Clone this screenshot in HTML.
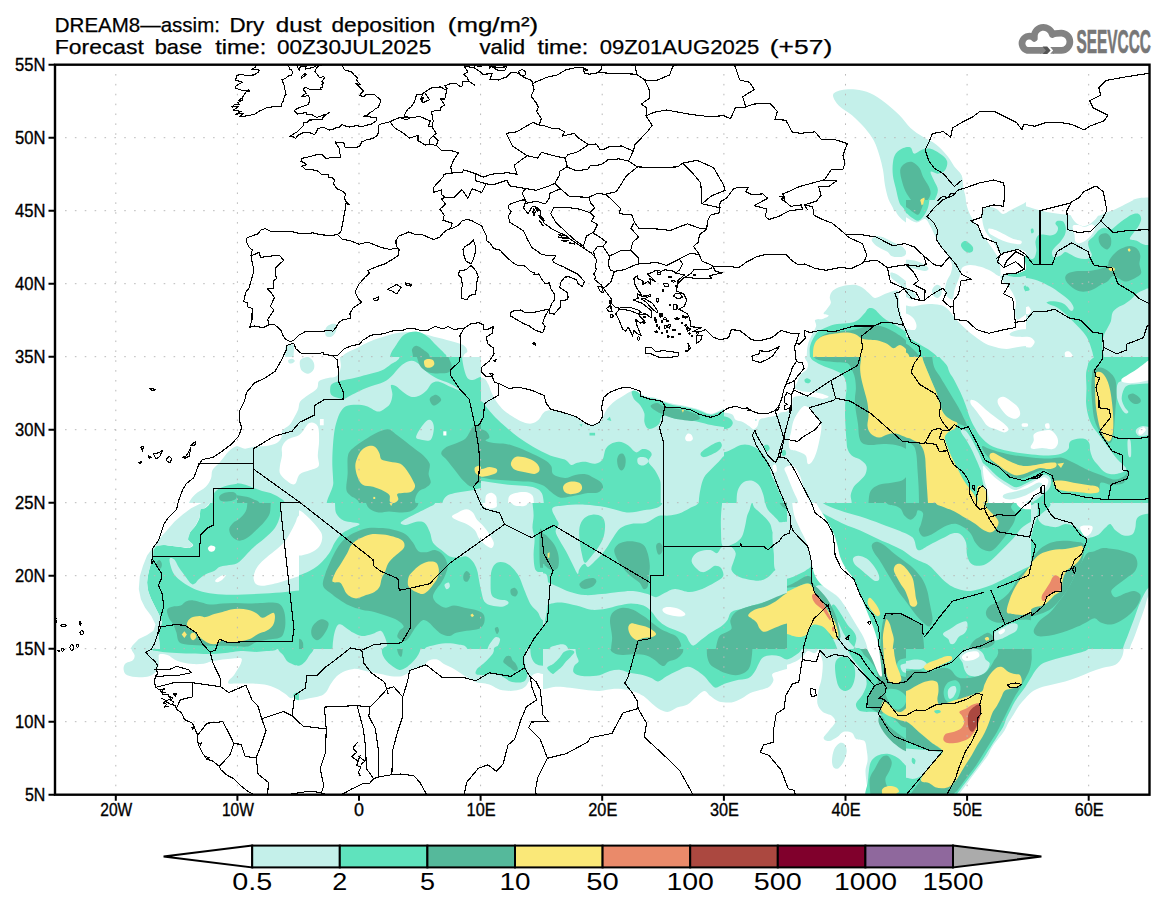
<!DOCTYPE html>
<html><head><meta charset="utf-8"><title>DREAM8-assim Dry dust deposition</title>
<style>html,body{margin:0;padding:0;background:#fff;}svg{display:block}text{font-family:"Liberation Sans",sans-serif;fill:#000}</style></head><body>
<svg width="1165" height="907" viewBox="0 0 1165 907">
<rect width="1165" height="907" fill="#fff"/>
<defs><clipPath id="mc"><rect x="55.0" y="64.7" width="1094.5" height="730.0"/></clipPath></defs>
<g clip-path="url(#mc)">
<clipPath id="t0"><rect x="724.0" y="64.0" width="426.0" height="147.0"/></clipPath>
<g clip-path="url(#t0)">
<path d="M833.0 95.1C833.3 92.5 837.2 91.2 841.0 90.3C844.8 89.4 850.8 89.1 855.6 89.6C860.5 90.1 865.4 91.1 870.3 93.3C875.1 95.4 880.0 98.7 884.9 102.4C889.8 106.0 895.2 110.9 899.5 115.2C903.8 119.5 906.5 124.3 910.5 128.0C914.4 131.6 919.0 134.4 923.3 137.1C927.5 139.9 932.1 141.4 936.1 144.4C940.0 147.5 944.0 151.8 947.0 155.4C950.1 159.1 951.9 163.0 954.3 166.4C956.8 169.7 960.1 171.9 961.7 175.5C963.2 179.2 962.8 184.0 963.5 188.3C964.2 192.6 965.6 194.4 966.0 201.1C966.5 207.8 977.7 224.0 966.0 228.5C954.3 233.1 907.9 231.5 895.8 228.5C883.8 225.6 895.2 215.9 894.0 211.0C892.8 206.1 890.1 203.7 888.5 199.3C887.0 194.9 885.8 189.5 884.9 184.7C884.0 179.8 884.0 174.9 883.0 170.0C882.1 165.2 880.9 160.3 879.4 155.4C877.9 150.5 876.3 145.4 873.9 140.8C871.5 136.2 868.4 132.3 864.8 128.0C861.1 123.7 856.2 118.8 852.0 115.2C847.7 111.5 842.3 109.4 839.2 106.0C836.0 102.7 832.7 97.7 833.0 95.1Z" fill="#c4f0ea"/>
<path d="M892.9 162.7C893.4 159.1 894.1 156.0 895.8 153.6C897.6 151.1 900.7 149.1 903.2 148.1C905.6 147.1 908.6 146.4 910.5 147.4C912.3 148.3 912.3 153.2 914.1 153.6C916.0 154.0 918.7 150.7 921.4 149.9C924.2 149.1 927.5 148.2 930.6 148.8C933.6 149.4 937.0 151.6 939.7 153.6C942.5 155.6 946.1 158.1 947.0 160.9C947.9 163.6 946.7 167.9 945.2 170.0C943.7 172.2 940.3 173.4 937.9 173.7C935.5 174.0 931.2 170.6 930.6 171.9C930.0 173.1 933.0 178.0 934.2 181.0C935.5 184.0 937.9 186.8 937.9 190.1C937.9 193.5 935.8 197.6 934.2 201.1C932.7 204.6 930.0 206.4 928.8 211.0C927.5 215.6 930.6 225.6 926.9 228.5C923.3 231.5 910.5 231.5 906.8 228.5C903.2 225.6 906.2 215.2 905.0 211.0C903.8 206.7 901.0 206.7 899.5 202.9C898.0 199.2 896.9 192.9 895.8 188.3C894.7 183.7 893.4 179.8 892.9 175.5C892.4 171.3 892.4 166.4 892.9 162.7Z" fill="#5fe3bd"/>
<path d="M900.2 170.0C900.7 166.8 903.0 164.8 905.0 163.5C907.0 162.1 909.9 161.2 912.3 162.0C914.7 162.8 917.8 165.6 919.6 168.2C921.4 170.8 921.7 174.3 923.3 177.3C924.8 180.4 927.5 183.7 928.8 186.5C930.0 189.2 930.9 191.4 930.6 193.8C930.3 196.2 928.4 199.3 926.9 201.1C925.4 202.9 923.6 204.5 921.4 204.8C919.3 205.1 916.6 204.8 914.1 202.9C911.7 201.1 908.8 197.2 906.8 193.8C904.9 190.4 903.5 186.8 902.4 182.8C901.3 178.9 899.8 173.3 900.2 170.0Z" fill="#55b99b"/>
<path d="M920.7 199.3L924.4 197.5L925.1 204.8L921.4 206.6Z" fill="#fae878"/>
<path d="M1124.4 211.0C1125.3 206.7 1125.9 205.0 1128.0 202.9C1130.2 200.9 1133.5 199.5 1137.2 198.6C1140.8 197.6 1143.9 197.6 1150.0 197.5C1156.1 197.3 1169.8 192.3 1173.7 197.5C1177.7 202.6 1182.3 223.4 1173.7 228.5C1165.2 233.7 1130.8 231.5 1122.5 228.5C1114.3 225.6 1123.5 215.2 1124.4 211.0Z" fill="#c4f0ea"/>
<path d="M985.4 211.0C986.0 207.4 986.9 208.1 989.1 207.3C991.2 206.6 995.5 206.0 998.2 206.6C1001.0 207.2 1004.3 207.3 1005.5 211.0C1006.8 214.6 1008.9 225.6 1005.5 228.5C1002.2 231.5 988.8 231.5 985.4 228.5C982.1 225.6 984.8 214.5 985.4 211.0Z" fill="#c4f0ea"/>
<path d="M1016.5 211.0C1017.1 207.3 1018.0 207.2 1020.2 206.6C1022.3 206.0 1026.9 206.6 1029.3 207.3C1031.7 208.1 1033.9 207.4 1034.8 211.0C1035.7 214.5 1037.8 225.6 1034.8 228.5C1031.7 231.5 1019.6 231.5 1016.5 228.5C1013.5 225.6 1015.9 214.6 1016.5 211.0Z" fill="#c4f0ea"/>
</g>
<clipPath id="t1"><rect x="237.0" y="211.0" width="488.0" height="146.0"/></clipPath>
<g clip-path="url(#t1)">
<path d="M339.6 378.6C335.4 375.0 338.6 362.4 341.7 357.2C344.9 352.0 353.6 349.9 358.5 347.2C363.4 344.4 366.9 342.6 371.1 340.9C375.2 339.1 378.7 338.1 383.6 336.7C388.5 335.3 394.8 333.2 400.4 332.5C406.0 331.8 411.6 331.8 417.1 332.5C422.7 333.2 428.3 335.3 433.9 336.7C439.5 338.1 445.8 339.5 450.7 340.9C455.5 342.3 460.4 343.3 463.2 345.1C466.0 346.8 467.4 349.3 467.4 351.3C467.4 353.4 463.9 352.7 463.2 357.2C462.5 361.7 479.3 375.0 463.2 378.6C447.2 382.1 387.5 378.6 366.9 378.6C346.3 378.6 343.8 382.1 339.6 378.6Z" fill="#c4f0ea"/>
<path d="M325.8 328.3C326.7 326.3 329.4 324.7 331.3 324.1C333.1 323.6 336.0 323.6 336.7 325.0C337.4 326.3 336.4 330.5 335.4 332.5C334.5 334.4 332.9 336.1 331.3 336.7C329.7 337.2 326.7 337.2 325.8 335.8C324.9 334.4 324.9 330.3 325.8 328.3Z" fill="#c4f0ea"/>
<path d="M286.4 345.9C287.8 344.5 292.4 343.2 293.6 345.1C294.7 346.9 293.6 351.6 293.6 357.2C293.6 362.8 295.0 375.0 293.6 378.6C292.2 382.1 286.6 382.8 285.2 378.6C283.8 374.4 285.0 358.9 285.2 353.4C285.4 348.0 285.0 347.3 286.4 345.9Z" fill="#c4f0ea"/>
<path d="M389.9 357.2C391.0 351.6 393.8 348.8 396.2 345.1C398.6 341.3 401.1 336.8 404.6 334.6C408.1 332.4 413.3 331.3 417.1 331.7C421.0 332.0 424.5 334.4 427.6 336.7C430.8 338.9 433.2 342.3 436.0 345.1C438.8 347.9 442.6 351.4 444.4 353.4C446.1 355.5 446.1 353.0 446.5 357.2C446.8 361.4 455.9 375.0 446.5 378.6C437.0 382.1 399.3 382.1 389.9 378.6C380.5 375.0 388.9 362.8 389.9 357.2Z" fill="#5fe3bd"/>
<path d="M413.0 357.2C412.8 352.3 411.4 351.1 412.1 349.2C412.8 347.4 414.9 345.5 417.1 345.9C419.4 346.2 423.4 349.5 425.5 351.3C427.6 353.2 429.0 352.7 429.7 357.2C430.4 361.7 432.5 375.0 429.7 378.6C426.9 382.1 415.7 382.1 413.0 378.6C410.2 375.0 413.1 362.1 413.0 357.2Z" fill="#55b99b"/>
</g>
<clipPath id="t2"><rect x="724.0" y="211.0" width="244.0" height="146.0"/></clipPath>
<g clip-path="url(#t2)">
<path d="M806.7 370.2C777.6 368.0 806.5 361.2 806.7 357.0C806.9 352.8 806.9 348.8 807.8 345.0C808.6 341.3 810.6 337.7 812.0 334.6C813.4 331.4 815.6 328.6 816.1 326.2C816.7 323.7 814.1 321.1 815.1 319.9C816.1 318.7 820.2 319.6 822.4 318.9C824.7 318.2 828.5 316.6 828.7 315.7C828.9 314.8 823.8 314.7 823.5 313.6C823.1 312.6 825.4 311.2 826.6 309.4C827.8 307.7 830.3 305.2 830.8 303.1C831.3 301.1 829.4 299.0 829.8 296.9C830.1 294.8 831.0 292.3 832.9 290.6C834.8 288.8 837.8 287.4 841.3 286.4C844.8 285.4 850.4 284.5 853.8 284.7C857.3 284.9 859.8 286.1 862.2 287.4C864.7 288.8 866.4 290.9 868.5 292.7C870.6 294.4 872.3 297.6 874.8 297.9C877.2 298.3 880.4 295.8 883.2 294.8C886.0 293.7 889.1 292.3 891.5 291.6C894.0 290.9 896.6 289.4 897.8 290.6C899.0 291.8 898.5 295.8 898.9 299.0C899.2 302.1 899.4 306.3 899.9 309.4C900.4 312.6 901.3 315.2 902.0 317.8C902.7 320.4 903.1 323.0 904.1 325.1C905.2 327.2 906.5 330.0 908.3 330.4C910.0 330.7 913.2 329.0 914.6 327.2C916.0 325.5 916.5 322.5 916.7 319.9C916.8 317.3 916.3 314.0 915.6 311.5C914.9 309.1 912.3 306.6 912.5 305.2C912.7 303.8 914.6 303.3 916.7 303.1C918.8 303.0 921.9 304.2 925.0 304.2C928.2 304.2 932.4 302.8 935.5 303.1C938.7 303.5 941.1 305.2 943.9 306.3C946.7 307.3 950.2 307.2 952.3 309.4C954.4 311.7 954.4 317.5 956.5 319.9C958.6 322.3 962.9 322.7 964.8 324.1C966.8 325.5 965.2 327.4 968.0 328.3C970.8 329.2 979.3 322.3 981.6 329.3C983.9 336.3 1010.7 363.4 981.6 370.2C952.4 377.0 835.9 372.4 806.7 370.2Z" fill="#c4f0ea"/>
<path d="M871.6 239.3C872.0 237.9 874.6 236.3 876.9 236.1C879.1 236.0 882.5 237.2 885.3 238.2C888.0 239.3 890.8 241.0 893.6 242.4C896.4 243.8 899.9 245.0 902.0 246.6C904.1 248.2 905.8 250.3 906.2 251.8C906.5 253.4 905.5 255.2 904.1 256.0C902.7 256.9 899.9 257.1 897.8 257.1C895.7 257.1 893.3 256.9 891.5 256.0C889.8 255.2 889.1 253.1 887.4 251.8C885.6 250.6 883.2 249.9 881.1 248.7C879.0 247.5 876.4 246.1 874.8 244.5C873.2 242.9 871.3 240.7 871.6 239.3Z" fill="#c4f0ea"/>
<path d="M890.5 272.8C891.2 272.1 893.8 273.0 895.7 273.8C897.6 274.7 899.9 276.4 902.0 278.0C904.1 279.6 906.2 281.5 908.3 283.3C910.4 285.0 912.7 286.7 914.6 288.5C916.5 290.2 918.8 292.2 919.8 293.7C920.9 295.3 921.6 297.4 920.9 297.9C920.2 298.4 917.5 297.7 915.6 296.9C913.7 296.0 911.4 294.2 909.3 292.7C907.2 291.1 905.2 289.2 903.1 287.4C901.0 285.7 898.7 283.8 896.8 282.2C894.9 280.6 892.6 279.6 891.5 278.0C890.5 276.4 889.8 273.5 890.5 272.8Z" fill="#c4f0ea"/>
<path d="M906.2 261.3C907.4 260.3 911.8 260.0 914.6 260.2C917.4 260.4 921.0 261.3 923.0 262.3C924.9 263.4 926.4 265.3 926.1 266.5C925.7 267.7 923.1 269.3 920.9 269.6C918.6 270.0 914.8 269.2 912.5 268.6C910.2 268.0 908.3 267.1 907.2 265.9C906.2 264.6 905.0 262.2 906.2 261.3Z" fill="#c4f0ea"/>
<path d="M894.7 198.4C880.4 200.5 894.5 207.5 895.7 211.0C896.9 214.5 899.2 216.8 902.0 219.4C904.8 222.0 908.6 224.1 912.5 226.7C916.3 229.3 921.4 232.1 925.0 235.1C928.7 238.1 931.7 241.5 934.5 244.5C937.3 247.5 939.4 250.1 941.8 252.9C944.2 255.7 947.2 258.6 949.1 261.3C951.1 263.9 952.4 265.8 953.3 268.6C954.2 271.4 953.8 274.7 954.4 278.0C954.9 281.3 956.3 285.0 956.5 288.5C956.6 292.0 955.8 295.5 955.4 299.0C955.1 302.4 954.2 305.9 954.4 309.4C954.5 312.9 954.7 317.5 956.5 319.9C958.2 322.3 960.6 322.7 964.8 324.1C969.0 325.5 978.8 349.2 981.6 328.3C984.4 307.3 996.1 220.1 981.6 198.4C967.1 176.8 909.0 196.3 894.7 198.4Z" fill="#c4f0ea"/>
<path d="M904.1 198.4C900.7 200.5 904.3 208.0 905.2 211.0C906.0 214.0 907.6 214.7 909.3 216.2C911.1 217.8 913.7 219.6 915.6 220.4C917.5 221.3 919.5 222.0 920.9 221.5C922.3 220.9 923.3 219.0 924.0 217.3C924.7 215.5 924.8 214.1 925.0 211.0C925.3 207.9 929.0 200.5 925.5 198.4C922.0 196.3 907.5 196.3 904.1 198.4Z" fill="#5fe3bd"/>
<path d="M916.7 212.0C916.8 211.2 918.5 211.1 919.2 211.4C919.9 211.8 921.0 213.3 920.9 214.1C920.7 214.9 919.0 216.6 918.3 216.2C917.6 215.9 916.5 212.8 916.7 212.0Z" fill="#55b99b"/>
<path d="M961.7 242.4C962.0 241.0 963.8 240.5 964.8 240.3C965.9 240.1 965.2 241.0 968.0 241.4C970.8 241.7 979.3 240.5 981.6 242.4C983.9 244.3 983.9 251.3 981.6 252.9C979.3 254.5 971.1 252.5 968.0 251.8C964.8 251.1 963.8 250.3 962.7 248.7C961.7 247.1 961.3 243.8 961.7 242.4Z" fill="#5fe3bd"/>
<path d="M809.9 357.0C809.9 353.1 809.3 350.2 809.9 347.1C810.4 344.1 811.6 341.4 813.0 338.7C814.4 336.1 816.0 333.3 818.2 331.4C820.5 329.5 823.5 328.5 826.6 327.2C829.8 326.0 833.2 324.8 837.1 324.1C840.9 323.4 846.2 323.7 849.7 323.0C853.1 322.3 855.6 321.5 858.0 319.9C860.5 318.3 862.6 315.5 864.3 313.6C866.1 311.7 866.8 309.1 868.5 308.4C870.2 307.7 872.9 308.4 874.8 309.4C876.7 310.5 878.1 312.9 880.0 314.7C881.9 316.4 884.0 318.3 886.3 319.9C888.6 321.5 891.0 322.5 893.6 324.1C896.3 325.7 899.2 327.6 902.0 329.3C904.8 331.1 907.6 333.0 910.4 334.6C913.2 336.1 916.3 337.0 918.8 338.7C921.2 340.5 923.5 342.6 925.0 345.0C926.6 347.5 927.5 351.4 928.2 353.4C928.9 355.4 928.9 354.2 929.2 357.0C929.6 359.8 950.2 368.0 930.3 370.2C910.4 372.4 829.9 372.4 809.9 370.2C789.8 368.0 809.9 360.8 809.9 357.0Z" fill="#5fe3bd"/>
<path d="M814.1 357.0C814.1 353.1 813.4 350.2 814.1 347.1C814.8 344.1 816.1 341.0 818.2 338.7C820.3 336.5 823.5 334.7 826.6 333.5C829.8 332.3 833.2 331.9 837.1 331.4C840.9 330.9 845.8 330.9 849.7 330.4C853.5 329.8 856.6 329.2 860.1 328.3C863.6 327.4 867.1 325.5 870.6 325.1C874.1 324.8 877.6 325.3 881.1 326.2C884.6 327.1 888.4 328.8 891.5 330.4C894.7 331.9 897.5 333.9 899.9 335.6C902.4 337.4 904.1 338.9 906.2 340.8C908.3 342.8 910.7 344.7 912.5 347.1C914.2 349.6 915.8 351.7 916.7 355.5C917.5 359.3 934.8 367.7 917.7 370.2C900.6 372.6 831.3 372.4 814.1 370.2C796.8 368.0 814.1 360.8 814.1 357.0Z" fill="#55b99b"/>
<path d="M813.0 357.0C813.1 353.1 812.9 350.0 813.6 347.1C814.3 344.3 815.4 341.7 817.2 339.8C819.0 337.9 821.6 336.7 824.5 335.6C827.5 334.6 831.2 334.0 835.0 333.5C838.8 333.0 844.1 332.3 847.6 332.5C851.1 332.6 853.5 333.5 855.9 334.6C858.4 335.6 859.8 337.9 862.2 338.7C864.7 339.6 867.8 339.4 870.6 339.8C873.4 340.1 876.2 340.1 879.0 340.8C881.8 341.5 884.9 342.8 887.4 344.0C889.8 345.2 891.5 348.0 893.6 348.2C895.7 348.3 897.8 344.9 899.9 345.0C902.0 345.2 904.3 347.5 906.2 349.2C908.1 351.0 910.4 352.0 911.4 355.5C912.5 359.0 928.9 367.7 912.5 370.2C896.1 372.6 829.6 372.4 813.0 370.2C796.4 368.0 812.9 360.8 813.0 357.0Z" fill="#fae878"/>
</g>
<clipPath id="t3"><rect x="906.0" y="200.0" width="124.0" height="157.0"/></clipPath>
<g clip-path="url(#t3)">
<path d="M895.6 189.6L1044.6 189.6L1044.6 366.3L895.6 366.3Z" fill="#ffffff"/>
<path d="M926.8 189.6C938.3 186.1 958.4 187.9 964.9 189.6C971.4 191.3 965.2 196.5 965.8 200.0C966.3 203.5 967.0 206.9 968.3 210.4C969.6 213.9 971.5 217.3 973.5 220.8C975.6 224.2 978.2 227.7 980.5 231.2C982.8 234.6 985.2 238.4 987.4 241.6C989.6 244.7 991.6 247.3 993.5 250.2C995.3 253.1 997.5 255.7 998.7 258.9C999.8 262.1 1000.2 266.4 1000.4 269.3C1000.5 272.2 1001.1 275.9 999.5 276.2C997.9 276.5 994.0 272.6 990.9 271.0C987.7 269.4 983.9 267.7 980.5 266.7C977.0 265.7 973.1 264.8 970.1 264.9C967.0 265.1 964.0 265.7 962.3 267.5C960.6 269.4 960.6 273.6 959.7 276.2C958.8 278.8 958.0 280.8 957.1 283.1C956.2 285.4 955.2 287.5 954.5 290.1C953.8 292.7 953.9 297.6 952.8 298.7C951.6 299.9 948.9 298.4 947.6 297.0C946.3 295.5 945.1 292.7 945.0 290.1C944.8 287.5 945.7 284.3 946.7 281.4C947.7 278.5 950.2 275.6 951.0 272.7C951.9 269.9 952.5 267.0 951.9 264.1C951.3 261.2 949.3 258.3 947.6 255.4C945.8 252.5 943.5 249.9 941.5 246.8C939.5 243.6 937.3 239.8 935.4 236.4C933.6 232.9 932.0 228.9 930.2 226.0C928.5 223.1 927.4 219.6 925.1 219.1C922.7 218.5 919.6 222.8 916.4 222.5C913.2 222.2 909.5 219.3 906.0 217.3C902.5 215.3 892.1 215.0 895.6 210.4C899.1 205.8 915.2 193.1 926.8 189.6Z" fill="#c4f0ea"/>
<path d="M982.2 210.4C983.1 208.4 985.1 207.2 987.4 206.9C989.7 206.6 993.5 207.5 996.1 208.7C998.7 209.8 1000.7 213.6 1003.0 213.9C1005.3 214.1 1007.6 211.5 1009.9 210.4C1012.2 209.2 1014.5 208.1 1016.8 206.9C1019.2 205.8 1021.6 204.6 1023.8 203.5C1026.0 202.3 1026.5 201.2 1030.0 200.0C1033.5 198.8 1042.1 187.0 1044.6 196.5C1047.0 206.1 1047.0 247.3 1044.6 257.2C1042.1 267.0 1033.2 256.3 1030.0 255.4C1026.8 254.6 1027.1 253.0 1025.5 252.0C1023.9 250.9 1022.0 249.6 1020.3 249.4C1018.6 249.1 1016.8 249.8 1015.1 250.2C1013.4 250.7 1011.9 251.4 1009.9 252.0C1007.9 252.5 1004.9 253.7 1003.0 253.7C1001.1 253.7 999.8 253.1 998.7 252.0C997.5 250.8 997.1 248.6 996.1 246.8C995.0 244.9 994.0 242.7 992.6 240.7C991.2 238.7 988.8 236.8 987.4 234.6C986.0 232.5 984.8 230.3 983.9 227.7C983.1 225.1 982.5 221.9 982.2 219.1C981.9 216.2 981.3 212.4 982.2 210.4Z" fill="#c4f0ea"/>
<path d="M988.8 228.6C989.9 228.1 993.4 229.3 996.1 230.3C998.7 231.3 1001.8 233.2 1004.7 234.6C1007.6 236.1 1010.6 238.0 1013.4 239.0C1016.1 240.0 1020.0 239.8 1021.2 240.7C1022.3 241.6 1021.9 243.7 1020.3 244.2C1018.7 244.6 1014.5 243.9 1011.6 243.3C1008.8 242.7 1005.9 241.9 1003.0 240.7C1000.1 239.5 996.6 237.7 994.3 236.4C992.0 235.1 990.1 234.2 989.1 232.9C988.2 231.6 987.6 229.0 988.8 228.6Z" fill="#ffffff"/>
<path d="M1000.4 276.2C1001.0 275.0 1004.3 274.5 1006.5 274.5C1008.6 274.5 1011.1 276.2 1013.4 276.2C1015.7 276.2 1017.5 275.0 1020.3 274.5C1023.1 273.9 1026.0 273.0 1030.0 272.7C1034.0 272.5 1042.1 266.4 1044.6 272.7C1047.0 279.1 1047.0 304.2 1044.6 310.8C1042.1 317.5 1033.5 311.7 1030.0 312.6C1026.5 313.4 1026.0 314.9 1023.8 316.0C1021.6 317.2 1018.3 320.4 1016.8 319.5C1015.4 318.6 1015.3 313.7 1015.1 310.8C1015.0 308.0 1016.3 304.9 1016.0 302.2C1015.7 299.4 1014.7 297.0 1013.4 294.4C1012.1 291.8 1009.9 288.8 1008.2 286.6C1006.5 284.4 1004.3 283.1 1003.0 281.4C1001.7 279.7 999.8 277.4 1000.4 276.2Z" fill="#c4f0ea"/>
<path d="M895.6 303.9C897.3 293.8 903.1 305.2 906.0 305.6C908.9 306.1 910.3 306.7 912.9 306.5C915.5 306.4 918.4 305.2 921.6 304.8C924.8 304.3 928.5 303.8 932.0 303.9C935.4 304.1 939.5 304.5 942.4 305.6C945.3 306.8 947.0 308.5 949.3 310.8C951.6 313.2 953.6 316.6 956.2 319.5C958.8 322.4 961.7 325.3 964.9 328.2C968.1 331.0 971.8 334.2 975.3 336.8C978.7 339.4 982.2 342.0 985.7 343.7C989.1 345.5 992.6 346.3 996.1 347.2C999.5 348.1 1003.0 348.9 1006.5 348.9C1009.9 348.9 1012.9 347.8 1016.8 347.2C1020.8 346.6 1025.4 346.1 1030.0 345.5C1034.6 344.9 1042.1 340.3 1044.6 343.7C1047.0 347.2 1069.4 362.5 1044.6 366.3C1019.7 370.0 920.4 376.7 895.6 366.3C870.8 355.9 893.9 314.0 895.6 303.9Z" fill="#c4f0ea"/>
<path d="M1009.9 333.4C1011.1 332.3 1015.2 330.6 1018.6 329.9C1021.9 329.2 1025.7 329.2 1030.0 329.0C1034.3 328.9 1042.1 327.7 1044.6 329.0C1047.0 330.3 1047.0 335.5 1044.6 336.8C1042.1 338.1 1034.3 336.8 1030.0 336.8C1025.7 336.8 1021.6 337.0 1018.6 336.8C1015.5 336.7 1013.1 336.5 1011.6 336.0C1010.2 335.4 1008.8 334.4 1009.9 333.4Z" fill="#c4f0ea"/>
<path d="M895.6 312.6C897.3 310.1 903.1 312.6 906.0 313.4C908.9 314.3 911.2 315.9 912.9 317.8C914.7 319.6 916.1 322.7 916.4 324.7C916.7 326.7 916.4 329.2 914.7 329.9C912.9 330.6 909.2 329.3 906.0 329.0C902.8 328.7 897.3 330.9 895.6 328.2C893.9 325.4 893.9 315.0 895.6 312.6Z" fill="#ffffff"/>
<path d="M895.6 260.6C897.3 259.2 902.8 259.8 906.0 259.8C909.2 259.8 911.8 259.9 914.7 260.6C917.5 261.3 921.0 262.8 923.3 264.1C925.6 265.4 928.2 267.3 928.5 268.4C928.8 269.6 927.1 270.9 925.1 271.0C923.0 271.2 919.6 269.9 916.4 269.3C913.2 268.7 909.5 267.7 906.0 267.5C902.5 267.4 897.3 269.6 895.6 268.4C893.9 267.3 893.9 262.1 895.6 260.6Z" fill="#c4f0ea"/>
<path d="M895.6 286.6C897.3 285.2 903.1 286.6 906.0 287.5C908.9 288.3 911.2 290.2 912.9 291.8C914.7 293.4 916.7 295.7 916.4 297.0C916.1 298.3 912.9 299.6 911.2 299.6C909.5 299.6 908.6 297.6 906.0 297.0C903.4 296.4 897.3 297.9 895.6 296.1C893.9 294.4 893.9 288.0 895.6 286.6Z" fill="#c4f0ea"/>
<path d="M932.0 290.1C932.4 288.2 934.9 285.4 936.3 284.9C937.8 284.3 939.8 285.2 940.6 286.6C941.5 288.0 941.9 291.6 941.5 293.5C941.1 295.4 939.3 297.4 938.0 297.9C936.7 298.3 934.7 297.4 933.7 296.1C932.7 294.8 931.5 291.9 932.0 290.1Z" fill="#c4f0ea"/>
<path d="M895.6 189.6C901.4 186.4 924.6 187.9 930.2 189.6C935.9 191.3 929.8 196.8 929.4 200.0C928.9 203.2 928.7 205.9 927.6 208.7C926.6 211.4 924.9 214.4 923.3 216.5C921.7 218.5 920.1 220.6 918.1 220.8C916.1 220.9 913.2 218.6 911.2 217.3C909.2 216.0 908.6 214.4 906.0 213.0C903.4 211.5 897.3 212.6 895.6 208.7C893.9 204.8 889.8 192.8 895.6 189.6Z" fill="#5fe3bd"/>
<path d="M895.6 189.6C900.5 187.0 920.3 187.9 925.1 189.6C929.8 191.3 924.8 196.8 924.2 200.0C923.6 203.2 922.6 206.2 921.6 208.7C920.6 211.1 919.6 214.1 918.1 214.7C916.7 215.3 914.9 213.4 912.9 212.1C910.9 210.8 908.9 208.1 906.0 206.9C903.1 205.8 897.3 208.1 895.6 205.2C893.9 202.3 890.7 192.2 895.6 189.6Z" fill="#55b99b"/>
<path d="M919.9 189.6L920.2 200.0L921.6 205.2L923.3 204.3L924.2 200.0L924.7 189.6Z" fill="#fae878"/>
<path d="M961.1 244.2C961.4 243.1 962.8 241.5 964.0 241.2C965.2 240.9 966.9 241.5 968.3 242.4C969.8 243.4 972.0 245.3 972.7 246.8C973.4 248.2 973.3 250.1 972.7 251.1C972.1 252.1 970.5 252.8 969.2 252.8C967.9 252.8 966.1 252.0 964.9 251.1C963.6 250.2 962.4 248.8 961.8 247.6C961.1 246.5 960.7 245.2 961.1 244.2Z" fill="#5fe3bd"/>
<path d="M1023.8 257.2C1024.6 255.9 1026.5 255.4 1030.0 254.6C1033.5 253.7 1042.1 247.5 1044.6 252.0C1047.0 256.4 1047.0 276.6 1044.6 281.4C1042.1 286.2 1033.2 281.4 1030.0 280.5C1026.8 279.7 1027.4 276.8 1025.5 276.2C1023.6 275.6 1021.2 277.1 1018.6 277.1C1016.0 277.1 1012.1 276.8 1009.9 276.2C1007.7 275.6 1005.3 274.0 1005.6 273.6C1005.9 273.3 1009.3 274.3 1011.6 274.1C1014.0 274.0 1017.1 273.5 1019.4 272.7C1021.8 271.9 1024.9 271.0 1025.8 269.3C1026.8 267.5 1025.5 264.4 1025.2 262.3C1024.8 260.3 1023.0 258.5 1023.8 257.2Z" fill="#5fe3bd"/>
<path d="M1000.4 257.2C1000.8 255.3 1002.8 253.7 1004.7 252.8C1006.6 252.0 1009.3 251.5 1011.6 252.0C1014.0 252.4 1016.6 253.7 1018.6 255.4C1020.6 257.2 1022.6 260.0 1023.8 262.3C1024.9 264.7 1026.4 267.5 1025.5 269.3C1024.6 271.0 1020.9 272.0 1018.6 272.7C1016.3 273.5 1013.8 274.0 1011.6 273.6C1009.5 273.2 1007.2 271.7 1005.6 270.1C1004.0 268.6 1003.0 266.2 1002.1 264.1C1001.3 261.9 1000.0 259.0 1000.4 257.2Z" fill="#ffffff"/>
<path d="M1023.8 286.6C1024.1 285.7 1026.2 285.4 1027.2 285.7C1028.3 286.0 1029.7 287.3 1030.0 288.3C1030.3 289.3 1029.8 291.4 1029.0 291.8C1028.2 292.2 1026.0 291.8 1025.2 290.9C1024.3 290.1 1023.4 287.5 1023.8 286.6Z" fill="#5fe3bd"/>
<path d="M895.6 335.1C897.3 330.2 903.1 336.0 906.0 336.8C908.9 337.7 910.3 338.8 912.9 340.3C915.5 341.7 918.7 343.7 921.6 345.5C924.5 347.2 927.6 348.7 930.2 350.7C932.8 352.6 936.0 354.5 937.2 357.1C938.3 359.7 944.1 364.7 937.2 366.3C930.2 367.8 902.5 371.5 895.6 366.3C888.7 361.1 893.9 340.0 895.6 335.1Z" fill="#5fe3bd"/>
<path d="M895.6 342.0C897.3 338.3 903.1 342.6 906.0 343.7C908.9 344.9 910.6 346.7 912.9 348.9C915.2 351.2 918.7 354.2 919.9 357.1C921.0 360.0 923.9 364.7 919.9 366.3C915.8 367.8 899.6 370.3 895.6 366.3C891.6 362.2 893.9 345.8 895.6 342.0Z" fill="#55b99b"/>
<path d="M895.6 350.7C897.3 348.4 903.7 351.3 906.0 352.4C908.3 353.5 908.9 354.8 909.5 357.1C910.0 359.4 911.8 364.7 909.5 366.3C907.2 367.8 897.9 368.9 895.6 366.3C893.3 363.7 893.9 353.0 895.6 350.7Z" fill="#fae878"/>
</g>
<clipPath id="t4"><rect x="1026.0" y="200.0" width="124.0" height="157.0"/></clipPath>
<g clip-path="url(#t4)">
<path d="M1015.6 189.6L1164.6 189.6L1164.6 366.3L1015.6 366.3Z" fill="#c4f0ea"/>
<path d="M1015.6 189.6C990.8 192.1 1014.5 201.7 1015.6 204.3C1016.7 206.9 1018.1 204.2 1022.2 205.2C1026.3 206.2 1035.1 209.1 1040.2 210.4C1045.3 211.7 1048.5 212.3 1053.0 213.0C1057.6 213.7 1062.5 214.1 1067.6 214.7C1072.6 215.3 1077.8 216.3 1083.2 216.5C1088.5 216.6 1095.9 216.2 1099.4 215.6C1103.0 215.0 1101.9 214.0 1104.5 213.0C1107.0 212.0 1111.4 211.0 1114.8 209.5C1118.3 208.1 1121.6 206.1 1125.1 204.3C1128.5 202.6 1131.8 200.7 1135.5 199.1C1139.2 197.5 1142.4 196.4 1147.2 194.8C1152.1 193.2 1186.5 190.5 1164.6 189.6C1142.6 188.7 1040.4 187.2 1015.6 189.6Z" fill="#ffffff"/>
<path d="M1067.6 189.6C1062.7 191.3 1068.1 196.5 1068.4 200.0C1068.7 203.5 1068.6 207.2 1069.3 210.4C1070.0 213.6 1071.3 216.7 1072.8 219.1C1074.2 221.4 1075.9 223.1 1078.0 224.2C1080.0 225.4 1082.6 226.3 1084.9 226.0C1087.2 225.7 1089.8 224.0 1091.8 222.5C1093.8 221.1 1095.7 219.3 1097.0 217.3C1098.3 215.3 1099.3 213.3 1099.6 210.4C1099.9 207.5 1099.0 203.5 1098.7 200.0C1098.5 196.5 1103.1 191.3 1097.9 189.6C1092.7 187.9 1072.5 187.9 1067.6 189.6Z" fill="#ffffff"/>
<path d="M1072.8 226.0C1073.3 224.4 1075.9 225.0 1078.0 225.1C1080.0 225.3 1082.6 227.0 1084.9 226.8C1087.2 226.7 1090.1 224.1 1091.8 224.2C1093.5 224.4 1095.3 226.0 1095.3 227.7C1095.3 229.4 1093.3 232.6 1091.8 234.6C1090.4 236.7 1088.6 238.4 1086.6 239.8C1084.6 241.3 1081.6 243.0 1079.7 243.3C1077.8 243.6 1076.2 243.0 1075.4 241.6C1074.5 240.1 1074.9 237.2 1074.5 234.6C1074.1 232.0 1072.2 227.6 1072.8 226.0Z" fill="#ffffff"/>
<path d="M1100.5 189.6C1102.8 187.0 1114.0 187.9 1116.1 189.6C1118.1 191.3 1114.0 197.7 1112.6 200.0C1111.2 202.3 1109.1 202.6 1107.4 203.5C1105.7 204.3 1103.4 207.5 1102.2 205.2C1101.0 202.9 1098.2 192.2 1100.5 189.6Z" fill="#ffffff"/>
<path d="M1015.6 305.6C1017.3 304.4 1023.8 306.9 1026.0 307.0C1028.2 307.2 1027.7 305.9 1028.6 306.5C1029.5 307.1 1031.2 309.5 1031.2 310.8C1031.2 312.1 1029.5 313.8 1028.6 314.3C1027.7 314.8 1028.2 314.0 1026.0 314.0C1023.8 314.0 1017.3 315.7 1015.6 314.3C1013.9 312.9 1013.9 306.9 1015.6 305.6Z" fill="#ffffff"/>
<path d="M1015.6 336.8C1017.3 335.1 1023.4 336.7 1026.0 336.8C1028.6 337.0 1029.8 336.8 1031.2 337.7C1032.6 338.6 1034.7 340.4 1034.7 342.0C1034.7 343.6 1032.6 346.3 1031.2 347.2C1029.8 348.1 1028.6 347.2 1026.0 347.2C1023.4 347.2 1017.3 348.9 1015.6 347.2C1013.9 345.5 1013.9 338.6 1015.6 336.8Z" fill="#ffffff"/>
<path d="M1065.0 352.4C1065.5 351.4 1068.0 351.0 1069.3 351.5C1070.6 352.1 1072.5 354.6 1072.8 355.9C1073.0 357.2 1072.2 359.0 1071.0 359.3C1069.9 359.6 1066.8 358.8 1065.8 357.6C1064.8 356.4 1064.4 353.4 1065.0 352.4Z" fill="#ffffff"/>
<path d="M1015.6 252.0C1017.3 248.3 1023.4 254.3 1026.0 255.4C1028.6 256.6 1029.8 258.6 1031.2 258.9C1032.6 259.2 1033.8 258.6 1034.7 257.2C1035.5 255.7 1036.2 252.8 1036.4 250.2C1036.5 247.6 1035.2 244.0 1035.5 241.6C1035.8 239.1 1036.8 236.7 1038.1 235.5C1039.4 234.3 1041.3 234.6 1043.3 234.6C1045.3 234.6 1048.1 235.8 1050.2 235.5C1052.4 235.2 1055.0 234.2 1056.3 232.9C1057.6 231.6 1058.2 229.3 1058.0 227.7C1057.9 226.1 1055.4 224.5 1055.4 223.4C1055.4 222.2 1056.7 221.1 1058.0 220.8C1059.3 220.5 1061.9 220.5 1063.2 221.6C1064.5 222.8 1065.5 225.5 1065.8 227.7C1066.1 229.9 1065.8 232.3 1065.0 234.6C1064.1 236.9 1062.2 239.5 1060.6 241.6C1059.1 243.6 1056.9 245.0 1055.4 246.8C1054.0 248.5 1052.3 250.2 1052.0 252.0C1051.7 253.7 1052.3 256.6 1053.7 257.2C1055.2 257.7 1058.8 256.3 1060.6 255.4C1062.5 254.6 1063.5 252.2 1065.0 252.0C1066.4 251.7 1067.1 252.7 1069.3 253.7C1071.5 254.7 1075.1 257.2 1078.0 258.0C1080.8 258.9 1084.3 259.3 1086.6 258.9C1088.9 258.5 1091.4 257.2 1091.8 255.4C1092.2 253.7 1089.8 250.8 1089.2 248.5C1088.6 246.2 1087.6 243.6 1088.3 241.6C1089.1 239.5 1091.8 238.2 1093.5 236.4C1095.3 234.5 1097.0 231.8 1098.7 230.3C1100.5 228.9 1101.9 227.9 1103.9 227.7C1106.0 227.6 1108.6 230.0 1110.9 229.4C1113.2 228.9 1115.5 226.0 1117.8 224.2C1120.1 222.5 1122.4 220.6 1124.7 219.1C1127.0 217.5 1129.3 215.6 1131.6 214.7C1134.0 213.9 1137.0 213.1 1138.6 213.9C1140.2 214.6 1141.2 217.0 1141.2 219.1C1141.2 221.1 1139.9 223.7 1138.6 226.0C1137.3 228.3 1134.8 230.7 1133.4 232.9C1131.9 235.1 1129.3 237.7 1129.9 239.0C1130.5 240.3 1134.2 239.7 1136.8 240.7C1139.4 241.7 1140.9 244.0 1145.5 245.0C1150.1 246.0 1161.4 239.3 1164.6 246.8C1167.7 254.3 1167.0 283.1 1164.6 290.1C1162.1 297.0 1153.5 288.3 1150.0 288.3C1146.5 288.3 1146.0 289.2 1143.8 290.1C1141.6 290.9 1138.9 292.1 1136.8 293.5C1134.8 295.0 1133.7 297.0 1131.6 298.7C1129.6 300.5 1127.0 302.5 1124.7 303.9C1122.4 305.4 1119.8 305.9 1117.8 307.4C1115.8 308.8 1113.7 310.3 1112.6 312.6C1111.4 314.9 1111.7 318.6 1110.9 321.2C1110.0 323.8 1108.6 325.9 1107.4 328.2C1106.2 330.5 1104.8 332.5 1103.9 335.1C1103.1 337.7 1102.3 340.9 1102.2 343.7C1102.1 346.6 1102.8 350.2 1103.1 352.4C1103.4 354.6 1103.6 354.8 1103.9 357.1C1104.2 359.4 1106.4 364.7 1104.8 366.3C1103.2 367.8 1096.3 367.8 1094.4 366.3C1092.5 364.7 1094.1 360.3 1093.5 357.1C1093.0 353.9 1092.1 350.6 1090.9 347.2C1089.8 343.8 1088.5 340.0 1086.6 336.8C1084.7 333.6 1082.0 330.8 1079.7 328.2C1077.4 325.6 1075.1 323.5 1072.8 321.2C1070.5 318.9 1068.4 316.6 1065.8 314.3C1063.2 312.0 1060.1 309.1 1057.2 307.4C1054.3 305.6 1050.2 304.8 1048.5 303.9C1046.8 303.0 1045.9 302.6 1046.8 302.2C1047.6 301.7 1050.8 301.0 1053.7 301.3C1056.6 301.6 1061.2 302.3 1064.1 303.9C1067.0 305.5 1069.4 310.3 1071.0 310.8C1072.6 311.4 1073.9 309.1 1073.6 307.4C1073.3 305.6 1071.5 302.8 1069.3 300.5C1067.1 298.1 1063.8 295.8 1060.6 293.5C1057.5 291.2 1053.7 288.6 1050.2 286.6C1046.8 284.6 1043.0 282.7 1039.9 281.4C1036.7 280.1 1033.5 279.4 1031.2 278.8C1028.9 278.2 1028.6 278.2 1026.0 277.9C1023.4 277.6 1017.3 281.4 1015.6 277.1C1013.9 272.7 1013.9 255.6 1015.6 252.0Z" fill="#5fe3bd"/>
<path d="M1030.8 229.4C1031.1 228.7 1032.4 228.1 1032.9 228.6C1033.4 229.0 1034.0 231.3 1033.8 232.0C1033.6 232.8 1032.0 233.7 1031.5 233.3C1031.1 232.8 1030.6 230.2 1030.8 229.4Z" fill="#5fe3bd"/>
<path d="M1015.6 286.6C1017.3 286.0 1023.8 286.5 1026.0 286.6C1028.2 286.7 1028.0 286.9 1028.6 287.5C1029.2 288.0 1029.8 289.5 1029.5 290.1C1029.2 290.6 1029.2 290.9 1026.9 290.9C1024.6 291.0 1017.5 291.1 1015.6 290.4C1013.7 289.7 1013.9 287.2 1015.6 286.6Z" fill="#5fe3bd"/>
<path d="M1098.7 237.2C1099.2 235.6 1100.8 234.3 1102.2 233.8C1103.6 233.2 1106.0 233.1 1107.4 233.8C1108.8 234.5 1110.3 236.2 1110.9 238.1C1111.4 240.0 1111.4 243.2 1110.9 245.0C1110.3 246.9 1108.7 248.9 1107.4 249.4C1106.1 249.8 1104.4 248.6 1103.1 247.6C1101.8 246.6 1100.3 245.0 1099.6 243.3C1098.9 241.6 1098.3 238.8 1098.7 237.2Z" fill="#55b99b"/>
<path d="M1065.5 276.2C1066.1 274.9 1067.2 273.6 1069.3 272.7C1071.4 271.9 1074.8 271.3 1078.0 271.0C1081.1 270.7 1084.9 271.3 1088.3 271.0C1091.8 270.7 1095.6 270.1 1098.7 269.3C1101.9 268.4 1105.7 267.3 1107.4 265.8C1109.1 264.4 1108.0 262.6 1109.1 260.6C1110.3 258.6 1112.3 255.7 1114.3 253.7C1116.3 251.7 1118.7 249.8 1121.3 248.5C1123.9 247.2 1127.3 245.9 1129.9 245.9C1132.5 245.9 1135.1 246.9 1136.8 248.5C1138.6 250.1 1139.9 252.8 1140.3 255.4C1140.7 258.0 1139.3 261.2 1139.4 264.1C1139.6 267.0 1141.6 270.6 1141.2 272.7C1140.7 274.9 1138.7 275.8 1136.8 277.1C1135.0 278.4 1131.9 279.8 1129.9 280.5C1127.9 281.3 1126.7 281.8 1124.7 281.4C1122.7 281.0 1119.8 278.8 1117.8 277.9C1115.8 277.1 1114.3 275.6 1112.6 276.2C1110.9 276.8 1109.4 280.0 1107.4 281.4C1105.4 282.8 1103.1 283.4 1100.5 284.9C1097.9 286.3 1094.7 288.9 1091.8 290.1C1088.9 291.2 1085.8 291.8 1083.2 291.8C1080.6 291.8 1078.5 291.2 1076.2 290.1C1073.9 288.9 1071.0 286.5 1069.3 284.9C1067.6 283.3 1066.5 282.0 1065.8 280.5C1065.2 279.1 1064.9 277.5 1065.5 276.2Z" fill="#55b99b"/>
<path d="M1108.8 268.4C1109.1 267.9 1109.9 267.3 1110.9 267.2C1111.8 267.1 1113.7 267.4 1114.3 267.9C1115.0 268.4 1115.1 269.6 1114.7 270.1C1114.2 270.7 1112.7 271.0 1111.7 271.0C1110.8 271.0 1109.6 270.6 1109.1 270.1C1108.6 269.7 1108.5 268.9 1108.8 268.4Z" fill="#fae878"/>
<path d="M1127.8 249.4C1128.0 248.8 1129.1 248.3 1129.6 248.5C1130.0 248.7 1130.7 250.1 1130.6 250.6C1130.5 251.1 1129.3 251.8 1128.9 251.6C1128.4 251.4 1127.7 249.9 1127.8 249.4Z" fill="#fae878"/>
</g>
<clipPath id="t5"><rect x="55.0" y="357.0" width="182.0" height="146.0"/></clipPath>
<g clip-path="url(#t5)">
<path d="M186.9 516.2C177.9 514.0 187.6 506.6 189.0 503.0C190.4 499.3 192.5 496.9 195.3 494.2C198.1 491.5 203.2 489.5 205.8 486.8C208.4 484.2 209.9 481.3 211.0 478.5C212.1 475.7 211.1 472.7 212.5 470.1C213.9 467.5 216.7 465.9 219.4 462.8C222.1 459.6 225.9 454.0 228.8 451.2C231.8 448.4 234.8 446.7 237.2 446.0C239.6 445.3 242.4 435.4 243.5 447.1C244.5 458.7 252.9 504.6 243.5 516.2C234.1 527.7 196.0 518.4 186.9 516.2Z" fill="#c4f0ea"/>
<path d="M212.1 516.2C206.2 514.0 212.1 506.8 212.5 503.0C212.8 499.1 212.8 495.6 214.2 493.1C215.5 490.6 217.7 489.3 220.4 487.9C223.2 486.5 227.8 485.4 230.9 484.7C234.1 484.1 236.5 483.5 239.3 483.7C242.1 483.9 246.3 480.4 247.7 485.8C249.1 491.2 253.6 511.1 247.7 516.2C241.7 521.2 217.9 518.4 212.1 516.2Z" fill="#5fe3bd"/>
<path d="M219.4 496.3C220.1 495.0 222.4 493.4 224.6 492.7C226.9 492.0 231.0 491.7 233.0 492.1C235.0 492.5 236.4 494.0 236.8 495.2C237.1 496.4 236.8 498.4 235.1 499.4C233.4 500.5 229.2 501.3 226.7 501.5C224.3 501.7 221.7 501.3 220.4 500.5C219.2 499.6 218.7 497.6 219.4 496.3Z" fill="#55b99b"/>
</g>
<clipPath id="t6"><rect x="237.0" y="357.0" width="244.0" height="146.0"/></clipPath>
<g clip-path="url(#t6)">
<path d="M224.4 344.4L494.6 344.4L494.6 516.2L224.4 516.2Z" fill="#c4f0ea"/>
<path d="M224.4 344.4C243.9 327.7 321.8 342.3 341.1 344.4C360.4 346.5 340.1 353.2 340.0 357.0C340.0 360.8 341.3 364.3 340.7 367.5C340.1 370.7 338.6 374.5 336.5 376.3C334.4 378.0 331.0 377.1 328.1 377.9C325.2 378.7 320.9 379.3 319.1 381.1C317.2 382.8 318.8 386.1 317.0 388.4C315.2 390.8 311.0 392.9 308.2 395.1C305.4 397.3 301.9 399.2 300.2 401.6C298.6 404.0 299.2 406.7 298.2 409.4C297.1 412.0 295.4 415.1 294.0 417.7C292.5 420.4 291.3 422.9 289.4 425.1C287.4 427.2 283.6 428.6 282.2 430.7C280.9 432.8 282.3 435.6 281.4 437.6C280.5 439.7 279.3 441.5 276.8 442.9C274.3 444.3 270.0 445.4 266.3 446.0C262.7 446.6 258.4 446.2 254.8 446.6C251.2 447.1 247.9 448.8 245.0 448.7C242.0 448.6 240.4 446.6 237.0 446.0C233.6 445.4 226.5 461.9 224.4 445.0C222.3 428.0 205.0 361.2 224.4 344.4Z" fill="#ffffff"/>
<path d="M300.9 359.5C302.3 358.3 306.1 356.5 308.2 357.0C310.3 357.5 312.7 360.1 313.6 362.2C314.6 364.3 314.6 367.6 313.6 369.6C312.7 371.5 310.2 373.5 308.2 373.8C306.2 374.0 303.3 372.4 301.9 370.8C300.5 369.3 300.0 366.4 299.8 364.5C299.7 362.7 299.5 360.8 300.9 359.5Z" fill="#c4f0ea"/>
<path d="M288.3 360.1C288.8 359.4 290.8 358.6 291.9 358.7C293.0 358.8 294.7 360.0 294.8 360.8C294.9 361.5 293.5 362.9 292.5 363.3C291.5 363.6 289.6 363.4 288.9 362.9C288.2 362.3 287.8 360.8 288.3 360.1Z" fill="#c4f0ea"/>
<path d="M309.3 423.0C312.2 421.6 316.0 423.1 317.6 426.1C319.3 429.1 319.1 435.9 319.1 440.8C319.1 445.7 317.9 451.2 317.8 455.4C317.8 459.6 319.9 463.5 318.7 465.9C317.4 468.3 313.4 468.7 310.3 470.1C307.2 471.5 302.3 472.0 299.8 474.3C297.3 476.5 297.0 482.3 295.2 483.7C293.5 485.1 291.8 484.2 289.4 482.7C286.9 481.1 281.9 477.1 280.4 474.3C278.8 471.5 279.7 469.0 279.9 465.9C280.2 462.8 281.7 458.6 282.0 455.4C282.4 452.3 281.2 449.7 282.0 447.1C282.9 444.4 284.3 441.8 287.3 439.7C290.2 437.6 296.2 437.3 299.8 434.5C303.5 431.7 306.3 424.4 309.3 423.0Z" fill="#ffffff"/>
<path d="M319.9 419.0L323.7 419.0L323.7 425.3L319.9 425.3Z" fill="#ffffff"/>
<path d="M330.2 388.4C330.4 386.6 330.4 385.1 332.3 383.8C334.2 382.5 338.0 381.4 341.7 380.5C345.4 379.5 350.1 378.9 354.3 377.9C358.5 377.0 362.3 376.0 366.8 374.8C371.4 373.6 377.5 372.4 381.5 370.6C385.5 368.9 388.0 366.4 390.9 364.3C393.9 362.2 397.4 361.4 399.3 358.0C401.2 354.7 386.6 346.7 402.4 344.4C418.3 342.2 479.2 321.0 494.6 344.4C509.9 367.8 496.9 460.8 494.6 484.7C492.3 508.7 485.5 486.8 481.0 487.9C476.4 488.9 471.7 490.2 467.4 491.0C463.0 491.9 458.3 492.3 454.8 493.1C451.3 494.0 448.5 494.5 446.4 496.3C444.3 498.0 443.1 500.3 442.2 503.6C441.4 506.9 459.2 514.1 441.2 516.2C423.2 518.3 352.4 521.7 334.4 516.2C316.4 510.6 333.7 491.7 333.3 482.7C333.0 473.6 332.3 468.7 332.3 461.7C332.3 454.7 332.8 446.7 333.3 440.8C333.9 434.8 334.4 430.6 335.4 426.1C336.5 421.6 337.9 416.9 339.6 413.5C341.4 410.2 343.1 407.7 345.9 406.2C348.7 404.7 352.9 404.7 356.4 404.7C359.9 404.7 363.4 405.1 366.8 406.2C370.3 407.3 374.5 410.9 377.3 411.5C380.1 412.0 381.5 410.6 383.6 409.4C385.7 408.1 388.4 406.6 389.9 404.1C391.3 401.7 392.2 397.8 392.4 394.7C392.6 391.6 390.3 386.7 390.9 385.3C391.6 383.9 394.2 385.3 396.2 386.3C398.1 387.4 400.0 389.8 402.4 391.6C404.9 393.3 408.0 396.1 410.8 396.8C413.6 397.5 416.6 396.8 419.2 395.7C421.8 394.7 424.4 392.6 426.5 390.5C428.6 388.4 429.7 384.6 431.8 383.2C433.9 381.7 436.3 381.3 439.1 381.7C441.9 382.2 445.6 384.6 448.5 385.9C451.5 387.2 454.5 388.3 456.9 389.5C459.3 390.6 463.5 393.5 463.2 393.0C462.8 392.5 457.6 388.1 454.8 386.3C452.0 384.5 449.6 383.5 446.4 382.1C443.3 380.7 439.3 379.7 436.0 377.9C432.6 376.2 429.3 373.9 426.5 371.7C423.7 369.4 421.6 366.1 419.2 364.3C416.8 362.5 414.3 360.9 411.9 360.8C409.4 360.6 406.8 362.0 404.5 363.3C402.3 364.6 400.4 366.4 398.3 368.5C396.2 370.6 394.4 373.6 392.0 375.8C389.5 378.1 387.1 380.4 383.6 382.1C380.1 383.9 374.9 384.9 371.0 386.3C367.2 387.7 364.1 388.9 360.6 390.5C357.1 392.1 352.9 394.3 350.1 395.7C347.3 397.1 345.9 398.5 343.8 398.9C341.7 399.2 339.6 398.5 337.5 397.8C335.4 397.1 332.5 396.3 331.2 394.7C330.0 393.1 330.0 390.2 330.2 388.4Z" fill="#5fe3bd"/>
<path d="M463.2 344.4C457.8 346.5 462.0 352.8 462.1 357.0C462.3 361.2 463.4 366.1 464.2 369.6C465.1 373.1 466.0 376.2 467.4 377.9C468.8 379.7 470.9 380.0 472.6 380.0C474.3 380.0 476.4 378.5 477.8 377.9C479.2 377.4 478.2 377.2 481.0 376.9C483.8 376.5 492.3 381.3 494.6 375.8C496.9 370.4 499.8 349.7 494.6 344.4C489.4 339.2 468.6 342.3 463.2 344.4Z" fill="#c4f0ea"/>
<path d="M416.1 437.6C415.7 436.1 417.5 433.1 419.2 430.3C420.9 427.5 424.4 422.4 426.5 420.9C428.6 419.3 430.5 419.7 431.8 420.9C433.0 422.1 434.0 425.1 433.9 428.2C433.7 431.3 432.8 437.8 430.7 439.7C428.6 441.6 423.7 440.1 421.3 439.7C418.8 439.4 416.4 439.2 416.1 437.6Z" fill="#c4f0ea"/>
<path d="M443.3 431.3L446.4 431.3L446.4 435.5L443.3 435.5Z" fill="#ffffff"/>
<path d="M224.4 482.7C226.5 477.2 233.5 482.9 237.0 483.3C240.5 483.6 242.6 484.0 245.4 484.7C248.2 485.5 251.0 486.8 253.8 487.9C256.5 488.9 259.3 490.2 262.1 491.0C264.9 491.9 267.7 492.1 270.5 493.1C273.3 494.2 276.4 495.7 278.9 497.3C281.3 499.0 283.8 499.8 285.2 503.0C286.6 506.1 297.4 514.0 287.3 516.2C277.1 518.4 234.9 521.7 224.4 516.2C214.0 510.6 222.3 488.1 224.4 482.7Z" fill="#5fe3bd"/>
<path d="M224.4 496.3C227.6 493.0 238.4 495.7 243.3 496.3C248.2 496.8 251.0 498.2 253.8 499.4C256.5 500.6 258.6 500.8 260.0 503.6C261.4 506.4 268.1 514.1 262.1 516.2C256.2 518.3 230.7 519.5 224.4 516.2C218.2 512.8 221.3 499.6 224.4 496.3Z" fill="#55b99b"/>
<path d="M348.0 455.4C349.1 450.9 351.5 449.7 354.3 447.1C357.1 444.4 361.3 442.0 364.7 439.7C368.2 437.5 371.4 435.2 375.2 433.4C379.1 431.7 384.3 429.1 387.8 429.3C391.3 429.4 393.4 432.6 396.2 434.5C399.0 436.4 401.4 438.3 404.5 440.8C407.7 443.2 411.9 446.7 415.0 449.1C418.2 451.6 420.9 453.0 423.4 455.4C425.8 457.9 428.8 460.7 429.7 463.8C430.5 466.9 428.4 471.1 428.6 474.3C428.8 477.4 431.2 480.4 430.7 482.7C430.2 484.9 427.4 486.5 425.5 487.9C423.6 489.3 420.9 489.1 419.2 491.0C417.5 493.0 415.9 495.2 415.0 499.4C414.1 503.6 422.7 513.4 414.0 516.2C405.2 519.0 371.9 518.6 362.7 516.2C353.4 513.7 360.6 505.0 358.5 501.5C356.4 498.0 352.1 497.3 350.1 495.2C348.1 493.1 346.7 492.4 346.3 488.9C345.9 485.4 347.3 479.9 347.6 474.3C347.9 468.7 346.9 460.0 348.0 455.4Z" fill="#55b99b"/>
<path d="M441.2 453.3C441.2 451.2 443.8 448.8 446.4 447.1C449.0 445.3 453.8 444.3 456.9 442.9C460.0 441.5 463.2 440.4 465.3 438.7C467.4 436.9 468.2 434.3 469.5 432.4C470.7 430.5 470.7 428.6 472.6 427.2C474.5 425.8 477.3 424.9 481.0 424.0C484.6 423.1 492.3 410.8 494.6 421.9C496.9 433.1 496.9 480.9 494.6 491.0C492.3 501.2 484.8 483.4 481.0 482.7C477.1 482.0 474.5 487.2 471.6 486.8C468.6 486.5 466.0 483.4 463.2 480.6C460.4 477.8 457.6 473.6 454.8 470.1C452.0 466.6 448.7 462.4 446.4 459.6C444.2 456.8 441.2 455.4 441.2 453.3Z" fill="#55b99b"/>
<path d="M416.1 344.4C411.2 346.9 416.7 355.3 417.5 359.1C418.4 362.9 419.3 365.2 421.3 367.5C423.3 369.7 426.2 371.7 429.7 372.7C433.2 373.7 438.9 373.5 442.2 373.3C445.6 373.2 448.0 373.0 449.6 371.7C451.1 370.3 451.8 367.8 451.7 365.4C451.5 362.9 449.4 360.5 448.5 357.0C447.6 353.5 451.8 346.5 446.4 344.4C441.0 342.3 420.9 342.0 416.1 344.4Z" fill="#55b99b"/>
<path d="M429.7 398.9C430.0 397.1 434.0 394.5 436.0 394.7C437.9 394.9 441.5 398.1 441.2 399.9C440.8 401.7 435.8 405.8 433.9 405.6C431.9 405.4 429.3 400.7 429.7 398.9Z" fill="#55b99b"/>
<path d="M357.4 457.5C358.5 454.9 359.7 452.1 361.6 450.2C363.5 448.3 366.7 446.5 368.9 446.0C371.2 445.5 373.5 445.8 375.2 447.1C377.0 448.3 378.4 451.2 379.4 453.3C380.5 455.4 379.8 458.2 381.5 459.6C383.2 461.0 386.7 461.0 389.9 461.7C393.0 462.4 397.6 462.4 400.4 463.8C403.1 465.2 404.5 467.3 406.6 470.1C408.7 472.9 411.5 477.8 412.9 480.6C414.3 483.4 415.4 484.9 415.0 486.8C414.7 488.8 412.9 491.0 410.8 492.1C408.7 493.1 404.7 492.8 402.4 493.1C400.2 493.5 397.9 493.1 397.2 494.2C396.5 495.2 398.8 497.9 398.3 499.4C397.7 500.9 395.5 502.6 394.1 503.0C392.7 503.3 390.6 502.8 389.9 501.5C389.1 500.2 390.5 497.0 389.5 495.2C388.4 493.5 386.3 492.4 383.6 491.0C380.9 489.6 376.6 487.9 373.1 486.8C369.6 485.8 365.3 486.5 362.7 484.7C360.0 483.0 358.6 479.5 357.4 476.4C356.2 473.2 355.3 469.0 355.3 465.9C355.3 462.8 356.4 460.1 357.4 457.5Z" fill="#fae878"/>
<path d="M424.0 361.2C424.4 359.9 426.1 359.3 427.6 359.1C429.0 358.9 431.7 359.3 432.8 360.1C433.9 361.0 434.6 363.1 434.3 364.3C433.9 365.6 432.2 367.0 430.7 367.5C429.3 367.9 426.6 368.1 425.5 367.1C424.4 366.0 423.7 362.5 424.0 361.2Z" fill="#fae878"/>
<path d="M474.7 468.0C475.0 466.8 476.8 466.1 477.8 465.9C478.9 465.7 479.2 465.6 481.0 466.9C482.7 468.3 488.3 472.7 488.3 474.3C488.3 475.8 483.1 476.5 481.0 476.4C478.9 476.2 476.8 474.6 475.7 473.2C474.7 471.8 474.3 469.2 474.7 468.0Z" fill="#fae878"/>
<path d="M373.3 496.9L375.2 496.9L375.2 499.0L373.3 499.0Z" fill="#fae878"/>
</g>
<clipPath id="t7"><rect x="481.0" y="357.0" width="244.0" height="146.0"/></clipPath>
<g clip-path="url(#t7)">
<path d="M468.4 344.4L738.6 344.4L738.6 516.2L468.4 516.2Z" fill="#c4f0ea"/>
<path d="M468.4 376.9C470.9 382.5 479.8 376.7 483.1 377.9C486.4 379.2 486.9 381.8 488.3 384.2C489.7 386.7 490.1 389.6 491.5 392.6C492.9 395.6 494.6 399.1 496.7 402.0C498.8 405.0 501.1 407.8 504.0 410.4C507.0 413.0 511.4 415.8 514.5 417.7C517.6 419.7 520.1 420.9 522.9 421.9C525.7 422.9 528.6 423.9 531.3 423.6C533.9 423.2 536.7 421.5 538.6 419.8C540.5 418.2 541.2 415.1 542.8 413.5C544.4 412.0 545.0 410.7 548.0 410.4C551.0 410.1 556.4 411.0 560.6 411.9C564.8 412.7 569.7 414.1 573.1 415.6C576.6 417.1 578.7 419.4 581.5 420.9C584.3 422.3 587.3 424.1 589.9 424.4C592.5 424.8 595.1 424.1 597.2 423.0C599.3 421.9 600.9 420.0 602.5 417.7C604.0 415.5 604.6 412.1 606.7 409.4C608.7 406.6 612.2 403.2 615.0 401.0C617.8 398.7 620.8 397.3 623.4 395.7C626.0 394.2 628.6 392.4 630.7 391.6C632.8 390.7 633.7 389.8 636.0 390.5C638.2 391.2 641.2 394.5 644.4 395.7C647.5 397.0 651.7 397.0 654.8 397.8C658.0 398.7 660.1 399.9 663.2 401.0C666.3 402.0 669.8 403.2 673.7 404.1C677.5 405.0 682.0 405.3 686.2 406.2C690.4 407.1 695.0 408.1 698.8 409.4C702.6 410.6 706.5 413.0 709.3 413.5C712.1 414.1 712.9 413.4 715.6 412.5C718.2 411.6 721.1 409.4 725.0 408.3C728.8 407.3 736.3 416.9 738.6 406.2C740.9 395.6 783.6 354.7 738.6 344.4C693.6 334.1 513.5 339.0 468.4 344.4C423.4 349.8 466.0 371.3 468.4 376.9Z" fill="#ffffff"/>
<path d="M485.2 503.0C485.4 499.5 485.2 496.9 486.2 495.2C487.3 493.5 489.8 492.5 491.5 492.7C493.1 492.9 495.2 494.6 496.1 496.3C497.0 498.0 496.6 499.7 496.7 503.0C496.8 506.3 498.6 514.0 496.7 516.2C494.8 518.4 487.1 518.4 485.2 516.2C483.3 514.0 485.0 506.5 485.2 503.0Z" fill="#ffffff"/>
<path d="M508.2 503.0C508.4 499.7 508.1 497.9 509.3 496.3C510.5 494.6 512.9 493.8 515.6 493.1C518.2 492.4 522.2 491.7 525.0 492.1C527.8 492.4 530.8 493.4 532.3 495.2C533.8 497.0 533.5 499.5 533.8 503.0C534.0 506.5 538.0 514.0 533.8 516.2C529.5 518.4 512.5 518.4 508.2 516.2C504.0 514.0 508.1 506.3 508.2 503.0Z" fill="#ffffff"/>
<path d="M685.2 437.6C685.4 436.5 686.3 434.4 687.3 433.9C688.3 433.3 690.1 433.7 691.1 434.5C692.0 435.3 693.0 437.6 692.9 438.7C692.8 439.8 691.5 440.8 690.4 441.2C689.3 441.5 687.1 441.4 686.2 440.8C685.4 440.2 685.0 438.8 685.2 437.6Z" fill="#ffffff"/>
<path d="M468.4 399.9C470.5 386.7 477.9 399.6 481.0 401.0C484.1 402.4 484.8 405.5 487.3 408.3C489.7 411.1 492.5 414.6 495.7 417.7C498.8 420.9 502.3 423.8 506.1 427.2C510.0 430.5 514.2 434.3 518.7 437.6C523.2 440.9 528.1 444.1 533.4 447.1C538.6 450.0 544.9 453.3 550.1 455.4C555.3 457.5 561.3 458.0 564.8 459.6C568.3 461.2 569.0 464.3 571.1 464.9C573.1 465.4 574.9 463.3 577.3 462.8C579.8 462.2 582.7 461.5 585.7 461.7C588.7 461.9 592.3 464.2 595.1 463.8C597.9 463.5 600.7 462.1 602.5 459.6C604.2 457.2 604.2 451.8 605.6 449.1C607.0 446.5 608.6 445.1 610.8 443.9C613.1 442.7 616.4 441.6 619.2 441.8C622.0 442.0 624.8 443.2 627.6 445.0C630.4 446.7 633.5 451.6 636.0 452.3C638.4 453.0 640.2 449.5 642.3 449.1C644.4 448.8 647.0 449.3 648.5 450.2C650.1 451.1 651.7 452.5 651.7 454.4C651.7 456.3 648.0 459.1 648.5 461.7C649.1 464.3 652.9 466.9 654.8 470.1C656.7 473.2 659.1 477.4 660.1 480.6C661.0 483.7 660.6 485.2 660.7 488.9C660.8 492.7 660.6 498.4 660.7 503.0C660.8 507.5 680.4 514.0 661.1 516.2C641.8 518.4 564.4 518.4 544.9 516.2C525.3 514.0 544.4 506.8 543.8 503.0C543.3 499.1 543.1 495.6 541.7 493.1C540.3 490.6 538.6 489.1 535.5 487.9C532.3 486.7 527.4 486.3 522.9 485.8C518.3 485.3 513.1 485.3 508.2 484.7C503.3 484.2 498.1 483.3 493.6 482.7C489.0 482.0 485.2 481.3 481.0 481.0C476.8 480.6 470.5 494.1 468.4 480.6C466.3 467.1 466.3 413.2 468.4 399.9Z" fill="#5fe3bd"/>
<path d="M637.6 458.6C638.2 457.5 639.7 457.2 641.2 457.1C642.7 457.0 645.2 457.2 646.4 457.9C647.7 458.7 649.1 460.5 648.5 461.7C648.0 463.0 645.0 465.1 643.3 465.5C641.6 465.8 639.0 465.0 638.1 463.8C637.1 462.7 637.1 459.7 637.6 458.6Z" fill="#c4f0ea"/>
<path d="M631.8 391.6C632.3 390.3 635.1 390.7 637.0 391.6C638.9 392.4 640.3 395.6 643.3 396.8C646.3 398.0 651.5 398.0 654.8 398.9C658.1 399.8 660.1 401.0 663.2 402.0C666.3 403.1 669.8 404.3 673.7 405.2C677.5 406.0 682.0 406.4 686.2 407.3C690.4 408.1 695.0 409.2 698.8 410.4C702.6 411.6 706.5 414.1 709.3 414.6C712.1 415.1 712.9 414.4 715.6 413.5C718.2 412.7 721.1 410.4 725.0 409.4C728.8 408.3 736.3 404.5 738.6 407.3C740.9 410.1 740.9 422.8 738.6 426.1C736.3 429.4 729.5 427.3 725.0 427.2C720.4 427.0 715.7 425.9 711.4 425.1C707.0 424.2 703.0 422.8 698.8 421.9C694.6 421.0 690.1 420.4 686.2 419.8C682.4 419.3 679.3 419.5 675.8 418.8C672.3 418.1 667.7 415.8 665.3 415.6C662.8 415.5 662.2 416.3 661.1 417.7C660.1 419.1 660.4 422.3 659.0 424.0C657.6 425.8 654.6 427.5 652.7 428.2C650.8 428.9 648.9 429.3 647.5 428.2C646.1 427.2 644.9 424.4 644.4 421.9C643.8 419.5 645.0 416.3 644.4 413.5C643.7 410.8 641.9 407.6 640.2 405.2C638.4 402.7 635.3 401.2 633.9 398.9C632.5 396.6 631.3 392.8 631.8 391.6Z" fill="#5fe3bd"/>
<path d="M700.5 453.8C700.8 452.4 702.9 450.8 705.1 449.1C707.2 447.5 711.0 445.1 713.5 443.9C715.9 442.7 718.3 441.5 719.7 441.8C721.1 442.2 722.2 444.4 721.8 446.0C721.5 447.6 719.7 449.7 717.6 451.2C715.6 452.8 711.7 454.5 709.3 455.4C706.8 456.4 704.5 457.4 703.0 457.1C701.5 456.8 700.1 455.1 700.5 453.8Z" fill="#5fe3bd"/>
<path d="M698.8 516.2C692.2 513.7 698.5 506.0 698.8 501.5C699.1 497.0 699.6 493.0 700.5 488.9C701.3 484.9 702.2 480.7 704.0 477.4C705.9 474.1 708.9 471.7 711.4 469.0C713.8 466.4 716.4 464.0 718.7 461.7C721.0 459.4 721.7 457.0 725.0 455.4C728.3 453.9 736.3 442.2 738.6 452.3C740.9 462.4 745.2 505.5 738.6 516.2C732.0 526.8 705.4 518.6 698.8 516.2Z" fill="#5fe3bd"/>
<path d="M606.7 419.8L609.8 416.7L611.3 420.9Z" fill="#5fe3bd"/>
<path d="M589.5 432.8L595.1 432.8L595.1 435.5L589.5 435.5Z" fill="#5fe3bd"/>
<path d="M579.4 424.4L582.6 424.0L581.5 426.7Z" fill="#5fe3bd"/>
<path d="M468.4 428.2C470.5 420.3 477.9 428.6 481.0 429.3C484.1 429.9 485.9 431.0 487.3 432.4C488.7 433.8 489.7 436.2 489.4 437.6C489.1 439.0 484.9 439.9 485.6 440.8C486.3 441.6 490.1 442.3 493.6 442.9C497.0 443.4 502.3 443.2 506.1 443.9C510.0 444.6 512.8 445.7 516.6 447.1C520.4 448.4 524.6 450.2 529.2 452.3C533.7 454.4 540.2 457.3 543.8 459.6C547.5 461.9 549.6 463.5 551.2 465.9C552.7 468.3 551.0 472.3 553.3 474.3C555.5 476.3 561.1 477.9 564.8 478.0C568.4 478.2 571.8 475.5 575.2 474.9C578.7 474.3 582.6 473.8 585.7 474.3C588.9 474.8 591.6 476.7 594.1 478.0C596.6 479.4 599.3 480.6 600.8 482.2C602.3 483.9 603.5 486.1 602.9 487.9C602.3 489.6 599.7 491.8 597.2 492.7C594.7 493.6 591.5 492.6 587.8 493.1C584.1 493.6 579.8 494.9 575.2 495.6C570.7 496.4 564.6 498.3 560.6 497.7C556.6 497.1 553.9 494.1 551.2 492.1C548.4 490.1 546.8 487.4 543.8 485.8C540.9 484.2 536.8 482.9 533.4 482.2C529.9 481.5 527.1 481.9 522.9 481.6C518.7 481.3 513.1 480.9 508.2 480.6C503.3 480.2 498.1 480.0 493.6 479.5C489.0 479.0 485.2 477.9 481.0 477.4C476.8 477.0 470.5 485.0 468.4 476.8C466.3 468.6 466.3 436.1 468.4 428.2Z" fill="#55b99b"/>
<path d="M617.1 459.6C617.3 457.5 618.2 455.4 619.2 454.4C620.2 453.4 621.9 453.1 623.0 453.8C624.0 454.5 625.2 456.5 625.5 458.6C625.9 460.6 625.7 463.9 625.1 465.9C624.5 467.9 622.9 470.3 621.7 470.5C620.6 470.7 618.9 468.8 618.2 466.9C617.4 465.1 617.0 461.7 617.1 459.6Z" fill="#55b99b"/>
<path d="M650.6 406.2C650.6 404.8 654.8 403.1 656.9 403.1C659.0 403.1 660.4 405.3 663.2 406.2C666.0 407.1 669.8 407.6 673.7 408.3C677.5 409.0 682.4 409.4 686.2 410.4C690.1 411.5 694.4 413.2 696.7 414.6C699.0 416.0 700.5 417.7 699.8 418.8C699.2 419.8 695.5 420.7 692.5 420.9C689.6 421.0 685.5 420.4 682.0 419.8C678.6 419.3 674.7 418.6 671.6 417.7C668.4 416.9 665.6 415.6 663.2 414.6C660.8 413.5 659.0 412.8 656.9 411.5C654.8 410.1 650.6 407.6 650.6 406.2Z" fill="#55b99b"/>
<path d="M511.4 461.7C512.1 460.2 513.6 457.9 515.6 457.1C517.5 456.3 519.9 456.5 522.9 457.1C525.9 457.7 530.7 459.2 533.4 460.7C536.0 462.1 537.6 464.2 538.6 465.9C539.6 467.6 539.9 469.8 539.2 471.1C538.5 472.5 536.8 473.7 534.4 473.9C532.0 474.0 528.1 472.8 525.0 472.2C521.8 471.6 517.8 471.1 515.6 470.1C513.3 469.0 512.1 467.3 511.4 465.9C510.7 464.5 510.7 463.2 511.4 461.7Z" fill="#fae878"/>
<path d="M468.4 469.0C470.5 467.8 477.5 469.4 481.0 469.0C484.5 468.7 486.8 466.9 489.4 466.9C492.0 466.9 495.7 468.0 496.7 469.0C497.8 470.1 497.2 472.1 495.7 473.2C494.1 474.4 489.7 475.4 487.3 476.0C484.8 476.5 484.1 476.7 481.0 476.8C477.9 476.9 470.5 478.1 468.4 476.8C466.3 475.5 466.3 470.3 468.4 469.0Z" fill="#fae878"/>
<path d="M563.1 486.8C563.4 485.3 565.0 483.5 566.9 482.7C568.7 481.8 571.9 481.4 574.2 481.6C576.5 481.8 579.2 482.5 580.5 483.7C581.8 484.9 582.5 487.4 581.9 488.9C581.4 490.5 579.3 492.3 577.3 493.1C575.3 494.0 572.1 494.3 570.0 494.2C567.9 494.0 565.9 493.3 564.8 492.1C563.6 490.9 562.7 488.4 563.1 486.8Z" fill="#fae878"/>
<path d="M681.6 409.8L684.1 409.8L682.9 412.7Z" fill="#fae878"/>
</g>
<clipPath id="t8"><rect x="724.0" y="357.0" width="244.0" height="146.0"/></clipPath>
<g clip-path="url(#t8)">
<path d="M711.4 344.4L981.6 344.4L981.6 516.2L711.4 516.2Z" fill="#c4f0ea"/>
<path d="M711.4 344.4C726.8 333.2 788.0 342.3 803.6 344.4C819.1 346.5 803.9 353.9 804.6 357.0C805.3 360.1 807.4 361.2 807.8 363.3C808.1 365.4 807.9 367.6 806.7 369.6C805.5 371.5 802.0 372.7 800.4 374.8C798.9 376.9 798.2 379.9 797.3 382.1C796.4 384.4 794.0 386.8 795.2 388.4C796.4 390.0 801.1 390.9 804.6 391.6C808.1 392.3 812.8 392.1 816.1 392.6C819.5 393.1 822.4 394.0 824.5 394.7C826.6 395.4 829.1 396.1 828.7 396.8C828.4 397.5 825.2 398.9 822.4 398.9C819.6 398.9 815.4 397.3 812.0 396.8C808.5 396.3 804.6 395.6 801.5 395.7C798.3 395.9 794.7 395.9 793.1 397.8C791.5 399.8 793.1 405.0 792.1 407.3C791.0 409.5 788.7 410.6 786.8 411.5C784.9 412.3 782.3 411.8 780.5 412.5C778.8 413.2 778.8 414.8 776.4 415.6C773.9 416.5 768.7 417.0 765.9 417.7C763.1 418.4 761.0 418.4 759.6 419.8C758.2 421.2 758.6 424.5 757.5 426.1C756.5 427.7 754.7 429.3 753.3 429.3C751.9 429.3 750.9 427.3 749.1 426.1C747.4 424.9 745.1 423.0 742.8 421.9C740.6 420.9 737.3 421.0 735.5 419.8C733.8 418.6 734.3 415.8 732.4 414.6C730.5 413.4 727.5 413.0 724.0 412.5C720.5 412.0 713.5 423.2 711.4 411.9C709.3 400.5 696.1 355.7 711.4 344.4Z" fill="#ffffff"/>
<path d="M755.0 419.0L756.7 419.0L756.7 421.1L755.0 421.1Z" fill="#c4f0ea"/>
<path d="M809.9 408.3C807.8 406.7 805.7 405.3 803.6 406.2C801.5 407.1 799.0 410.9 797.3 413.5C795.6 416.2 794.2 418.8 793.1 421.9C792.1 425.1 791.7 429.3 791.0 432.4C790.3 435.5 789.1 438.0 788.9 440.8C788.7 443.6 788.6 447.4 790.0 449.1C791.4 450.9 794.7 450.2 797.3 451.2C799.9 452.3 803.9 453.3 805.7 455.4C807.4 457.5 806.7 462.8 807.8 463.8C808.8 464.9 810.6 463.5 812.0 461.7C813.4 460.0 814.9 456.8 816.1 453.3C817.4 449.8 818.4 445.0 819.3 440.8C820.2 436.6 821.2 431.3 821.4 428.2C821.6 425.1 821.2 424.0 820.3 421.9C819.5 419.8 817.9 417.9 816.1 415.6C814.4 413.4 812.0 409.9 809.9 408.3Z" fill="#ffffff"/>
<path d="M784.7 468.0C785.7 466.4 790.6 464.7 793.1 465.9C795.6 467.1 797.9 471.1 799.8 475.3C801.7 479.5 802.7 486.4 804.4 491.0C806.2 495.6 809.0 498.8 810.3 503.0C811.5 507.2 814.1 514.0 812.0 516.2C809.8 518.4 799.6 518.4 797.3 516.2C795.0 514.0 799.0 507.2 798.3 503.0C797.7 498.8 795.2 495.6 793.3 491.0C791.4 486.4 788.5 479.2 787.0 475.3C785.6 471.5 783.7 469.6 784.7 468.0Z" fill="#ffffff"/>
<path d="M772.6 465.9C772.9 464.7 775.2 464.0 775.9 464.9C776.6 465.7 777.1 469.9 776.8 471.1C776.4 472.4 774.5 473.1 773.8 472.2C773.1 471.3 772.2 467.1 772.6 465.9Z" fill="#ffffff"/>
<path d="M711.4 415.6C713.5 413.5 720.9 415.7 724.0 416.3C727.1 416.8 728.8 417.7 730.3 418.8C731.7 419.9 732.8 421.6 732.8 423.0C732.8 424.4 731.7 426.1 730.3 427.2C728.8 428.2 727.1 428.9 724.0 429.3C720.9 429.6 713.5 431.5 711.4 429.3C709.3 427.0 709.3 417.8 711.4 415.6Z" fill="#5fe3bd"/>
<path d="M711.4 452.3C713.5 441.6 720.5 452.8 724.0 452.3C727.5 451.8 729.6 450.4 732.4 449.1C735.2 447.9 738.0 445.7 740.8 445.0C743.5 444.3 746.3 444.3 749.1 445.0C751.9 445.7 755.1 447.4 757.5 449.1C760.0 450.9 761.9 453.0 763.8 455.4C765.7 457.9 767.8 460.7 769.0 463.8C770.2 466.9 770.1 471.1 771.1 474.3C772.2 477.4 773.9 479.5 775.3 482.7C776.7 485.8 778.1 489.7 779.5 493.1C780.9 496.5 782.8 499.1 783.7 503.0C784.6 506.8 796.8 514.0 784.7 516.2C772.7 518.4 723.7 526.8 711.4 516.2C699.2 505.5 709.3 462.9 711.4 452.3Z" fill="#5fe3bd"/>
<path d="M736.6 503.0C736.7 498.8 736.6 494.4 737.6 491.0C738.7 487.6 740.6 484.4 742.8 482.7C745.1 480.9 748.6 480.2 751.2 480.6C753.8 480.9 756.6 482.7 758.6 484.7C760.5 486.8 761.7 490.1 762.7 493.1C763.8 496.2 764.5 499.1 764.8 503.0C765.2 506.8 769.5 514.0 764.8 516.2C760.1 518.4 741.3 518.4 736.6 516.2C731.9 514.0 736.4 507.2 736.6 503.0Z" fill="#c4f0ea"/>
<path d="M763.8 446.0C764.1 444.9 767.0 444.4 768.0 445.0C769.0 445.5 770.0 448.0 769.7 449.1C769.3 450.3 766.9 452.2 765.9 451.7C764.9 451.1 763.4 447.1 763.8 446.0Z" fill="#5fe3bd"/>
<path d="M781.6 451.2C782.0 450.3 784.4 449.7 785.2 450.2C785.9 450.7 786.4 453.4 786.0 454.4C785.6 455.3 783.4 456.4 782.6 455.8C781.9 455.3 781.2 452.2 781.6 451.2Z" fill="#5fe3bd"/>
<path d="M804.6 379.6C805.0 378.9 806.7 378.2 807.8 378.4C808.8 378.5 810.7 379.7 810.9 380.5C811.1 381.3 809.8 382.8 808.8 383.2C807.9 383.5 806.0 383.1 805.3 382.5C804.6 382.0 804.2 380.3 804.6 379.6Z" fill="#5fe3bd"/>
<path d="M809.9 344.4C781.3 346.5 809.2 354.0 810.3 357.0C811.3 360.0 813.8 360.7 816.1 362.2C818.5 363.8 821.7 365.2 824.5 366.4C827.3 367.6 830.1 368.3 832.9 369.6C835.7 370.8 839.2 372.0 841.3 373.8C843.4 375.5 844.6 377.6 845.5 380.0C846.3 382.5 846.5 385.3 846.5 388.4C846.5 391.6 845.7 395.0 845.5 398.9C845.2 402.7 845.0 406.9 845.0 411.5C845.0 416.0 845.2 421.2 845.5 426.1C845.7 431.0 846.2 436.9 846.5 440.8C846.9 444.6 846.7 446.7 847.6 449.1C848.4 451.6 849.7 453.7 851.7 455.4C853.8 457.2 857.7 457.9 860.1 459.6C862.6 461.4 865.5 463.5 866.4 465.9C867.3 468.3 866.4 471.8 865.4 474.3C864.3 476.7 862.0 478.5 860.1 480.6C858.2 482.7 855.4 484.4 853.8 486.8C852.3 489.3 851.1 492.5 850.7 495.2C850.4 497.9 851.6 499.5 851.7 503.0C851.9 506.5 830.1 514.0 851.7 516.2C873.4 518.4 960.0 544.8 981.6 516.2C1003.2 487.5 1010.2 373.1 981.6 344.4C953.0 315.8 838.4 342.3 809.9 344.4Z" fill="#5fe3bd"/>
<path d="M949.1 344.4C943.9 346.5 949.3 353.5 950.2 357.0C951.1 360.5 952.6 362.2 954.4 365.4C956.1 368.5 958.9 372.7 960.6 375.8C962.4 379.0 963.6 382.1 964.8 384.2C966.1 386.3 965.2 387.0 968.0 388.4C970.8 389.8 979.3 399.9 981.6 392.6C983.9 385.3 987.0 352.5 981.6 344.4C976.2 336.4 954.4 342.3 949.1 344.4Z" fill="#c4f0ea"/>
<path d="M813.0 344.4C793.6 346.5 812.5 354.3 814.1 357.0C815.6 359.7 818.6 359.9 822.4 360.8C826.3 361.6 832.9 361.8 837.1 362.2C841.3 362.7 845.1 362.1 847.6 363.3C850.0 364.5 850.5 367.1 851.7 369.6C853.0 372.0 854.2 374.8 854.9 377.9C855.6 381.1 855.9 384.9 855.9 388.4C855.9 391.9 854.9 395.0 854.9 398.9C854.9 402.7 855.4 407.3 855.9 411.5C856.5 415.6 857.5 419.8 858.0 424.0C858.6 428.2 858.4 433.4 859.1 436.6C859.8 439.7 860.3 441.5 862.2 442.9C864.1 444.3 867.1 444.8 870.6 445.0C874.1 445.1 879.0 443.9 883.2 443.9C887.4 443.9 891.9 444.1 895.7 445.0C899.6 445.8 903.4 447.1 906.2 449.1C909.0 451.2 911.3 454.4 912.5 457.5C913.7 460.7 914.2 465.2 913.5 468.0C912.8 470.8 910.2 472.2 908.3 474.3C906.4 476.4 904.8 479.2 902.0 480.6C899.2 482.0 895.4 482.0 891.5 482.7C887.7 483.4 882.5 483.4 879.0 484.7C875.5 486.1 872.3 488.0 870.6 491.0C868.9 494.1 868.9 498.8 868.5 503.0C868.2 507.2 849.7 514.0 868.5 516.2C887.4 518.4 962.7 536.6 981.6 516.2C1000.4 495.7 983.9 414.4 981.6 393.6C979.3 372.9 972.2 392.4 968.0 391.6C963.8 390.7 960.1 389.8 956.5 388.4C952.8 387.0 949.3 385.3 946.0 383.2C942.7 381.1 939.0 378.3 936.6 375.8C934.1 373.4 932.4 371.7 931.3 368.5C930.3 365.4 930.5 361.0 930.3 357.0C930.1 353.0 949.8 346.5 930.3 344.4C910.7 342.3 832.4 342.3 813.0 344.4Z" fill="#55b99b"/>
<path d="M947.0 437.6C946.9 435.0 947.9 433.1 949.1 431.3C950.4 429.6 952.1 427.9 954.4 427.2C956.6 426.5 960.5 426.8 962.7 427.2C965.0 427.5 964.8 428.7 968.0 429.3C971.1 429.8 979.3 421.4 981.6 430.3C983.9 439.2 983.9 474.6 981.6 482.7C979.3 490.7 971.1 480.6 968.0 478.5C964.8 476.4 964.7 473.6 962.7 470.1C960.8 466.6 958.6 461.4 956.5 457.5C954.4 453.7 951.7 450.4 950.2 447.1C948.6 443.7 947.2 440.2 947.0 437.6Z" fill="#5fe3bd"/>
<path d="M860.1 344.4C850.7 346.5 861.2 353.2 861.2 357.0C861.2 360.8 860.1 364.0 860.1 367.5C860.1 371.0 860.5 374.1 861.2 377.9C861.9 381.8 863.3 386.3 864.3 390.5C865.4 394.7 866.8 398.9 867.5 403.1C868.2 407.3 868.5 411.8 868.5 415.6C868.5 419.5 867.1 423.1 867.5 426.1C867.8 429.1 868.7 431.5 870.6 433.4C872.5 435.4 876.2 437.5 879.0 437.6C881.8 437.8 884.6 435.2 887.4 434.5C890.1 433.8 892.9 433.1 895.7 433.4C898.5 433.8 901.3 435.4 904.1 436.6C906.9 437.8 909.7 439.4 912.5 440.8C915.3 442.2 918.8 442.5 920.9 445.0C923.0 447.4 924.2 451.6 925.0 455.4C925.9 459.3 925.6 463.5 926.1 468.0C926.6 472.5 927.5 478.5 928.2 482.7C928.9 486.8 929.4 489.7 930.3 493.1C931.2 496.5 932.7 499.1 933.4 503.0C934.1 506.8 926.4 514.0 934.5 516.2C942.5 518.4 973.7 521.7 981.6 516.2C989.4 510.6 983.9 488.8 981.6 482.7C979.3 476.5 971.1 481.6 968.0 479.5C964.8 477.4 964.7 473.8 962.7 470.1C960.8 466.4 958.6 461.4 956.5 457.5C954.4 453.7 951.7 450.4 950.2 447.1C948.6 443.7 947.0 440.4 947.0 437.6C947.0 434.8 948.6 432.6 950.2 430.3C951.7 428.0 955.1 425.8 956.5 424.0C957.9 422.3 958.9 421.6 958.6 419.8C958.2 418.1 956.5 416.0 954.4 413.5C952.3 411.1 948.4 408.0 946.0 405.2C943.5 402.4 941.8 399.6 939.7 396.8C937.6 394.0 935.3 391.2 933.4 388.4C931.5 385.6 929.9 382.8 928.2 380.0C926.4 377.2 924.3 374.5 923.0 371.7C921.6 368.9 920.7 365.7 919.8 363.3C918.9 360.8 918.1 360.1 917.7 357.0C917.4 353.9 927.3 346.5 917.7 344.4C908.1 342.3 869.5 342.3 860.1 344.4Z" fill="#fae878"/>
</g>
<clipPath id="t9"><rect x="906.0" y="357.0" width="244.0" height="146.0"/></clipPath>
<g clip-path="url(#t9)">
<path d="M893.4 344.4L1163.6 344.4L1163.6 516.2L893.4 516.2Z" fill="#5fe3bd"/>
<path d="M946.8 344.4C923.1 348.3 946.7 361.5 947.9 367.5C949.1 373.4 952.1 375.8 954.2 380.0C956.3 384.2 958.5 388.4 960.5 392.6C962.4 396.8 964.1 401.0 965.7 405.2C967.3 409.4 968.3 413.9 969.9 417.7C971.4 421.6 973.2 424.9 975.1 428.2C977.0 431.5 978.9 434.8 981.4 437.6C983.8 440.4 986.6 443.0 989.8 445.0C992.9 446.9 996.1 447.9 1000.2 449.1C1004.4 450.4 1009.7 451.4 1014.9 452.3C1020.1 453.2 1026.1 453.9 1031.7 454.4C1037.2 454.9 1043.5 455.5 1048.4 455.4C1053.3 455.3 1057.7 454.8 1061.0 453.8C1064.3 452.7 1066.9 451.0 1068.3 449.1C1069.7 447.3 1068.5 444.4 1069.4 442.9C1070.2 441.3 1071.1 440.4 1073.5 439.7C1076.0 439.0 1081.4 438.2 1084.0 438.7C1086.6 439.2 1088.2 440.8 1089.2 442.9C1090.3 445.0 1089.6 448.4 1090.3 451.2C1091.0 454.0 1092.0 457.2 1093.4 459.6C1094.8 462.1 1096.8 463.8 1098.7 465.9C1100.6 468.0 1102.5 470.8 1105.0 472.2C1107.4 473.6 1110.2 474.3 1113.3 474.3C1116.5 474.2 1121.7 472.8 1123.8 471.8C1125.9 470.7 1126.9 470.0 1125.9 468.0C1124.8 466.0 1120.0 462.4 1117.5 459.6C1115.1 456.8 1113.3 454.0 1111.2 451.2C1109.1 448.4 1107.0 445.7 1105.0 442.9C1102.9 440.1 1100.8 437.3 1098.7 434.5C1096.6 431.7 1094.1 429.3 1092.4 426.1C1090.6 423.0 1089.2 419.5 1088.2 415.6C1087.2 411.8 1086.4 407.6 1086.1 403.1C1085.8 398.5 1086.5 393.3 1086.5 388.4C1086.5 383.5 1085.8 377.9 1086.1 373.8C1086.4 369.6 1087.5 368.2 1088.2 363.3C1088.9 358.4 1113.9 347.6 1090.3 344.4C1066.7 341.3 970.6 340.6 946.8 344.4Z" fill="#c4f0ea"/>
<path d="M1117.5 384.2C1118.4 382.0 1119.6 382.0 1121.7 381.1C1123.8 380.2 1125.4 380.9 1130.1 379.0C1134.8 377.1 1144.4 371.8 1150.0 369.6C1155.6 367.3 1161.3 363.1 1163.6 365.4C1165.9 367.6 1165.9 380.2 1163.6 383.2C1161.3 386.1 1154.5 383.0 1150.0 383.2C1145.4 383.4 1140.0 383.9 1136.4 384.2C1132.7 384.6 1130.1 384.4 1128.0 385.3C1125.9 386.1 1124.8 387.2 1123.8 389.5C1122.8 391.7 1121.5 395.9 1121.7 398.9C1121.9 401.9 1123.7 405.1 1124.8 407.3C1126.0 409.4 1128.4 410.9 1128.4 411.9C1128.4 412.8 1126.3 414.2 1124.8 413.1C1123.4 412.0 1121.0 408.2 1119.6 405.2C1118.2 402.1 1116.8 398.2 1116.5 394.7C1116.1 391.2 1116.6 386.5 1117.5 384.2Z" fill="#c4f0ea"/>
<path d="M1136.4 429.3C1137.4 428.0 1140.4 426.5 1142.6 426.1C1144.9 425.8 1146.5 426.8 1150.0 427.2C1153.5 427.5 1161.3 426.8 1163.6 428.2C1165.9 429.6 1165.9 434.4 1163.6 435.5C1161.3 436.7 1153.8 434.8 1150.0 434.9C1146.1 435.0 1142.8 436.4 1140.6 436.2C1138.3 435.9 1137.1 434.6 1136.4 433.4C1135.7 432.3 1135.3 430.5 1136.4 429.3Z" fill="#c4f0ea"/>
<path d="M960.9 429.9C961.5 429.3 963.8 429.1 965.7 430.7C967.5 432.4 969.9 436.1 972.0 439.7C974.1 443.3 976.4 448.3 978.3 452.3C980.1 456.3 982.0 460.8 983.1 463.8C984.1 466.8 984.8 468.9 984.5 470.1C984.3 471.3 982.6 472.5 981.4 471.1C980.2 469.7 978.8 465.2 977.2 461.7C975.6 458.2 973.7 453.7 972.0 450.2C970.2 446.7 968.4 443.5 966.7 440.8C965.1 438.1 963.1 435.9 962.1 434.1C961.1 432.3 960.3 430.4 960.9 429.9Z" fill="#c4f0ea"/>
<path d="M981.4 462.8C982.5 462.1 985.6 465.2 987.7 466.9C989.8 468.7 991.9 471.3 994.0 473.2C996.1 475.2 997.8 476.7 1000.2 478.5C1002.7 480.2 1006.0 482.2 1008.6 483.7C1011.2 485.2 1013.5 487.1 1015.9 487.3C1018.4 487.4 1020.7 485.9 1023.3 484.7C1025.9 483.6 1028.9 482.0 1031.7 480.6C1034.4 479.2 1037.6 477.3 1040.0 476.4C1042.5 475.4 1044.5 474.2 1046.3 474.7C1048.1 475.2 1050.4 477.3 1050.9 479.5C1051.4 481.7 1050.9 485.3 1049.5 487.9C1048.0 490.5 1044.7 493.0 1042.1 495.2C1039.5 497.5 1036.2 499.9 1033.7 501.5C1031.3 503.1 1028.9 502.2 1027.5 504.6C1026.1 507.1 1031.8 514.2 1025.4 516.2C1018.9 518.1 995.1 518.4 988.7 516.2C982.4 514.0 987.8 507.2 987.3 503.0C986.7 498.8 986.0 494.8 985.2 491.0C984.4 487.3 983.1 483.9 982.4 480.6C981.7 477.2 981.1 474.1 981.0 471.1C980.8 468.2 980.3 463.5 981.4 462.8Z" fill="#c4f0ea"/>
<path d="M1127.6 440.8C1127.9 438.3 1129.9 438.3 1130.5 440.8C1131.1 443.2 1131.5 453.0 1131.1 455.4C1130.8 457.9 1129.0 457.9 1128.4 455.4C1127.8 453.0 1127.2 443.2 1127.6 440.8Z" fill="#c4f0ea"/>
<path d="M970.9 399.9C972.0 399.6 974.8 400.5 977.2 402.0C979.6 403.6 982.4 406.7 985.6 409.4C988.7 412.0 992.9 415.3 996.1 417.7C999.2 420.2 1002.3 422.1 1004.4 424.0C1006.5 425.9 1008.6 427.9 1008.6 429.3C1008.6 430.6 1006.5 432.4 1004.4 432.4C1002.3 432.4 998.8 430.3 996.1 429.3C993.3 428.2 990.1 428.0 987.7 426.1C985.2 424.2 983.5 420.5 981.4 417.7C979.3 414.9 976.9 411.6 975.1 409.4C973.4 407.1 971.6 405.7 970.9 404.1C970.2 402.5 969.9 400.3 970.9 399.9Z" fill="#ffffff"/>
<path d="M998.1 398.9C999.0 397.7 1001.3 396.4 1003.4 396.8C1005.5 397.1 1008.3 399.2 1010.7 401.0C1013.2 402.7 1016.5 405.0 1018.0 407.3C1019.6 409.5 1020.5 412.7 1020.1 414.6C1019.8 416.5 1017.9 418.4 1015.9 418.8C1014.0 419.1 1010.9 418.1 1008.6 416.7C1006.3 415.3 1004.1 412.5 1002.3 410.4C1000.6 408.3 998.8 406.0 998.1 404.1C997.4 402.2 997.3 400.1 998.1 398.9Z" fill="#ffffff"/>
<path d="M1033.7 434.5C1034.8 432.9 1037.2 432.0 1040.0 431.3C1042.8 430.6 1047.7 429.4 1050.5 430.3C1053.3 431.2 1055.6 434.3 1056.8 436.6C1058.0 438.8 1058.5 441.8 1057.8 443.9C1057.1 446.0 1055.2 448.4 1052.6 449.1C1050.0 449.8 1045.3 448.1 1042.1 448.1C1039.0 448.1 1035.7 449.3 1033.7 449.1C1031.8 449.0 1030.6 448.4 1030.6 447.1C1030.6 445.7 1033.2 442.9 1033.7 440.8C1034.3 438.7 1032.7 436.1 1033.7 434.5Z" fill="#ffffff"/>
<path d="M1022.2 423.6C1023.1 423.1 1026.6 423.1 1027.5 423.6C1028.3 424.1 1028.3 426.0 1027.5 426.5C1026.6 427.0 1023.1 427.0 1022.2 426.5C1021.4 426.0 1021.4 424.1 1022.2 423.6Z" fill="#ffffff"/>
<path d="M1045.3 424.0C1045.8 423.2 1048.3 422.9 1049.0 423.6C1049.7 424.3 1050.0 427.4 1049.5 428.2C1048.9 429.0 1046.6 428.9 1045.9 428.2C1045.2 427.5 1044.7 424.8 1045.3 424.0Z" fill="#ffffff"/>
<path d="M1121.7 379.0C1122.6 377.8 1125.5 376.4 1128.0 374.8C1130.4 373.2 1133.6 371.5 1136.4 369.6C1139.2 367.6 1142.5 364.9 1144.7 363.3C1147.0 361.7 1146.8 361.2 1150.0 360.1C1153.1 359.1 1161.3 353.7 1163.6 357.0C1165.9 360.3 1165.9 376.2 1163.6 380.0C1161.3 383.9 1153.8 379.7 1150.0 380.0C1146.1 380.4 1143.9 381.6 1140.6 382.1C1137.2 382.7 1133.1 383.2 1130.1 383.2C1127.1 383.2 1124.2 382.8 1122.8 382.1C1121.4 381.4 1120.8 380.2 1121.7 379.0Z" fill="#ffffff"/>
<path d="M1139.5 429.3C1140.4 428.2 1142.6 427.0 1143.7 427.2C1144.7 427.3 1146.1 429.1 1145.8 430.3C1145.4 431.5 1142.8 434.0 1141.6 434.5C1140.4 435.0 1138.8 434.3 1138.5 433.4C1138.1 432.6 1138.6 430.3 1139.5 429.3Z" fill="#ffffff"/>
<path d="M983.1 465.9C983.7 465.4 985.2 467.6 986.6 469.0C988.1 470.5 989.9 472.8 991.9 474.7C993.8 476.5 995.7 478.3 998.1 480.1C1000.6 482.0 1003.7 484.2 1006.5 485.8C1009.3 487.4 1012.1 489.8 1014.9 490.0C1017.7 490.2 1020.5 488.1 1023.3 486.8C1026.1 485.6 1028.9 484.1 1031.7 482.7C1034.4 481.3 1037.8 479.3 1040.0 478.5C1042.3 477.6 1043.9 477.1 1045.3 477.4C1046.7 477.8 1048.2 479.0 1048.4 480.6C1048.6 482.1 1047.7 484.7 1046.3 486.8C1044.9 488.9 1042.5 491.0 1040.0 493.1C1037.6 495.2 1034.1 497.8 1031.7 499.4C1029.2 501.0 1026.8 500.2 1025.4 503.0C1024.0 505.8 1029.0 514.0 1023.3 516.2C1017.5 518.4 996.5 518.4 990.8 516.2C985.2 514.0 989.9 507.2 989.4 503.0C988.8 498.8 988.1 494.8 987.3 491.0C986.5 487.3 985.2 483.7 984.5 480.6C983.8 477.4 983.3 474.6 983.1 472.2C982.8 469.7 982.5 466.4 983.1 465.9Z" fill="#ffffff"/>
<path d="M1004.4 494.2C1006.3 493.1 1011.1 492.5 1014.9 491.5C1018.7 490.4 1023.6 489.4 1027.5 487.9C1031.3 486.4 1035.5 483.2 1037.9 482.7C1040.4 482.1 1042.8 483.4 1042.1 484.7C1041.4 486.1 1036.9 489.1 1033.7 491.0C1030.6 493.0 1027.1 494.9 1023.3 496.3C1019.4 497.7 1014.0 499.2 1010.7 499.4C1007.4 499.7 1004.4 498.6 1003.4 497.7C1002.3 496.9 1002.5 495.2 1004.4 494.2Z" fill="#c4f0ea"/>
<path d="M921.7 344.4C920.2 346.5 921.6 353.2 922.3 357.0C923.0 360.8 924.4 363.6 925.9 367.5C927.4 371.3 929.4 375.8 931.1 380.0C932.9 384.2 935.0 388.8 936.4 392.6C937.8 396.4 938.3 399.6 939.5 403.1C940.7 406.6 941.8 410.8 943.7 413.5C945.6 416.3 948.8 418.3 951.0 419.8C953.3 421.4 954.7 421.9 957.3 423.0C959.9 424.0 965.7 427.0 966.7 426.1C967.8 425.2 965.0 420.9 963.6 417.7C962.2 414.6 960.3 410.8 958.4 407.3C956.4 403.8 954.2 400.3 952.1 396.8C950.0 393.3 947.9 389.8 945.8 386.3C943.7 382.8 941.4 379.0 939.5 375.8C937.6 372.7 935.5 370.6 934.3 367.5C933.1 364.3 932.7 360.8 932.2 357.0C931.7 353.2 932.9 346.5 931.1 344.4C929.4 342.3 923.2 342.3 921.7 344.4Z" fill="#55b99b"/>
<path d="M918.6 516.2C916.6 514.0 919.0 507.9 919.0 503.0C919.0 498.1 918.8 492.3 918.6 486.8C918.3 481.4 917.9 475.3 917.5 470.1C917.2 464.9 917.0 459.3 916.5 455.4C915.9 451.6 915.4 449.1 914.4 447.1C913.3 445.0 911.6 443.9 910.2 442.9C908.8 441.8 908.8 441.3 906.0 440.8C903.2 440.2 895.5 440.8 893.4 439.7C891.3 438.7 891.3 435.2 893.4 434.5C895.5 433.8 902.5 435.0 906.0 435.5C909.5 436.1 911.6 436.4 914.4 437.6C917.2 438.8 920.7 440.2 922.8 442.9C924.8 445.5 925.9 448.8 926.9 453.3C928.0 457.9 928.6 464.5 929.0 470.1C929.5 475.7 929.3 481.4 929.5 486.8C929.6 492.3 929.9 498.1 930.1 503.0C930.3 507.9 932.6 514.0 930.7 516.2C928.8 518.4 920.5 518.4 918.6 516.2Z" fill="#55b99b"/>
<path d="M982.4 446.0C983.5 445.7 986.8 448.1 989.8 449.1C992.7 450.2 996.1 451.2 1000.2 452.3C1004.4 453.3 1009.7 454.6 1014.9 455.4C1020.1 456.3 1026.1 457.0 1031.7 457.5C1037.2 458.0 1043.5 458.6 1048.4 458.6C1053.3 458.6 1057.1 457.0 1061.0 457.5C1064.8 458.0 1068.3 460.3 1071.4 461.7C1074.6 463.1 1076.7 464.3 1079.8 465.9C1083.0 467.5 1087.2 469.7 1090.3 471.1C1093.4 472.5 1095.9 473.2 1098.7 474.3C1101.5 475.3 1104.3 476.5 1107.0 477.4C1109.8 478.3 1112.6 479.7 1115.4 479.5C1118.2 479.3 1121.7 477.6 1123.8 476.4C1125.9 475.2 1128.0 471.1 1128.0 472.2C1128.0 473.2 1126.6 480.6 1123.8 482.7C1121.0 484.7 1115.1 484.7 1111.2 484.7C1107.4 484.7 1102.9 481.6 1100.8 482.7C1098.7 483.7 1100.4 489.3 1098.7 491.0C1096.9 492.8 1094.5 493.1 1090.3 493.1C1086.1 493.1 1078.4 491.9 1073.5 491.0C1068.7 490.2 1064.5 489.3 1061.0 487.9C1057.5 486.5 1054.3 484.9 1052.6 482.7C1050.9 480.4 1051.9 476.4 1050.5 474.3C1049.1 472.2 1046.7 470.4 1044.2 470.1C1041.8 469.7 1038.6 471.1 1035.8 472.2C1033.1 473.2 1030.3 475.3 1027.5 476.4C1024.7 477.4 1021.9 478.5 1019.1 478.5C1016.3 478.5 1013.5 477.6 1010.7 476.4C1007.9 475.2 1005.1 473.2 1002.3 471.1C999.5 469.0 996.4 466.2 994.0 463.8C991.5 461.4 989.4 458.6 987.7 456.5C985.9 454.4 984.4 453.0 983.5 451.2C982.6 449.5 981.4 446.4 982.4 446.0Z" fill="#55b99b"/>
<path d="M1093.4 369.6C1094.9 368.2 1098.1 367.1 1100.8 367.5C1103.4 367.8 1106.7 369.6 1109.1 371.7C1111.6 373.8 1114.2 376.2 1115.4 380.0C1116.6 383.9 1116.5 389.8 1116.5 394.7C1116.5 399.6 1115.8 404.5 1115.4 409.4C1115.1 414.2 1114.7 419.5 1114.4 424.0C1114.0 428.6 1114.0 433.4 1113.3 436.6C1112.6 439.7 1111.6 442.2 1110.2 442.9C1108.8 443.6 1106.7 442.5 1105.0 440.8C1103.2 439.0 1101.5 435.9 1099.7 432.4C1098.0 428.9 1095.7 424.4 1094.5 419.8C1093.3 415.3 1092.9 410.4 1092.4 405.2C1091.9 399.9 1091.4 393.3 1091.3 388.4C1091.3 383.5 1091.6 379.0 1092.0 375.8C1092.3 372.7 1092.0 371.0 1093.4 369.6Z" fill="#55b99b"/>
<path d="M1128.0 395.7C1128.5 394.5 1131.3 393.3 1133.2 393.6C1135.1 394.0 1138.3 396.4 1139.5 397.8C1140.7 399.2 1141.3 401.0 1140.6 402.0C1139.9 403.1 1137.1 404.3 1135.3 404.1C1133.6 403.9 1131.3 402.4 1130.1 401.0C1128.9 399.6 1127.5 397.0 1128.0 395.7Z" fill="#55b99b"/>
<path d="M921.7 344.4C926.5 346.5 921.6 353.2 922.3 357.0C923.0 360.8 924.4 363.6 925.9 367.5C927.4 371.3 929.4 375.8 931.1 380.0C932.9 384.2 935.0 388.8 936.4 392.6C937.8 396.4 938.3 399.6 939.5 403.1C940.7 406.6 941.8 410.8 943.7 413.5C945.6 416.3 948.8 418.3 951.0 419.8C953.3 421.4 956.6 421.6 957.3 423.0C958.0 424.4 956.8 426.6 955.2 428.2C953.6 429.8 949.6 430.8 947.9 432.4C946.1 434.0 944.9 435.5 944.7 437.6C944.6 439.7 945.8 442.0 946.8 445.0C947.9 447.9 949.5 451.9 951.0 455.4C952.6 458.9 954.5 462.4 956.3 465.9C958.0 469.4 959.8 473.2 961.5 476.4C963.2 479.5 964.8 482.0 966.7 484.7C968.7 487.5 971.1 490.1 973.0 493.1C974.9 496.2 977.2 499.1 978.3 503.0C979.3 506.8 987.5 514.0 979.3 516.2C971.1 518.4 937.6 518.4 929.0 516.2C920.5 514.0 928.3 507.9 928.0 503.0C927.6 498.1 927.3 492.3 926.9 486.8C926.6 481.4 926.2 475.3 925.9 470.1C925.5 464.9 925.7 459.6 924.8 455.4C924.0 451.2 922.8 447.6 920.7 445.0C918.6 442.3 914.7 440.9 912.3 439.7C909.8 438.5 909.1 438.2 906.0 437.6C902.9 437.1 895.5 452.1 893.4 436.6C891.3 421.0 888.7 359.8 893.4 344.4C898.1 329.1 916.9 342.3 921.7 344.4Z" fill="#fae878"/>
<path d="M989.8 454.4C990.3 453.3 991.9 452.4 994.0 452.9C996.1 453.4 999.2 455.9 1002.3 457.5C1005.5 459.2 1009.3 461.4 1012.8 462.8C1016.3 464.2 1019.4 465.6 1023.3 465.9C1027.1 466.2 1031.7 465.4 1035.8 464.9C1040.0 464.3 1045.1 463.1 1048.4 462.8C1051.7 462.4 1054.5 462.1 1055.7 462.8C1057.0 463.5 1057.0 465.9 1055.7 466.9C1054.5 468.0 1051.0 468.9 1048.4 469.0C1045.8 469.2 1042.8 467.6 1040.0 468.0C1037.2 468.3 1034.4 470.1 1031.7 471.1C1028.9 472.2 1026.1 473.6 1023.3 474.3C1020.5 475.0 1017.7 475.8 1014.9 475.3C1012.1 474.8 1009.3 472.9 1006.5 471.1C1003.7 469.4 1000.8 466.8 998.1 464.9C995.5 462.9 992.2 461.4 990.8 459.6C989.4 457.9 989.2 455.5 989.8 454.4Z" fill="#fae878"/>
<path d="M1057.2 463.8L1064.1 462.8L1061.0 468.0Z" fill="#fae878"/>
<path d="M1053.6 481.6C1054.5 480.4 1057.7 480.4 1061.0 480.6C1064.3 480.7 1069.4 482.0 1073.5 482.7C1077.7 483.4 1082.1 484.1 1086.1 484.7C1090.1 485.4 1095.5 485.6 1097.6 486.8C1099.7 488.1 1099.9 491.0 1098.7 492.1C1097.4 493.2 1093.8 493.5 1090.3 493.5C1086.8 493.5 1081.9 492.5 1077.7 492.1C1073.5 491.7 1068.8 491.7 1065.2 491.0C1061.5 490.3 1057.7 489.5 1055.7 487.9C1053.8 486.3 1052.8 482.8 1053.6 481.6Z" fill="#fae878"/>
<path d="M1095.5 373.8C1096.6 371.1 1099.9 371.7 1101.8 372.7C1103.7 373.8 1105.7 377.1 1107.0 380.0C1108.4 383.0 1109.3 386.3 1110.2 390.5C1111.1 394.7 1111.8 400.3 1112.3 405.2C1112.8 410.1 1113.2 415.3 1113.3 419.8C1113.4 424.4 1113.4 428.9 1112.9 432.4C1112.4 435.9 1111.3 439.5 1110.2 440.8C1109.0 442.0 1107.6 441.5 1106.0 439.7C1104.4 438.0 1102.2 434.0 1100.8 430.3C1099.4 426.6 1098.5 422.3 1097.6 417.7C1096.8 413.2 1095.9 408.0 1095.5 403.1C1095.1 398.2 1095.1 393.3 1095.1 388.4C1095.1 383.5 1094.4 376.4 1095.5 373.8Z" fill="#fae878"/>
<path d="M977.2 487.9C977.9 485.1 980.9 485.6 982.4 486.4C984.0 487.3 985.8 490.4 986.6 493.1C987.5 495.9 987.5 499.1 987.7 503.0C987.8 506.8 989.1 514.0 987.7 516.2C986.3 518.4 980.9 518.4 979.3 516.2C977.7 514.0 978.6 507.7 978.3 503.0C977.9 498.3 976.5 490.6 977.2 487.9Z" fill="#fae878"/>
</g>
<clipPath id="t10"><rect x="55.0" y="503.0" width="244.0" height="146.0"/></clipPath>
<g clip-path="url(#t10)">
<path d="M211.0 490.4C193.9 492.5 211.0 500.0 210.0 503.0C208.9 506.0 206.3 507.2 204.7 508.2C203.2 509.3 201.4 507.7 200.5 509.3C199.7 510.9 200.4 514.9 199.5 517.7C198.6 520.5 196.9 523.6 195.3 526.0C193.7 528.5 191.3 530.1 190.1 532.3C188.9 534.6 187.5 537.6 188.0 539.6C188.5 541.7 193.0 543.5 193.2 544.9C193.4 546.3 191.1 547.7 189.0 548.0C186.9 548.4 183.4 547.3 180.7 547.0C177.9 546.6 175.1 546.3 172.3 545.9C169.5 545.6 166.5 544.9 163.9 544.9C161.3 544.9 158.3 545.1 156.6 545.9C154.8 546.8 154.0 548.2 153.4 550.1C152.8 552.0 153.5 554.8 153.0 557.5C152.5 560.1 151.1 563.0 150.3 565.8C149.5 568.6 148.7 571.4 148.2 574.2C147.7 577.0 147.1 579.8 147.1 582.6C147.1 585.4 147.5 588.2 148.2 591.0C148.9 593.8 150.1 596.5 151.3 599.3C152.6 602.1 154.1 604.9 155.5 607.7C156.9 610.5 158.7 613.6 159.7 616.1C160.8 618.5 161.8 620.3 161.8 622.4C161.8 624.5 160.2 626.6 159.7 628.7C159.2 630.7 158.7 632.8 158.7 634.9C158.6 637.0 159.1 638.9 159.3 641.2C159.5 643.6 159.6 645.5 159.7 649.0C159.8 652.5 134.2 660.0 159.7 662.2C185.2 664.4 287.1 690.8 312.6 662.2C338.1 633.5 329.5 519.1 312.6 490.4C295.7 461.8 228.1 488.3 211.0 490.4Z" fill="#5fe3bd"/>
<path d="M205.8 490.4L201.6 503.0L191.1 508.2L182.7 514.5L174.4 521.8L167.0 530.2L159.7 538.6L153.4 547.0L147.1 555.4L143.0 565.8L139.8 576.3L138.8 588.9L140.9 599.3L145.1 607.7L151.3 616.1L155.5 624.5L153.4 630.7L147.1 634.9L138.8 639.1L132.5 645.4L130.4 649.0L129.3 662.2L163.9 662.2L159.7 649.0L159.3 641.2L158.7 634.9L159.7 628.7L161.8 622.4L159.7 616.1L155.5 607.7L151.3 599.3L148.2 591.0L147.1 582.6L148.2 574.2L150.3 565.8L153.0 557.5L153.4 550.1L156.6 545.9L163.9 544.9L172.3 545.9L180.7 547.0L189.0 548.0L193.2 544.9L188.0 539.6L190.1 532.3L195.3 526.0L199.5 517.7L200.5 509.3L204.7 508.2L210.0 503.0L211.0 490.4Z" fill="#c4f0ea"/>
<path d="M312.6 589.9C310.3 606.6 303.5 590.2 299.0 590.5C294.4 590.9 291.1 591.5 285.4 592.0C279.6 592.5 271.4 593.1 264.4 593.5C257.4 593.9 250.5 594.3 243.5 594.5C236.5 594.7 228.8 594.9 222.5 594.5C216.3 594.2 210.7 593.4 205.8 592.4C200.9 591.4 197.1 590.2 193.2 588.4C189.4 586.7 185.9 584.4 182.7 582.2C179.6 579.9 176.4 577.6 174.4 574.8C172.3 572.1 171.4 568.5 170.6 565.8C169.8 563.1 169.1 559.5 169.8 558.5C170.4 557.5 172.9 558.1 174.4 559.5C175.8 560.9 177.0 564.4 178.6 566.9C180.1 569.3 181.7 571.4 183.8 574.2C185.9 577.0 189.3 582.1 191.1 583.6C193.0 585.2 193.7 584.3 194.9 583.6C196.1 582.9 196.6 581.0 198.5 579.4C200.3 577.9 203.2 575.6 205.8 574.2C208.4 572.8 211.9 572.3 214.2 571.1C216.4 569.8 217.3 567.8 219.4 566.9C221.5 565.9 223.8 566.0 226.7 565.4C229.7 564.8 234.1 565.0 237.2 563.3C240.3 561.6 242.8 558.1 245.6 555.4C248.4 552.6 250.8 549.8 254.0 547.0C257.1 544.2 260.9 541.7 264.4 538.6C267.9 535.5 272.3 532.0 274.9 528.1C277.5 524.3 279.1 519.8 280.1 515.6C281.2 511.4 280.9 507.2 281.2 503.0C281.4 498.8 276.4 492.5 281.6 490.4C286.8 488.3 307.4 473.9 312.6 490.4C317.8 507.0 314.9 573.2 312.6 589.9Z" fill="#c4f0ea"/>
<path d="M254.0 574.2C254.7 571.8 256.0 568.6 258.1 565.8C260.2 563.0 263.4 560.2 266.5 557.5C269.7 554.7 273.8 551.9 277.0 549.1C280.1 546.3 282.9 543.8 285.4 540.7C287.8 537.6 289.9 533.4 291.6 530.2C293.4 527.1 294.6 524.3 295.8 521.8C297.1 519.4 296.2 518.0 299.0 515.6C301.8 513.1 310.3 497.8 312.6 507.2C314.9 516.6 314.9 560.6 312.6 572.1C310.3 583.6 303.5 574.9 299.0 576.3C294.4 577.7 289.4 579.3 285.4 580.5C281.4 581.7 278.4 582.8 274.9 583.6C271.4 584.5 267.4 585.5 264.4 585.7C261.5 585.9 258.8 585.5 257.1 584.7C255.3 583.8 254.5 582.2 254.0 580.5C253.4 578.7 253.3 576.6 254.0 574.2Z" fill="#ffffff"/>
<path d="M215.2 580.5C215.7 579.5 218.7 577.2 220.4 576.3C222.2 575.4 225.3 574.7 225.7 575.3C226.0 575.8 223.9 578.3 222.5 579.4C221.1 580.6 218.5 582.0 217.3 582.2C216.1 582.3 214.7 581.5 215.2 580.5Z" fill="#ffffff"/>
<path d="M207.9 548.0C208.1 547.0 209.8 545.7 211.0 545.5C212.2 545.3 214.7 546.1 215.2 547.0C215.7 547.9 215.0 550.0 214.2 550.7C213.3 551.5 211.0 552.0 210.0 551.6C208.9 551.1 207.7 549.0 207.9 548.0Z" fill="#ffffff"/>
<path d="M246.6 490.4C242.6 492.5 247.4 499.5 247.3 503.0C247.1 506.5 246.9 508.8 245.6 511.4C244.2 514.0 241.4 516.8 239.3 518.7C237.2 520.6 234.7 521.2 233.0 522.9C231.3 524.6 229.4 526.9 229.2 529.2C229.1 531.4 230.3 534.6 232.0 536.5C233.6 538.4 236.7 540.5 239.3 540.7C241.9 540.9 244.9 539.3 247.7 537.6C250.5 535.8 253.3 532.8 256.0 530.2C258.8 527.6 262.2 524.6 264.4 521.8C266.7 519.1 268.6 516.6 269.7 513.5C270.7 510.3 270.5 506.8 270.7 503.0C271.0 499.2 275.1 492.5 271.1 490.4C267.1 488.3 250.6 488.3 246.6 490.4Z" fill="#55b99b"/>
<path d="M167.0 609.8C167.6 607.9 170.0 607.4 172.3 606.7C174.5 606.0 178.4 606.5 180.7 605.6C182.9 604.7 183.8 602.3 185.9 601.4C188.0 600.6 190.6 600.2 193.2 600.4C195.8 600.6 198.8 601.8 201.6 602.5C204.4 603.2 206.5 604.4 210.0 604.6C213.5 604.7 218.4 603.8 222.5 603.5C226.7 603.3 230.9 603.1 235.1 603.1C239.3 603.1 243.5 603.5 247.7 603.5C251.9 603.5 256.0 603.3 260.2 603.1C264.4 602.9 269.5 602.2 272.8 602.5C276.1 602.7 278.2 603.0 280.1 604.6C282.1 606.1 283.4 608.9 284.3 611.9C285.2 614.9 285.4 619.2 285.4 622.4C285.4 625.5 285.0 628.3 284.3 630.7C283.6 633.2 283.1 635.6 281.2 637.0C279.3 638.4 275.6 638.6 272.8 639.1C270.0 639.6 267.2 639.6 264.4 640.2C261.6 640.7 258.5 641.3 256.0 642.3C253.6 643.2 251.9 645.1 249.8 645.8C247.7 646.6 248.0 646.7 243.5 646.7C238.9 646.7 229.5 646.0 222.5 645.8C215.6 645.6 207.9 645.7 201.6 645.4C195.3 645.1 188.7 644.8 184.8 644.2C181.0 643.5 180.0 643.1 178.6 641.2C177.2 639.3 177.3 635.6 176.5 632.8C175.6 630.1 174.5 626.9 173.3 624.5C172.1 622.0 170.2 620.6 169.1 618.2C168.1 615.7 166.5 611.7 167.0 609.8Z" fill="#55b99b"/>
<path d="M156.6 562.7C156.8 561.4 158.4 559.8 159.3 560.0C160.2 560.1 161.6 562.3 161.8 563.7C162.1 565.1 161.5 567.7 160.8 568.3C160.1 569.0 158.3 568.4 157.6 567.5C156.9 566.6 156.3 563.9 156.6 562.7Z" fill="#55b99b"/>
<path d="M186.9 623.4C187.3 621.6 189.0 619.0 191.1 617.8C193.2 616.5 197.1 616.2 199.5 616.1C201.9 616.0 203.3 617.5 205.8 617.1C208.2 616.8 211.4 614.9 214.2 614.0C217.0 613.1 219.7 612.7 222.5 611.9C225.3 611.1 228.1 609.9 230.9 609.4C233.7 608.9 236.5 608.7 239.3 608.8C242.1 608.8 244.9 609.1 247.7 609.8C250.5 610.5 253.6 611.6 256.0 612.9C258.5 614.3 260.2 617.4 262.3 617.8C264.4 618.1 266.7 615.8 268.6 615.0C270.5 614.2 272.8 612.4 273.8 612.9C274.9 613.5 275.1 616.1 274.9 618.2C274.7 620.3 274.2 623.4 272.8 625.5C271.4 627.6 269.0 629.4 266.5 630.7C264.1 632.1 260.9 632.5 258.1 633.9C255.3 635.3 252.9 637.8 249.8 639.1C246.6 640.4 242.8 641.0 239.3 641.6C235.8 642.3 231.6 643.1 228.8 642.9C226.0 642.7 224.5 640.0 222.5 640.2C220.6 640.3 219.4 643.1 217.3 643.7C215.2 644.3 212.2 644.3 210.0 643.7C207.7 643.1 205.4 641.3 203.7 640.2C201.9 639.1 201.2 638.6 199.5 637.0C197.8 635.5 195.0 632.1 193.2 630.7C191.5 629.4 190.1 629.9 189.0 628.7C188.0 627.4 186.6 625.2 186.9 623.4Z" fill="#fae878"/>
<path d="M181.7 634.5L184.4 631.2L186.9 634.5L184.4 638.1Z" fill="#fae878"/>
<path d="M190.7 633.9C191.3 633.0 193.3 632.3 194.3 632.8C195.2 633.4 196.5 635.8 196.4 637.0C196.2 638.3 194.2 640.0 193.2 640.2C192.3 640.3 191.1 639.1 190.7 638.1C190.3 637.0 190.1 634.8 190.7 633.9Z" fill="#fae878"/>
</g>
<clipPath id="t11"><rect x="299.0" y="503.0" width="244.0" height="146.0"/></clipPath>
<g clip-path="url(#t11)">
<path d="M286.4 490.4L556.6 490.4L556.6 662.2L286.4 662.2Z" fill="#5fe3bd"/>
<path d="M286.4 490.4C294.5 476.1 326.5 488.3 334.6 490.4C342.7 492.5 334.7 499.2 335.0 503.0C335.3 506.8 334.8 510.5 336.3 513.5C337.8 516.4 340.1 519.1 344.0 520.8C347.9 522.5 358.9 522.5 359.7 523.9C360.6 525.3 352.4 527.4 349.3 529.2C346.1 530.9 343.3 532.1 340.9 534.4C338.4 536.7 336.3 540.0 334.6 542.8C332.9 545.6 332.2 548.4 330.4 551.2C328.7 554.0 326.2 557.1 324.1 559.5C322.0 562.0 320.3 563.9 317.8 565.8C315.4 567.7 312.6 569.5 309.5 571.1C306.3 572.6 302.8 574.4 299.0 575.3C295.2 576.1 288.5 590.4 286.4 576.3C284.3 562.2 278.4 504.7 286.4 490.4Z" fill="#c4f0ea"/>
<path d="M286.4 509.3C288.5 501.8 295.7 509.3 299.0 510.3C302.3 511.4 303.9 513.5 306.3 515.6C308.8 517.7 311.2 520.1 313.7 522.9C316.1 525.7 319.6 529.5 321.0 532.3C322.4 535.1 322.4 537.2 322.0 539.6C321.7 542.1 320.6 544.9 318.9 547.0C317.2 549.1 314.2 550.9 311.6 552.2C308.9 553.5 305.3 554.4 303.2 554.9C301.1 555.5 301.8 555.3 299.0 555.4C296.2 555.4 288.5 563.0 286.4 555.4C284.3 547.7 284.3 516.8 286.4 509.3Z" fill="#ffffff"/>
<path d="M400.6 522.9C400.9 521.7 404.9 519.4 407.9 517.7C410.9 515.9 414.9 514.2 418.4 512.4C421.9 510.7 426.1 508.8 428.8 507.2C431.6 505.6 433.7 505.8 435.1 503.0C436.5 500.2 421.2 492.5 437.2 490.4C453.3 488.3 515.6 488.3 531.5 490.4C547.3 492.5 532.2 498.8 532.5 503.0C532.9 507.2 533.6 511.4 533.6 515.6C533.6 519.8 532.3 524.3 532.5 528.1C532.7 532.0 534.4 534.1 534.6 538.6C534.8 543.1 533.4 550.1 533.6 555.4C533.7 560.6 534.1 567.2 535.6 570.0C537.2 572.8 539.5 571.6 543.0 572.1C546.5 572.6 554.3 564.8 556.6 573.2C558.9 581.5 558.9 614.5 556.6 622.4C554.3 630.2 546.1 622.0 543.0 620.3C539.8 618.5 539.7 614.3 537.7 611.9C535.8 609.5 533.2 608.1 531.5 605.6C529.7 603.2 528.7 600.4 527.3 597.2C525.9 594.1 524.5 590.3 523.1 586.8C521.7 583.3 520.6 579.4 518.9 576.3C517.2 573.2 514.9 570.2 512.6 567.9C510.3 565.7 507.9 563.6 505.3 562.7C502.7 561.8 499.2 561.5 496.9 562.7C494.6 563.9 492.7 566.7 491.7 570.0C490.6 573.3 490.6 578.4 490.6 582.6C490.6 586.8 490.4 592.4 491.7 595.1C492.9 597.9 495.5 598.5 498.0 599.3C500.4 600.2 504.6 599.7 506.3 600.4C508.1 601.1 509.1 602.5 508.4 603.5C507.7 604.6 504.9 606.3 502.1 606.7C499.3 607.0 494.6 606.5 491.7 605.6C488.7 604.7 486.1 603.9 484.3 601.4C482.6 599.0 482.1 594.4 481.2 591.0C480.3 587.5 479.8 584.0 479.1 580.5C478.4 577.0 478.1 573.2 477.0 570.0C476.0 566.9 474.6 563.9 472.8 561.6C471.1 559.4 469.0 557.1 466.5 556.4C464.1 555.7 461.0 557.5 458.2 557.5C455.4 557.5 452.6 557.6 449.8 556.4C447.0 555.2 444.2 552.4 441.4 550.1C438.6 547.9 435.0 545.8 433.0 542.8C431.1 539.8 431.3 535.6 429.9 532.3C428.5 529.0 426.9 524.6 424.7 522.9C422.4 521.2 419.4 521.5 416.3 521.8C413.1 522.2 408.4 524.8 405.8 525.0C403.2 525.2 400.2 524.1 400.6 522.9Z" fill="#c4f0ea"/>
<path d="M451.9 516.6C451.9 515.2 455.7 513.6 458.2 512.4C460.6 511.2 464.1 509.3 466.5 509.3C469.0 509.3 471.1 510.7 472.8 512.4C474.6 514.2 475.3 517.5 477.0 519.8C478.8 522.0 481.2 523.6 483.3 526.0C485.4 528.5 487.8 531.6 489.6 534.4C491.3 537.2 493.4 540.5 493.8 542.8C494.1 545.1 493.1 547.7 491.7 548.0C490.3 548.4 487.5 546.5 485.4 544.9C483.3 543.3 480.8 541.0 479.1 538.6C477.4 536.2 477.0 532.7 474.9 530.2C472.8 527.8 469.3 525.5 466.5 523.9C463.7 522.4 460.6 522.0 458.2 520.8C455.7 519.6 451.9 518.0 451.9 516.6Z" fill="#ffffff"/>
<path d="M481.2 490.4C478.8 492.5 481.2 500.0 482.2 503.0C483.3 506.0 485.2 507.5 487.5 508.2C489.8 508.9 494.3 508.1 495.9 507.2C497.4 506.3 496.7 505.8 496.9 503.0C497.1 500.2 499.5 492.5 496.9 490.4C494.3 488.3 483.6 488.3 481.2 490.4Z" fill="#ffffff"/>
<path d="M510.5 490.4C507.7 492.5 510.2 500.4 511.6 503.0C513.0 505.6 516.3 506.0 518.9 506.1C521.5 506.3 525.7 506.7 527.3 504.0C528.8 501.4 531.1 492.7 528.3 490.4C525.5 488.2 513.3 488.3 510.5 490.4Z" fill="#ffffff"/>
<path d="M332.5 649.0C332.7 644.8 332.9 640.8 333.6 637.0C334.3 633.3 335.5 628.7 336.7 626.6C337.9 624.5 339.1 624.1 340.9 624.5C342.6 624.8 345.1 627.3 347.2 628.7C349.3 630.1 351.0 631.6 353.5 632.8C355.9 634.1 358.7 635.8 361.8 636.0C365.0 636.2 369.2 634.8 372.3 633.9C375.4 633.0 378.6 630.2 380.7 630.7C382.8 631.3 383.8 634.6 384.9 637.0C385.9 639.5 387.3 643.4 387.0 645.4C386.6 647.4 383.5 646.2 382.8 649.0C382.1 651.8 391.1 660.0 382.8 662.2C374.4 664.4 340.9 664.4 332.5 662.2C324.1 660.0 332.3 653.2 332.5 649.0Z" fill="#c4f0ea"/>
<path d="M424.7 649.0C426.1 646.2 429.5 646.4 433.0 645.4C436.5 644.5 441.4 643.5 445.6 643.3C449.8 643.1 454.7 643.7 458.2 644.4C461.7 645.1 464.8 644.5 466.5 647.5C468.3 650.5 475.6 659.7 468.6 662.2C461.7 664.6 432.0 664.4 424.7 662.2C417.3 660.0 423.3 651.8 424.7 649.0Z" fill="#c4f0ea"/>
<path d="M487.5 649.0C488.2 645.5 490.3 643.2 491.7 641.2C493.1 639.2 494.5 637.4 495.9 637.0C497.3 636.7 499.7 637.7 500.0 639.1C500.4 640.5 499.0 643.8 498.0 645.4C496.9 647.0 494.5 646.2 493.8 649.0C493.1 651.8 494.8 660.0 493.8 662.2C492.7 664.4 488.5 664.4 487.5 662.2C486.4 660.0 486.8 652.5 487.5 649.0Z" fill="#c4f0ea"/>
<path d="M444.5 584.7C444.9 583.6 447.9 582.2 448.7 582.6C449.6 582.9 450.1 585.7 449.8 586.8C449.4 587.9 447.5 589.6 446.6 589.3C445.8 588.9 444.2 585.8 444.5 584.7Z" fill="#c4f0ea"/>
<path d="M323.1 585.7C322.2 582.6 324.0 578.2 325.2 574.2C326.4 570.2 328.5 565.8 330.4 561.6C332.3 557.5 334.3 552.9 336.7 549.1C339.1 545.2 341.9 541.4 345.1 538.6C348.2 535.8 351.7 534.1 355.5 532.3C359.4 530.6 363.6 528.8 368.1 528.1C372.6 527.4 378.2 527.8 382.8 528.1C387.3 528.5 391.5 529.2 395.3 530.2C399.2 531.3 402.8 532.3 405.8 534.4C408.8 536.5 411.0 540.0 413.1 542.8C415.2 545.6 416.1 549.6 418.4 551.2C420.6 552.7 424.0 552.4 426.7 552.2C429.5 552.0 432.3 549.6 435.1 550.1C437.9 550.6 441.4 552.7 443.5 555.4C445.6 558.0 447.3 562.7 447.7 565.8C448.0 569.0 446.6 571.4 445.6 574.2C444.5 577.0 443.2 579.8 441.4 582.6C439.7 585.4 436.5 588.5 435.1 591.0C433.7 593.4 432.7 595.1 433.0 597.2C433.4 599.3 435.1 601.8 437.2 603.5C439.3 605.3 442.8 607.4 445.6 607.7C448.4 608.1 450.8 605.6 454.0 605.6C457.1 605.6 461.0 607.0 464.4 607.7C467.9 608.4 471.8 608.8 474.9 609.8C478.1 610.9 481.7 611.9 483.3 614.0C484.9 616.1 485.0 619.9 484.3 622.4C483.6 624.8 482.1 627.3 479.1 628.7C476.1 630.1 470.4 630.1 466.5 630.7C462.7 631.4 458.9 632.0 456.1 632.8C453.3 633.7 452.2 635.8 449.8 636.0C447.3 636.2 443.9 635.1 441.4 633.9C439.0 632.7 437.2 630.6 435.1 628.7C433.0 626.7 430.9 623.8 428.8 622.4C426.7 621.0 424.7 619.6 422.6 620.3C420.5 621.0 418.0 624.5 416.3 626.6C414.5 628.7 413.5 630.7 412.1 632.8C410.7 634.9 409.3 637.7 407.9 639.1C406.5 640.5 405.5 641.6 403.7 641.2C402.0 640.9 398.1 638.8 397.4 637.0C396.7 635.3 398.5 632.5 399.5 630.7C400.6 629.0 404.1 628.3 403.7 626.6C403.4 624.8 400.2 622.0 397.4 620.3C394.6 618.5 390.8 617.5 387.0 616.1C383.1 614.7 378.6 612.9 374.4 611.9C370.2 610.9 366.0 610.9 361.8 609.8C357.6 608.8 353.1 607.4 349.3 605.6C345.4 603.9 341.9 601.4 338.8 599.3C335.6 597.2 333.0 595.3 330.4 593.1C327.8 590.8 324.0 588.9 323.1 585.7Z" fill="#55b99b"/>
<path d="M363.9 490.4C355.0 492.5 365.0 499.9 366.0 503.0C367.1 506.1 368.1 507.7 370.2 509.3C372.3 510.9 375.4 512.1 378.6 512.4C381.7 512.8 385.6 511.4 389.1 511.4C392.5 511.4 396.0 512.4 399.5 512.4C403.0 512.4 407.2 512.2 410.0 511.4C412.8 510.5 414.9 508.6 416.3 507.2C417.7 505.8 417.8 505.8 418.4 503.0C418.9 500.2 428.5 492.5 419.4 490.4C410.3 488.3 372.8 488.3 363.9 490.4Z" fill="#55b99b"/>
<path d="M311.6 628.7C312.2 626.4 314.0 623.9 315.8 622.4C317.5 620.8 319.9 619.2 322.0 619.2C324.1 619.2 327.4 620.8 328.3 622.4C329.2 623.9 328.3 626.2 327.3 628.7C326.2 631.1 323.8 635.1 322.0 637.0C320.3 639.0 318.5 640.3 316.8 640.2C315.1 640.0 312.9 637.9 312.0 636.0C311.1 634.1 310.9 630.9 311.6 628.7Z" fill="#55b99b"/>
<path d="M286.4 639.1C288.5 635.2 296.3 638.2 299.0 638.7C301.7 639.2 302.1 640.6 302.8 642.3C303.5 644.0 303.1 645.7 303.2 649.0C303.3 652.3 306.0 660.0 303.2 662.2C300.4 664.4 289.2 666.0 286.4 662.2C283.6 658.3 284.3 643.0 286.4 639.1Z" fill="#55b99b"/>
<path d="M463.4 575.3C463.8 573.7 465.4 571.1 466.5 571.1C467.7 571.1 470.1 573.5 470.3 575.3C470.5 577.0 468.6 580.7 467.6 581.5C466.5 582.4 464.7 581.5 464.0 580.5C463.3 579.4 463.0 576.8 463.4 575.3Z" fill="#55b99b"/>
<path d="M510.5 589.9C511.0 588.7 513.5 587.5 514.7 587.8C515.9 588.2 517.7 590.6 517.8 592.0C518.0 593.4 516.8 595.7 515.8 596.2C514.7 596.7 512.4 596.2 511.6 595.1C510.7 594.1 510.0 591.1 510.5 589.9Z" fill="#55b99b"/>
<path d="M494.8 628.7C494.9 627.5 496.8 626.6 497.5 627.0C498.2 627.3 499.1 629.6 499.0 630.7C498.9 631.9 497.6 634.2 496.9 633.9C496.2 633.5 494.7 629.8 494.8 628.7Z" fill="#55b99b"/>
<path d="M539.8 531.3C540.4 525.7 540.2 530.4 543.0 530.2C545.8 530.1 554.3 523.9 556.6 530.2C558.9 536.5 558.9 561.6 556.6 567.9C554.3 574.2 545.8 568.6 543.0 567.9C540.2 567.2 540.4 569.8 539.8 563.7C539.3 557.6 539.3 536.9 539.8 531.3Z" fill="#55b99b"/>
<path d="M332.5 581.5C331.8 579.8 334.3 575.1 335.6 572.1C337.0 569.1 339.0 566.9 340.9 563.7C342.8 560.6 345.4 556.4 347.2 553.3C348.9 550.1 349.3 547.3 351.4 544.9C353.5 542.4 356.6 540.3 359.7 538.6C362.9 536.9 366.4 535.1 370.2 534.4C374.0 533.7 378.9 534.1 382.8 534.4C386.6 534.8 389.9 535.5 393.2 536.5C396.6 537.6 400.8 539.0 402.7 540.7C404.5 542.4 404.9 545.1 404.3 547.0C403.8 548.9 401.4 550.5 399.5 552.2C397.7 554.0 395.2 555.5 393.2 557.5C391.3 559.4 389.4 561.3 388.0 563.7C386.6 566.2 385.9 569.7 384.9 572.1C383.8 574.6 382.6 575.9 381.7 578.4C380.8 580.8 380.8 584.5 379.6 586.8C378.4 589.0 376.7 590.6 374.4 592.0C372.1 593.4 368.8 594.1 366.0 595.1C363.2 596.2 360.1 597.9 357.6 598.3C355.2 598.6 353.3 598.1 351.4 597.2C349.4 596.4 347.5 594.8 346.1 593.1C344.7 591.3 344.0 588.5 343.0 586.8C341.9 585.0 341.6 583.5 339.8 582.6C338.1 581.7 333.2 583.3 332.5 581.5Z" fill="#fae878"/>
<path d="M407.9 584.7C407.6 582.6 407.9 578.7 408.9 576.3C410.0 573.9 412.3 571.9 414.2 570.0C416.1 568.1 418.0 566.2 420.5 564.8C422.9 563.4 426.2 562.0 428.8 561.6C431.5 561.3 434.5 561.3 436.2 562.7C437.8 564.1 438.7 567.4 438.9 570.0C439.1 572.6 438.2 575.9 437.2 578.4C436.2 580.8 434.6 582.6 433.0 584.7C431.5 586.8 429.5 589.4 427.8 591.0C426.1 592.5 424.5 593.9 422.6 594.1C420.6 594.3 418.2 592.9 416.3 592.0C414.4 591.1 412.4 590.1 411.0 588.9C409.6 587.6 408.2 586.8 407.9 584.7Z" fill="#fae878"/>
<path d="M470.3 615.0L472.4 613.4L474.1 615.7L472.0 617.3Z" fill="#fae878"/>
<path d="M389.1 490.4L389.5 503.0L391.1 506.1L392.8 503.0L393.2 490.4Z" fill="#fae878"/>
</g>
<clipPath id="t12"><rect x="543.0" y="503.0" width="244.0" height="146.0"/></clipPath>
<g clip-path="url(#t12)">
<path d="M530.4 490.4L800.6 490.4L800.6 662.2L530.4 662.2Z" fill="#5fe3bd"/>
<path d="M552.4 508.2C553.8 506.2 558.5 506.1 563.9 505.5C569.4 504.9 577.9 504.4 584.9 504.7C591.9 505.0 598.8 505.9 605.8 507.2C612.8 508.5 620.5 511.9 626.8 512.4C633.1 512.9 637.9 511.4 643.5 510.3C649.1 509.3 656.1 509.5 660.3 506.1C664.5 502.8 662.0 493.1 668.7 490.4C675.3 487.8 695.1 488.3 700.1 490.4C705.0 492.5 700.1 500.0 698.4 503.0C696.6 506.0 692.8 506.5 689.6 508.2C686.4 510.0 682.6 512.2 679.1 513.5C675.6 514.7 672.1 515.1 668.7 515.6C665.2 516.0 662.0 514.8 658.2 516.0C654.3 517.2 650.2 521.6 645.6 522.9C641.1 524.2 635.1 523.1 631.0 523.9C626.8 524.8 623.5 525.9 620.5 528.1C617.5 530.4 615.3 534.6 613.2 537.6C611.1 540.5 609.8 543.1 607.9 545.9C606.0 548.7 604.1 551.5 601.6 554.3C599.2 557.1 595.5 560.6 593.3 562.7C591.0 564.8 589.4 566.7 588.0 566.9C586.6 567.0 585.9 563.9 584.9 563.7C583.8 563.6 582.7 564.8 581.7 565.8C580.8 566.9 579.7 568.7 579.0 570.0C578.3 571.3 578.7 574.8 577.6 573.8C576.4 572.7 574.2 567.5 572.3 563.7C570.4 560.0 568.1 555.0 566.0 551.2C563.9 547.3 561.5 544.0 559.8 540.7C558.0 537.4 555.7 534.1 555.6 531.3C555.4 528.5 558.7 526.2 558.7 523.9C558.7 521.7 556.6 520.3 555.6 517.7C554.5 515.0 551.0 510.3 552.4 508.2Z" fill="#c4f0ea"/>
<path d="M579.6 527.1C580.5 523.3 582.2 520.2 584.5 518.1C586.7 516.0 590.4 514.8 593.3 514.5C596.1 514.3 599.7 515.0 601.6 516.6C603.6 518.2 604.6 520.6 605.0 523.9C605.3 527.3 604.8 532.7 603.7 536.5C602.7 540.3 600.6 543.7 598.5 547.0C596.4 550.3 593.4 553.8 591.2 556.4C588.9 559.0 586.5 563.2 584.9 562.7C583.3 562.2 582.6 556.9 581.7 553.3C580.9 549.6 580.0 545.1 579.6 540.7C579.3 536.3 578.8 530.9 579.6 527.1Z" fill="#5fe3bd"/>
<path d="M530.4 579.4C532.5 574.9 538.8 579.4 543.0 580.5C547.2 581.5 551.0 583.8 555.6 585.7C560.1 587.6 565.3 590.4 570.2 592.0C575.1 593.6 579.6 594.8 584.9 595.1C590.1 595.5 596.1 594.6 601.6 594.1C607.2 593.6 613.2 592.5 618.4 592.0C623.6 591.5 628.2 590.6 633.1 591.0C637.9 591.3 643.9 593.1 647.7 594.1C651.6 595.1 653.3 597.4 656.1 597.2C658.9 597.1 661.3 594.4 664.5 593.1C667.6 591.7 670.7 589.0 674.9 588.9C679.1 588.7 685.1 592.0 689.6 592.0C694.1 592.0 698.0 590.4 702.2 588.9C706.4 587.3 711.2 584.7 714.7 582.6C718.2 580.5 722.1 578.7 723.1 576.3C724.2 573.9 722.4 569.7 721.0 567.9C719.6 566.2 716.8 565.5 714.7 565.8C712.6 566.2 710.5 569.0 708.4 570.0C706.4 571.1 704.3 572.5 702.2 572.1C700.1 571.8 697.6 569.7 695.9 567.9C694.1 566.2 692.0 563.7 691.7 561.6C691.3 559.5 692.4 557.1 693.8 555.4C695.2 553.6 697.3 552.0 700.1 551.2C702.9 550.3 707.7 549.8 710.5 550.1C713.3 550.5 715.1 553.6 716.8 553.3C718.6 552.9 719.6 549.4 721.0 548.0C722.4 546.6 723.5 545.1 725.2 544.9C726.9 544.7 729.7 545.6 731.5 547.0C733.2 548.4 735.3 550.8 735.7 553.3C736.0 555.7 734.3 558.8 733.6 561.6C732.9 564.4 730.8 567.6 731.5 570.0C732.2 572.5 735.0 574.7 737.8 576.3C740.6 577.9 744.4 578.7 748.2 579.4C752.1 580.1 757.3 581.0 760.8 580.5C764.3 580.0 766.7 578.0 769.2 576.3C771.6 574.6 772.5 571.8 775.5 570.0C778.4 568.3 782.8 566.9 787.0 565.8C791.2 564.8 798.3 559.5 800.6 563.7C802.9 567.9 802.9 585.7 800.6 591.0C798.3 596.2 791.2 593.8 787.0 595.1C782.8 596.5 779.5 598.1 775.5 599.3C771.4 600.6 766.7 601.4 762.9 602.5C759.1 603.5 755.9 604.6 752.4 605.6C748.9 606.7 745.4 607.7 742.0 608.8C738.5 609.8 733.9 610.0 731.5 611.9C729.0 613.8 729.0 617.8 727.3 620.3C725.5 622.7 723.8 624.5 721.0 626.6C718.2 628.7 713.7 630.7 710.5 632.8C707.4 634.9 705.0 637.0 702.2 639.1C699.4 641.2 695.9 644.9 693.8 645.4C691.7 645.9 691.0 644.0 689.6 642.3C688.2 640.5 687.5 636.9 685.4 634.9C683.3 633.0 680.2 632.1 677.0 630.7C673.9 629.4 669.7 628.3 666.6 626.6C663.4 624.8 660.6 622.7 658.2 620.3C655.7 617.8 654.3 614.3 651.9 611.9C649.5 609.5 647.0 607.0 643.5 605.6C640.0 604.2 635.1 603.5 631.0 603.5C626.8 603.5 622.6 604.7 618.4 605.6C614.2 606.5 610.4 608.1 605.8 608.8C601.3 609.5 596.1 610.3 591.2 609.8C586.3 609.3 581.4 606.8 576.5 605.6C571.6 604.4 566.0 602.8 561.8 602.5C557.7 602.1 554.5 602.8 551.4 603.5C548.2 604.2 546.5 606.0 543.0 606.7C539.5 607.4 532.5 612.2 530.4 607.7C528.3 603.2 528.3 584.0 530.4 579.4Z" fill="#c4f0ea"/>
<path d="M662.4 609.8C662.5 608.7 664.5 607.4 666.6 607.1C668.7 606.7 672.3 607.1 674.9 607.7C677.6 608.3 680.5 609.7 682.3 610.9C684.0 612.0 685.6 613.5 685.4 614.4C685.2 615.4 683.3 616.3 681.2 616.5C679.1 616.7 675.5 616.2 672.8 615.7C670.2 615.2 667.3 614.6 665.5 613.6C663.8 612.6 662.2 610.9 662.4 609.8Z" fill="#ffffff"/>
<path d="M723.1 490.4C718.0 492.5 722.4 498.8 722.1 503.0C721.7 507.2 721.2 511.0 721.0 515.6C720.8 520.1 720.8 525.3 721.0 530.2C721.2 535.1 721.0 542.3 722.1 544.9C723.1 547.5 725.0 546.3 727.3 545.9C729.6 545.6 733.2 544.4 735.7 542.8C738.1 541.2 740.4 539.3 742.0 536.5C743.5 533.7 744.2 529.5 745.1 526.0C746.0 522.5 746.3 518.7 747.2 515.6C748.1 512.4 749.5 511.4 750.3 507.2C751.2 503.0 757.0 493.2 752.4 490.4C747.9 487.6 728.2 488.3 723.1 490.4Z" fill="#c4f0ea"/>
<path d="M752.4 490.4C751.1 492.9 752.0 501.6 753.1 505.1C754.1 508.6 756.6 509.3 758.7 511.4C760.8 513.5 763.5 515.6 765.4 517.7C767.3 519.8 768.9 521.5 770.2 523.9C771.6 526.4 771.8 532.3 773.4 532.3C774.9 532.3 779.6 526.7 779.6 523.9C779.6 521.2 775.5 518.2 773.4 515.6C771.3 512.9 769.2 512.4 767.1 508.2C765.0 504.0 763.2 493.4 760.8 490.4C758.4 487.5 753.7 488.0 752.4 490.4Z" fill="#c4f0ea"/>
<path d="M774.4 523.9C775.9 521.6 779.4 522.6 781.7 522.3C784.1 521.9 785.3 521.7 788.4 521.8C791.6 522.0 798.6 514.9 800.6 522.9C802.6 530.9 802.9 562.5 800.6 570.0C798.3 577.5 791.2 567.9 787.0 567.9C782.8 567.9 777.7 572.5 775.5 570.0C773.3 567.6 774.3 558.8 773.8 553.3C773.3 547.7 772.4 541.4 772.5 536.5C772.6 531.6 772.9 526.3 774.4 523.9Z" fill="#c4f0ea"/>
<path d="M767.1 490.4C762.2 492.5 769.5 499.9 771.3 503.0C773.0 506.1 774.9 507.4 777.6 509.3C780.2 511.2 783.1 513.1 787.0 514.5C790.8 515.9 798.3 521.7 800.6 517.7C802.9 513.6 806.2 495.0 800.6 490.4C795.0 485.9 772.0 488.3 767.1 490.4Z" fill="#5fe3bd"/>
<path d="M777.6 490.4C774.1 492.5 778.1 499.9 779.6 503.0C781.2 506.1 783.5 507.7 787.0 509.3C790.5 510.9 798.3 515.6 800.6 512.4C802.9 509.3 804.4 494.1 800.6 490.4C796.8 486.8 781.0 488.3 777.6 490.4Z" fill="#55b99b"/>
<path d="M530.4 572.1C532.5 563.2 540.2 572.5 543.0 573.2C545.8 573.9 546.3 573.3 547.2 576.3C548.1 579.3 548.2 585.7 548.2 591.0C548.2 596.2 547.7 602.8 547.2 607.7C546.7 612.6 545.8 617.1 545.1 620.3C544.4 623.4 545.4 625.5 543.0 626.6C540.6 627.6 532.5 635.6 530.4 626.6C528.3 617.5 528.3 581.0 530.4 572.1Z" fill="#c4f0ea"/>
<path d="M549.3 649.0C550.3 646.2 553.1 646.2 555.6 645.4C558.0 644.6 561.8 643.8 563.9 644.4C566.0 645.0 567.4 646.0 568.1 649.0C568.8 651.9 571.3 660.0 568.1 662.2C565.0 664.4 552.4 664.4 549.3 662.2C546.1 660.0 548.2 651.8 549.3 649.0Z" fill="#c4f0ea"/>
<path d="M614.2 551.2C614.0 548.4 615.6 546.5 617.3 544.9C619.1 543.3 621.7 542.3 624.7 541.7C627.6 541.2 632.0 541.2 635.1 541.7C638.3 542.3 641.4 543.0 643.5 544.9C645.6 546.8 646.7 549.8 647.7 553.3C648.8 556.8 649.6 562.0 649.8 565.8C650.0 569.7 649.1 572.8 648.8 576.3C648.4 579.8 648.6 584.7 647.7 586.8C646.8 588.9 644.9 589.6 643.5 588.9C642.1 588.2 641.4 584.7 639.3 582.6C637.2 580.5 633.4 578.4 631.0 576.3C628.5 574.2 626.8 572.5 624.7 570.0C622.6 567.6 620.1 564.8 618.4 561.6C616.6 558.5 614.4 554.0 614.2 551.2Z" fill="#55b99b"/>
<path d="M579.6 583.6C580.3 582.3 582.6 580.4 584.9 579.4C587.2 578.5 591.3 577.6 593.3 578.0C595.2 578.3 596.6 580.1 596.4 581.5C596.2 583.0 594.1 585.5 592.2 586.8C590.3 588.0 586.8 588.8 584.9 588.9C583.0 588.9 581.6 588.1 580.7 587.2C579.8 586.3 579.0 584.9 579.6 583.6Z" fill="#55b99b"/>
<path d="M656.1 545.9C656.3 544.0 658.2 542.8 659.2 542.8C660.3 542.8 661.9 544.4 662.4 545.9C662.8 547.5 662.7 550.8 662.0 552.2C661.3 553.6 659.2 555.4 658.2 554.3C657.2 553.3 655.9 547.9 656.1 545.9Z" fill="#55b99b"/>
<path d="M530.4 532.3C532.5 527.3 539.9 532.3 543.0 533.4C546.1 534.4 547.2 536.3 549.3 538.6C551.4 540.9 554.0 543.8 555.6 547.0C557.1 550.1 558.4 554.0 558.7 557.5C559.1 560.9 558.9 565.8 557.7 567.9C556.4 570.0 553.5 570.4 551.4 570.0C549.3 569.7 546.5 566.9 545.1 565.8C543.7 564.8 545.4 564.1 543.0 563.7C540.6 563.4 532.5 569.0 530.4 563.7C528.3 558.5 528.3 537.4 530.4 532.3Z" fill="#55b99b"/>
<path d="M610.0 620.3C610.2 616.1 611.1 614.0 613.2 611.9C615.3 609.8 619.3 608.1 622.6 607.7C625.9 607.4 629.6 608.4 633.1 609.8C636.5 611.2 640.4 614.0 643.5 616.1C646.7 618.2 649.1 620.3 651.9 622.4C654.7 624.5 657.5 626.9 660.3 628.7C663.1 630.4 665.9 631.4 668.7 632.8C671.4 634.2 674.9 634.9 677.0 637.0C679.1 639.1 680.9 643.4 681.2 645.4C681.6 647.4 679.5 646.2 679.1 649.0C678.8 651.8 690.3 660.0 679.1 662.2C668.0 664.4 623.5 664.4 612.1 662.2C600.8 660.0 611.1 653.2 611.1 649.0C611.1 644.8 612.3 641.8 612.1 637.0C611.9 632.2 609.8 624.5 610.0 620.3Z" fill="#55b99b"/>
<path d="M730.4 620.3C731.1 617.5 732.7 614.2 735.7 611.9C738.6 609.6 744.0 608.1 748.2 606.7C752.4 605.3 756.6 604.9 760.8 603.5C765.0 602.1 769.0 600.0 773.4 598.3C777.7 596.5 782.4 594.4 787.0 593.1C791.5 591.7 798.3 578.4 800.6 589.9C802.9 601.4 814.9 650.1 800.6 662.2C786.3 674.2 728.9 664.4 714.7 662.2C700.6 660.0 715.1 653.2 715.8 649.0C716.5 644.8 717.3 639.7 718.9 637.0C720.5 634.3 723.1 634.2 725.2 632.8C727.3 631.4 730.6 630.7 731.5 628.7C732.4 626.6 729.7 623.1 730.4 620.3Z" fill="#55b99b"/>
<path d="M628.4 626.6C628.8 625.2 629.5 623.8 631.0 623.4C632.4 623.1 634.8 623.9 637.2 624.5C639.7 625.0 643.2 625.7 645.6 626.6C648.1 627.4 650.2 628.5 651.9 629.7C653.6 630.9 656.1 632.7 656.1 633.9C656.1 635.1 654.0 636.3 651.9 637.0C649.8 637.7 646.0 637.6 643.5 638.1C641.1 638.6 639.2 640.3 637.2 640.2C635.3 640.0 633.4 638.4 632.0 637.0C630.6 635.6 629.5 633.5 628.9 631.8C628.3 630.1 628.1 628.0 628.4 626.6Z" fill="#fae878"/>
<path d="M748.2 615.0C748.8 613.6 751.7 611.2 754.5 609.8C757.3 608.4 761.5 608.1 765.0 606.7C768.5 605.3 771.8 603.7 775.5 601.4C779.1 599.2 782.8 595.5 787.0 593.1C791.2 590.6 798.3 581.5 800.6 586.8C802.9 592.0 802.9 618.4 800.6 624.5C798.3 630.6 791.2 622.9 787.0 623.4C782.8 623.9 779.1 626.2 775.5 627.6C771.8 629.0 767.6 631.6 765.0 631.8C762.4 632.0 761.2 630.2 759.8 628.7C758.4 627.1 758.0 624.1 756.6 622.4C755.2 620.6 752.8 619.4 751.4 618.2C750.0 617.0 747.7 616.4 748.2 615.0Z" fill="#fae878"/>
<path d="M547.6 553.3L549.7 552.2L549.3 557.9L547.6 557.5Z" fill="#fae878"/>
</g>
<clipPath id="t13"><rect x="787.0" y="503.0" width="244.0" height="146.0"/></clipPath>
<g clip-path="url(#t13)">
<path d="M774.4 490.4L1044.6 490.4L1044.6 662.2L774.4 662.2Z" fill="#5fe3bd"/>
<path d="M774.4 490.4C777.4 475.4 789.2 488.3 792.2 490.4C795.3 492.5 792.3 498.8 792.9 503.0C793.4 507.2 793.9 511.4 795.4 515.6C796.8 519.8 799.6 523.9 801.7 528.1C803.8 532.3 806.4 536.5 807.9 540.7C809.5 544.9 810.4 549.2 811.1 553.3C811.8 557.3 813.0 561.9 812.1 564.8C811.3 567.6 807.9 568.9 805.8 570.4C803.8 571.9 801.7 572.7 799.6 573.8C797.5 574.8 795.4 575.9 793.3 576.7C791.2 577.6 790.1 578.1 787.0 578.8C783.9 579.5 776.5 595.6 774.4 580.9C772.3 566.2 771.5 505.5 774.4 490.4Z" fill="#c4f0ea"/>
<path d="M815.3 586.8C816.1 585.5 819.8 584.8 822.6 585.7C825.4 586.6 829.1 589.9 832.0 592.0C835.0 594.1 838.0 595.8 840.4 598.3C842.8 600.7 844.6 603.5 846.7 606.7C848.8 609.8 850.9 613.6 853.0 617.1C855.1 620.6 857.2 624.1 859.3 627.6C861.3 631.1 864.0 634.5 865.5 638.1C867.1 641.6 868.1 645.0 868.7 649.0C869.3 653.0 870.8 660.0 869.1 662.2C867.3 664.4 860.2 664.4 858.2 662.2C856.2 660.0 858.6 653.2 857.2 649.0C855.8 644.8 852.1 640.1 849.8 637.0C847.6 634.0 845.6 633.5 843.5 630.7C841.5 628.0 839.0 623.4 837.3 620.3C835.5 617.1 834.5 614.7 833.1 611.9C831.7 609.1 830.6 606.0 828.9 603.5C827.1 601.1 824.5 599.0 822.6 597.2C820.7 595.5 818.6 594.8 817.4 593.1C816.1 591.3 814.4 588.0 815.3 586.8Z" fill="#c4f0ea"/>
<path d="M820.5 616.1C821.2 614.0 825.7 613.8 828.9 614.0C832.0 614.2 835.9 615.0 839.4 617.1C842.8 619.2 846.7 623.2 849.8 626.6C853.0 629.9 856.5 633.3 858.2 637.0C859.9 640.8 859.9 644.8 860.3 649.0C860.6 653.2 863.8 660.0 860.3 662.2C856.8 664.4 843.2 664.4 839.4 662.2C835.5 660.0 838.5 653.2 837.3 649.0C836.0 644.8 834.1 640.8 832.0 637.0C829.9 633.3 826.6 630.1 824.7 626.6C822.8 623.1 819.8 618.2 820.5 616.1Z" fill="#c4f0ea"/>
<path d="M831.6 609.0C832.3 611.9 836.1 617.9 838.3 622.4C840.5 626.8 842.4 631.7 845.0 635.8C847.6 639.9 851.4 644.6 854.0 646.9C856.6 649.1 859.3 646.6 860.7 649.2C862.1 651.7 864.2 660.0 862.4 662.2C860.6 664.3 850.8 666.2 849.8 662.2C848.8 658.1 856.7 644.2 856.3 637.9C855.9 631.6 849.9 628.5 847.3 624.5C844.7 620.4 842.8 616.7 840.6 613.4C838.4 610.1 835.4 605.3 833.9 604.6C832.4 603.8 830.9 606.0 831.6 609.0Z" fill="#5fe3bd"/>
<path d="M818.4 490.4C820.2 492.4 818.1 498.6 821.6 502.0C825.0 505.3 832.9 507.9 839.4 510.3C845.8 512.8 853.3 514.3 860.3 516.6C867.3 518.9 875.0 521.7 881.2 523.9C887.5 526.2 892.8 528.0 898.0 530.2C903.2 532.5 909.3 534.2 912.7 537.6C916.0 540.9 915.1 548.9 917.9 550.1C920.7 551.3 925.4 546.8 929.4 544.9C933.4 543.0 938.1 540.5 942.0 538.6C945.8 536.7 949.3 534.1 952.4 533.4C955.6 532.7 958.6 532.8 960.8 534.4C963.1 536.0 965.0 539.3 966.1 542.8C967.1 546.3 966.2 551.9 967.1 555.4C968.0 558.8 969.2 562.0 971.3 563.7C973.4 565.5 976.9 566.0 979.7 565.8C982.5 565.7 985.3 564.4 988.0 562.7C990.8 560.9 993.6 558.0 996.4 555.4C999.2 552.7 1002.0 549.8 1004.8 547.0C1007.6 544.2 1010.4 541.7 1013.2 538.6C1016.0 535.5 1018.6 530.9 1021.6 528.1C1024.5 525.3 1027.1 523.9 1031.0 521.8C1034.8 519.8 1042.3 508.9 1044.6 515.6C1046.9 522.2 1046.9 553.3 1044.6 561.6C1042.3 570.0 1035.5 564.1 1031.0 565.8C1026.4 567.6 1021.7 570.0 1017.4 572.1C1013.0 574.2 1009.0 576.3 1004.8 578.4C1000.6 580.5 996.4 582.9 992.2 584.7C988.0 586.4 983.9 587.8 979.7 588.9C975.5 589.9 971.3 591.1 967.1 591.0C962.9 590.8 958.0 589.2 954.5 587.8C951.0 586.4 949.0 584.8 946.2 582.6C943.4 580.3 940.6 577.0 937.8 574.2C935.0 571.4 932.2 567.9 929.4 565.8C926.6 563.7 923.8 563.0 921.0 561.6C918.2 560.2 915.8 559.4 912.7 557.5C909.5 555.5 905.7 552.2 902.2 550.1C898.7 548.0 895.6 546.6 891.7 544.9C887.9 543.1 883.3 541.6 879.1 539.6C875.0 537.7 870.8 535.3 866.6 533.4C862.4 531.4 858.2 529.9 854.0 528.1C849.8 526.4 845.6 524.8 841.5 522.9C837.3 521.0 832.7 518.7 828.9 516.6C825.0 514.5 821.2 512.6 818.4 510.3C815.6 508.1 813.4 506.3 812.1 503.0C810.9 499.7 810.0 492.5 811.1 490.4C812.1 488.3 816.7 488.5 818.4 490.4Z" fill="#c4f0ea"/>
<path d="M853.0 558.5C853.5 557.0 855.9 555.8 858.2 555.8C860.5 555.8 864.1 557.0 866.6 558.5C869.0 560.0 870.9 562.3 872.9 564.8C874.8 567.2 877.1 570.7 878.1 573.2C879.1 575.6 879.7 578.1 879.1 579.4C878.6 580.7 876.7 581.4 875.0 580.9C873.2 580.4 870.9 578.1 868.7 576.3C866.4 574.5 863.6 571.9 861.3 570.0C859.1 568.1 856.5 566.7 855.1 564.8C853.7 562.9 852.4 560.0 853.0 558.5Z" fill="#c4f0ea"/>
<path d="M943.0 633.9C943.4 632.1 947.7 630.4 950.4 628.7C953.0 626.9 956.1 624.6 958.7 623.4C961.3 622.2 964.6 620.8 966.1 621.3C967.5 621.8 967.7 624.6 967.5 626.6C967.3 628.5 966.5 631.1 965.0 632.8C963.5 634.6 960.5 635.3 958.7 637.0C957.0 638.8 955.9 642.2 954.5 643.3C953.1 644.4 951.4 644.4 950.4 643.7C949.3 643.0 949.5 640.8 948.3 639.1C947.0 637.5 942.7 635.6 943.0 633.9Z" fill="#c4f0ea"/>
<path d="M994.3 632.8C995.7 630.7 999.9 629.2 1002.7 627.6C1005.5 626.0 1008.6 623.9 1011.1 623.4C1013.5 622.9 1016.5 623.2 1017.4 624.5C1018.2 625.7 1017.7 629.0 1016.3 630.7C1014.9 632.5 1011.6 633.5 1009.0 634.9C1006.4 636.3 1003.1 638.3 1000.6 639.1C998.2 640.0 995.4 641.2 994.3 640.2C993.3 639.1 992.9 634.9 994.3 632.8Z" fill="#c4f0ea"/>
<path d="M998.5 631.8C999.0 630.8 1002.7 628.8 1003.8 628.7C1004.8 628.5 1005.3 630.2 1004.8 631.2C1004.3 632.1 1001.7 634.4 1000.6 634.5C999.6 634.6 998.0 632.8 998.5 631.8Z" fill="#ffffff"/>
<path d="M1015.3 490.4C1010.6 492.5 1015.3 500.0 1016.3 503.0C1017.4 506.0 1019.1 507.2 1021.6 508.2C1024.0 509.3 1027.1 509.1 1031.0 509.3C1034.8 509.5 1042.3 512.4 1044.6 509.3C1046.9 506.1 1049.5 493.6 1044.6 490.4C1039.7 487.3 1020.0 488.3 1015.3 490.4Z" fill="#ffffff"/>
<path d="M791.2 490.4C787.5 492.5 791.7 498.8 792.2 503.0C792.8 507.2 793.1 511.4 794.3 515.6C795.6 519.8 797.6 523.9 799.6 528.1C801.5 532.3 804.1 536.5 805.8 540.7C807.6 544.9 809.0 549.1 810.0 553.3C811.1 557.5 811.3 562.0 812.1 565.8C813.0 569.7 813.7 573.2 815.3 576.3C816.8 579.4 819.1 582.2 821.6 584.7C824.0 587.1 827.1 588.9 829.9 591.0C832.7 593.1 835.9 594.8 838.3 597.2C840.8 599.7 842.5 602.5 844.6 605.6C846.7 608.8 848.8 612.6 850.9 616.1C853.0 619.6 855.1 623.1 857.2 626.6C859.3 630.1 861.7 633.3 863.4 637.0C865.2 640.8 866.8 644.8 867.6 649.0C868.4 653.2 866.2 660.0 868.3 662.2C870.4 664.4 878.4 664.4 880.2 662.2C882.0 660.0 879.7 652.8 879.1 649.0C878.6 645.1 877.9 642.5 877.1 639.1C876.2 635.7 875.1 632.1 873.9 628.7C872.7 625.2 871.1 621.7 869.7 618.2C868.3 614.7 866.9 611.2 865.5 607.7C864.1 604.2 862.7 600.7 861.3 597.2C859.9 593.8 858.7 590.3 857.2 586.8C855.6 583.3 853.8 579.4 851.9 576.3C850.0 573.2 847.6 571.1 845.6 567.9C843.7 564.8 841.8 561.3 840.4 557.5C839.0 553.6 838.3 548.7 837.3 544.9C836.2 541.0 835.5 537.9 834.1 534.4C832.7 530.9 830.8 527.4 828.9 523.9C827.0 520.5 824.7 517.0 822.6 513.5C820.5 510.0 817.7 506.8 816.3 503.0C814.9 499.2 818.4 492.5 814.2 490.4C810.0 488.3 794.9 488.3 791.2 490.4Z" fill="#ffffff"/>
<path d="M885.4 490.4C865.0 492.5 884.7 500.4 886.5 503.0C888.2 505.6 893.5 505.1 895.9 506.1C898.3 507.2 899.7 507.7 901.1 509.3C902.5 510.9 902.7 513.8 904.3 515.6C905.8 517.3 908.6 519.8 910.6 519.8C912.5 519.8 914.6 517.1 915.8 515.6C917.0 514.0 916.7 510.7 917.9 510.3C919.1 510.0 922.6 511.2 923.1 513.5C923.6 515.7 921.7 521.2 921.0 523.9C920.3 526.7 918.6 528.1 918.9 530.2C919.3 532.3 921.0 535.8 923.1 536.5C925.2 537.2 928.7 535.6 931.5 534.4C934.3 533.2 937.1 530.7 939.9 529.2C942.7 527.6 945.5 525.9 948.3 525.0C951.0 524.1 953.8 523.4 956.6 523.9C959.4 524.5 962.6 526.4 965.0 528.1C967.5 529.9 969.5 532.0 971.3 534.4C973.0 536.9 973.7 540.3 975.5 542.8C977.2 545.2 979.3 547.7 981.8 549.1C984.2 550.5 987.7 551.5 990.1 551.2C992.6 550.8 994.3 548.9 996.4 547.0C998.5 545.1 1000.6 542.4 1002.7 539.6C1004.8 536.9 1007.1 533.2 1009.0 530.2C1010.9 527.3 1013.2 524.6 1014.2 521.8C1015.3 519.1 1015.8 515.9 1015.3 513.5C1014.7 511.0 1012.1 511.0 1011.1 507.2C1010.0 503.3 1029.9 493.2 1009.0 490.4C988.0 487.6 905.8 488.3 885.4 490.4Z" fill="#55b99b"/>
<path d="M871.8 544.9C872.3 543.1 874.8 541.6 877.1 541.7C879.3 541.9 882.6 544.0 885.4 545.9C888.2 547.9 891.0 551.0 893.8 553.3C896.6 555.5 899.4 557.5 902.2 559.5C905.0 561.6 908.1 563.7 910.6 565.8C913.0 567.9 914.7 569.7 916.8 572.1C918.9 574.6 921.4 577.3 923.1 580.5C924.9 583.6 926.3 587.5 927.3 591.0C928.4 594.4 928.7 597.9 929.4 601.4C930.1 604.9 931.0 608.8 931.5 611.9C932.0 615.0 932.9 617.8 932.5 620.3C932.2 622.7 931.0 626.2 929.4 626.6C927.8 626.9 925.2 624.1 923.1 622.4C921.0 620.6 918.9 618.5 916.8 616.1C914.7 613.6 912.7 610.5 910.6 607.7C908.5 604.9 906.4 602.1 904.3 599.3C902.2 596.5 900.1 594.1 898.0 591.0C895.9 587.8 893.8 584.0 891.7 580.5C889.6 577.0 887.5 573.5 885.4 570.0C883.3 566.5 881.1 562.5 879.1 559.5C877.2 556.6 875.1 554.7 873.9 552.2C872.7 549.8 871.3 546.6 871.8 544.9Z" fill="#55b99b"/>
<path d="M883.3 620.3C884.4 617.1 885.4 615.2 887.5 614.0C889.6 612.8 893.1 612.6 895.9 612.9C898.7 613.3 901.5 615.0 904.3 616.1C907.1 617.1 909.9 617.8 912.7 619.2C915.4 620.6 919.3 621.5 921.0 624.5C922.8 627.4 922.6 632.9 923.1 637.0C923.6 641.1 924.0 644.8 924.2 649.0C924.3 653.2 931.7 660.0 924.2 662.2C916.7 664.4 886.5 664.4 879.1 662.2C871.8 660.0 879.8 653.9 880.2 649.0C880.5 644.1 880.7 637.6 881.2 632.8C881.8 628.1 882.3 623.4 883.3 620.3Z" fill="#55b99b"/>
<path d="M774.4 587.2C776.5 586.7 783.2 587.0 787.0 585.9C790.8 584.9 794.3 582.5 797.5 580.9C800.6 579.3 803.6 576.9 805.8 576.3C808.1 575.7 809.9 576.1 811.1 577.3C812.3 578.6 811.6 581.4 813.2 583.6C814.7 585.9 817.9 588.0 820.5 591.0C823.1 593.9 826.4 597.6 828.9 601.4C831.3 605.3 833.6 610.2 835.2 614.0C836.7 617.8 837.4 620.6 838.3 624.5C839.2 628.3 840.8 634.6 840.4 637.0C840.1 639.5 838.1 639.8 836.2 639.1C834.3 638.4 832.9 641.6 828.9 632.8C824.9 624.1 817.4 594.4 812.1 586.8C806.9 579.1 801.7 586.6 797.5 586.8C793.3 586.9 790.8 587.5 787.0 587.8C783.2 588.2 776.5 589.0 774.4 588.9C772.3 588.8 772.3 587.7 774.4 587.2Z" fill="#55b99b"/>
<path d="M986.0 611.9C986.3 609.8 988.0 607.4 990.1 605.6C992.2 603.9 995.7 603.2 998.5 601.4C1001.3 599.7 1004.5 597.6 1006.9 595.1C1009.3 592.7 1011.4 589.6 1013.2 586.8C1014.9 584.0 1015.6 580.8 1017.4 578.4C1019.1 575.9 1021.4 574.2 1023.6 572.1C1025.9 570.0 1027.5 567.6 1031.0 565.8C1034.5 564.1 1042.3 551.2 1044.6 561.6C1046.9 572.1 1046.9 618.9 1044.6 628.7C1042.3 638.4 1035.5 621.7 1031.0 620.3C1026.4 618.9 1021.4 619.9 1017.4 620.3C1013.4 620.6 1010.4 622.0 1006.9 622.4C1003.4 622.7 999.6 623.1 996.4 622.4C993.3 621.7 989.8 619.9 988.0 618.2C986.3 616.4 985.6 614.0 986.0 611.9Z" fill="#55b99b"/>
<path d="M969.2 649.0C969.9 645.5 971.6 643.2 973.4 641.2C975.1 639.2 977.2 638.4 979.7 637.0C982.1 635.6 985.8 632.8 988.0 632.8C990.3 632.8 992.2 635.3 993.3 637.0C994.3 638.8 995.2 641.6 994.3 643.3C993.5 645.1 990.1 646.6 988.0 647.5C986.0 648.4 982.8 646.5 981.8 649.0C980.7 651.4 983.9 660.0 981.8 662.2C979.7 664.4 971.3 664.4 969.2 662.2C967.1 660.0 968.5 652.5 969.2 649.0Z" fill="#55b99b"/>
<path d="M933.6 490.4C925.7 492.5 933.9 500.2 935.7 503.0C937.4 505.8 940.9 505.8 944.1 507.2C947.2 508.6 951.0 509.6 954.5 511.4C958.0 513.1 961.5 515.6 965.0 517.7C968.5 519.8 972.3 521.8 975.5 523.9C978.6 526.0 981.2 528.8 983.9 530.2C986.5 531.6 989.1 532.7 991.2 532.3C993.3 532.0 995.2 529.9 996.4 528.1C997.6 526.4 998.9 523.9 998.5 521.8C998.2 519.8 996.1 517.7 994.3 515.6C992.6 513.5 989.8 511.4 988.0 509.3C986.3 507.2 984.7 506.1 983.9 503.0C983.0 499.9 991.2 492.5 982.8 490.4C974.4 488.3 941.5 488.3 933.6 490.4Z" fill="#fae878"/>
<path d="M893.8 570.0C893.6 567.9 894.7 565.8 895.9 564.8C897.1 563.8 899.2 563.3 901.1 564.2C903.1 565.0 905.5 567.6 907.4 570.0C909.3 572.4 911.4 575.3 912.7 578.4C913.9 581.5 914.2 585.7 914.7 588.9C915.3 592.0 915.4 594.8 915.8 597.2C916.2 599.7 917.4 602.0 917.3 603.5C917.1 605.1 915.9 606.3 914.7 606.7C913.6 607.0 911.6 606.8 910.6 605.6C909.5 604.4 909.3 601.8 908.5 599.3C907.6 596.9 906.5 593.4 905.3 591.0C904.1 588.5 902.5 586.9 901.1 584.7C899.7 582.4 898.2 579.8 896.9 577.3C895.7 574.9 894.0 572.1 893.8 570.0Z" fill="#fae878"/>
<path d="M774.4 593.5C776.5 586.6 783.2 592.7 787.0 591.6C790.8 590.5 794.0 588.1 797.5 586.8C801.0 585.4 805.5 583.6 807.9 583.6C810.4 583.6 810.7 584.8 812.1 586.8C813.5 588.7 814.6 592.4 816.3 595.1C818.1 597.9 820.5 600.7 822.6 603.5C824.7 606.3 827.0 609.1 828.9 611.9C830.8 614.7 832.7 617.5 834.1 620.3C835.5 623.1 836.6 625.9 837.3 628.7C838.0 631.4 838.8 635.3 838.3 637.0C837.8 638.8 835.7 639.8 834.1 639.1C832.5 638.4 830.8 634.9 828.9 632.8C827.0 630.7 825.0 628.0 822.6 626.6C820.2 625.2 816.5 624.1 814.2 624.5C812.0 624.8 810.4 626.9 809.0 628.7C807.6 630.4 807.4 633.5 805.8 634.9C804.3 636.3 801.7 636.9 799.6 637.0C797.5 637.2 795.4 636.5 793.3 636.0C791.2 635.5 790.1 634.4 787.0 633.9C783.9 633.4 776.5 639.6 774.4 632.8C772.3 626.1 772.3 600.3 774.4 593.5Z" fill="#fae878"/>
<path d="M867.6 601.4C867.7 599.9 868.7 597.7 869.7 597.7C870.8 597.7 872.5 599.8 873.9 601.4C875.3 603.1 877.1 605.6 878.1 607.7C879.1 609.8 880.4 612.6 880.2 614.0C880.0 615.4 878.3 616.4 877.1 616.1C875.8 615.7 874.2 613.5 872.9 611.9C871.5 610.3 870.0 608.4 869.1 606.7C868.2 604.9 867.5 602.9 867.6 601.4Z" fill="#fae878"/>
<path d="M883.3 649.0C883.3 644.8 882.7 640.8 882.9 637.0C883.1 633.3 883.8 629.5 884.4 626.6C885.0 623.6 885.6 619.8 886.5 619.2C887.3 618.7 888.7 621.5 889.6 623.4C890.5 625.3 891.0 628.1 891.7 630.7C892.4 633.4 893.6 636.1 893.8 639.1C894.0 642.2 892.9 645.1 892.8 649.0C892.6 652.8 894.3 660.0 892.8 662.2C891.2 664.4 884.9 664.4 883.3 662.2C881.8 660.0 883.4 653.2 883.3 649.0Z" fill="#fae878"/>
<path d="M1006.9 611.9C1006.2 609.8 1007.9 604.9 1009.0 601.4C1010.0 597.9 1011.4 594.4 1013.2 591.0C1014.9 587.5 1017.4 583.6 1019.5 580.5C1021.6 577.3 1023.8 574.6 1025.7 572.1C1027.7 569.7 1027.8 567.9 1031.0 565.8C1034.1 563.7 1042.3 551.2 1044.6 559.5C1046.9 567.9 1046.9 607.0 1044.6 616.1C1042.3 625.2 1034.8 614.2 1031.0 614.0C1027.1 613.8 1024.5 615.0 1021.6 615.0C1018.6 615.0 1015.6 614.5 1013.2 614.0C1010.7 613.5 1007.6 614.0 1006.9 611.9Z" fill="#fae878"/>
<path d="M984.9 638.1C985.3 637.5 987.3 636.8 988.0 637.0C988.7 637.3 989.4 639.0 989.1 639.5C988.7 640.1 986.7 640.8 986.0 640.6C985.3 640.3 984.6 638.7 984.9 638.1Z" fill="#fae878"/>
<path d="M812.1 595.1C812.5 594.0 814.1 593.1 815.3 593.5C816.5 593.8 818.1 595.6 819.5 597.2C820.9 598.9 822.3 601.1 823.6 603.5C825.0 606.0 826.6 609.5 827.8 611.9C829.1 614.3 830.6 616.8 831.0 618.2C831.3 619.6 830.6 620.6 829.9 620.3C829.2 619.9 828.0 617.8 826.8 616.1C825.6 614.3 824.2 611.6 822.6 609.8C821.0 608.1 818.9 607.2 817.4 605.6C815.8 604.0 814.1 602.1 813.2 600.4C812.3 598.6 811.8 596.3 812.1 595.1Z" fill="#ea8a6a"/>
<path d="M832.0 627.6C832.3 626.8 833.7 626.0 834.1 626.6C834.6 627.1 835.0 630.0 834.7 630.7C834.5 631.5 833.1 631.7 832.7 631.2C832.2 630.6 831.8 628.4 832.0 627.6Z" fill="#ea8a6a"/>
</g>
<clipPath id="t14"><rect x="1031.0" y="503.0" width="119.0" height="146.0"/></clipPath>
<g clip-path="url(#t14)">
<path d="M893.4 490.4L1163.6 490.4L1163.6 662.2L893.4 662.2Z" fill="#5fe3bd"/>
<path d="M1014.9 511.4C1016.1 507.2 1020.5 508.2 1023.3 507.2C1026.1 506.1 1029.4 505.8 1031.7 505.1C1033.9 504.4 1035.9 501.3 1036.9 503.0C1037.9 504.7 1038.0 511.7 1037.5 515.6C1037.0 519.4 1034.9 522.5 1033.7 526.0C1032.6 529.5 1032.4 534.9 1030.6 536.5C1028.9 538.1 1025.7 536.2 1023.3 535.5C1020.8 534.8 1017.3 536.3 1015.9 532.3C1014.6 528.3 1013.7 515.6 1014.9 511.4Z" fill="#c4f0ea"/>
<path d="M1037.9 517.7C1038.3 515.6 1042.1 513.5 1044.2 511.4C1046.3 509.3 1049.1 508.6 1050.5 505.1C1051.9 501.6 1033.7 492.9 1052.6 490.4C1071.4 488.0 1145.1 486.6 1163.6 490.4C1182.1 494.3 1165.9 509.6 1163.6 513.5C1161.3 517.3 1153.8 513.1 1150.0 513.5C1146.1 513.8 1142.8 514.5 1140.6 515.6C1138.3 516.6 1137.2 517.7 1136.4 519.8C1135.5 521.8 1136.0 525.7 1135.3 528.1C1134.6 530.6 1134.1 533.2 1132.2 534.4C1130.3 535.6 1126.6 536.2 1123.8 535.5C1121.0 534.8 1117.7 532.1 1115.4 530.2C1113.2 528.3 1111.9 524.3 1110.2 523.9C1108.4 523.6 1106.9 526.4 1105.0 528.1C1103.0 529.9 1101.1 532.8 1098.7 534.4C1096.2 536.0 1092.4 536.9 1090.3 537.6C1088.2 538.3 1087.5 539.5 1086.1 538.6C1084.7 537.7 1084.0 534.4 1081.9 532.3C1079.8 530.2 1076.3 527.4 1073.5 526.0C1070.7 524.6 1068.0 523.8 1065.2 523.9C1062.4 524.1 1059.6 526.7 1056.8 527.1C1054.0 527.4 1050.9 526.6 1048.4 526.0C1046.0 525.5 1043.9 525.3 1042.1 523.9C1040.4 522.5 1037.6 519.8 1037.9 517.7Z" fill="#c4f0ea"/>
<path d="M1080.2 527.1C1080.8 525.6 1084.1 525.7 1086.1 525.6C1088.1 525.5 1091.5 525.3 1092.4 526.5C1093.3 527.6 1092.2 530.7 1091.3 532.3C1090.5 533.9 1088.5 535.7 1087.2 536.1C1085.8 536.4 1084.1 535.9 1083.0 534.4C1081.8 532.9 1079.7 528.5 1080.2 527.1Z" fill="#ffffff"/>
<path d="M1163.6 582.6C1161.3 570.0 1153.4 583.6 1149.6 586.8C1145.7 589.9 1143.1 596.2 1140.6 601.4C1138.0 606.7 1136.4 612.6 1134.3 618.2C1132.2 623.8 1129.9 629.8 1128.0 634.9C1126.1 640.1 1123.8 644.4 1122.8 649.0C1121.7 653.5 1114.9 660.0 1121.7 662.2C1128.5 664.4 1156.6 675.4 1163.6 662.2C1170.6 648.9 1165.9 595.1 1163.6 582.6Z" fill="#c4f0ea"/>
<path d="M1163.6 591.0C1161.3 579.8 1152.7 592.4 1149.6 595.1C1146.4 597.9 1146.4 603.2 1144.7 607.7C1143.1 612.2 1141.3 617.5 1139.5 622.4C1137.8 627.3 1135.9 632.6 1134.3 637.0C1132.6 641.5 1130.6 644.8 1129.7 649.0C1128.7 653.2 1122.8 660.0 1128.4 662.2C1134.1 664.4 1157.7 674.0 1163.6 662.2C1169.5 650.3 1165.9 602.1 1163.6 591.0Z" fill="#ffffff"/>
<path d="M1033.7 630.7C1034.1 628.1 1037.2 623.4 1040.0 620.3C1042.8 617.1 1047.4 615.0 1050.5 611.9C1053.6 608.8 1056.4 604.6 1058.9 601.4C1061.3 598.3 1063.1 596.2 1065.2 593.1C1067.3 589.9 1069.5 586.1 1071.4 582.6C1073.4 579.1 1074.9 575.6 1076.7 572.1C1078.4 568.6 1080.2 564.8 1081.9 561.6C1083.7 558.5 1085.1 555.0 1087.2 553.3C1089.2 551.5 1091.9 552.0 1094.5 551.2C1097.1 550.3 1099.7 548.4 1102.9 548.0C1106.0 547.7 1109.8 548.5 1113.3 549.1C1116.8 549.6 1120.3 550.1 1123.8 551.2C1127.3 552.2 1132.0 553.3 1134.3 555.4C1136.5 557.5 1137.4 560.9 1137.4 563.7C1137.4 566.5 1136.2 569.7 1134.3 572.1C1132.4 574.6 1128.7 576.3 1125.9 578.4C1123.1 580.5 1120.0 582.6 1117.5 584.7C1115.1 586.8 1111.6 588.9 1111.2 591.0C1110.9 593.1 1113.0 596.9 1115.4 597.2C1117.9 597.6 1122.8 594.1 1125.9 593.1C1129.0 592.0 1131.8 590.6 1134.3 591.0C1136.7 591.3 1139.9 593.1 1140.6 595.1C1141.3 597.2 1139.9 600.7 1138.5 603.5C1137.1 606.3 1135.0 609.1 1132.2 611.9C1129.4 614.7 1125.2 618.2 1121.7 620.3C1118.2 622.4 1114.7 624.1 1111.2 624.5C1107.7 624.8 1103.6 623.4 1100.8 622.4C1098.0 621.3 1096.9 618.2 1094.5 618.2C1092.0 618.2 1088.9 621.0 1086.1 622.4C1083.3 623.8 1080.9 625.2 1077.7 626.6C1074.6 628.0 1070.7 629.5 1067.3 630.7C1063.8 632.0 1060.3 633.0 1056.8 633.9C1053.3 634.8 1049.5 635.6 1046.3 636.0C1043.2 636.3 1040.0 636.9 1037.9 636.0C1035.8 635.1 1033.4 633.4 1033.7 630.7Z" fill="#55b99b"/>
<path d="M1006.5 611.9C1005.5 609.3 1007.2 605.6 1008.6 601.4C1010.0 597.2 1012.5 591.7 1014.9 586.8C1017.3 581.9 1020.5 576.6 1023.3 572.1C1026.1 567.6 1028.9 563.4 1031.7 559.5C1034.4 555.7 1036.9 551.9 1040.0 549.1C1043.2 546.3 1046.7 544.2 1050.5 542.8C1054.3 541.4 1058.9 540.9 1063.1 540.7C1067.3 540.5 1072.1 541.0 1075.6 541.7C1079.1 542.4 1083.0 541.6 1084.0 544.9C1085.1 548.2 1083.7 556.1 1081.9 561.6C1080.2 567.2 1076.3 573.2 1073.5 578.4C1070.7 583.6 1068.7 588.2 1065.2 593.1C1061.7 597.9 1056.8 604.2 1052.6 607.7C1048.4 611.2 1044.2 612.4 1040.0 614.0C1035.8 615.6 1031.7 616.6 1027.5 617.1C1023.3 617.7 1018.4 618.0 1014.9 617.1C1011.4 616.3 1007.6 614.5 1006.5 611.9Z" fill="#55b99b"/>
<path d="M1006.9 608.8C1006.8 606.5 1008.2 603.0 1009.7 599.3C1011.2 595.7 1013.7 591.0 1015.9 586.8C1018.2 582.6 1020.7 578.2 1023.3 574.2C1025.9 570.2 1028.9 566.0 1031.7 562.7C1034.4 559.4 1036.5 556.4 1040.0 554.3C1043.5 552.2 1048.4 551.0 1052.6 550.1C1056.8 549.2 1061.3 549.6 1065.2 549.1C1069.0 548.5 1072.8 547.5 1075.6 547.0C1078.4 546.5 1080.7 545.2 1081.9 545.9C1083.1 546.6 1083.3 548.9 1083.0 551.2C1082.6 553.4 1081.4 557.1 1079.8 559.5C1078.3 562.0 1075.6 564.1 1073.5 565.8C1071.4 567.6 1069.0 567.9 1067.3 570.0C1065.5 572.1 1063.9 575.6 1063.1 578.4C1062.2 581.2 1062.4 584.7 1062.0 586.8C1061.7 588.9 1062.2 589.6 1061.0 591.0C1059.8 592.4 1056.8 593.4 1054.7 595.1C1052.6 596.9 1050.5 599.7 1048.4 601.4C1046.3 603.2 1044.6 604.6 1042.1 605.6C1039.7 606.7 1036.2 606.7 1033.7 607.7C1031.3 608.8 1029.9 610.9 1027.5 611.9C1025.0 612.9 1021.9 613.8 1019.1 614.0C1016.3 614.2 1012.7 613.8 1010.7 612.9C1008.7 612.1 1007.1 611.0 1006.9 608.8Z" fill="#fae878"/>
<path d="M1042.1 595.1C1042.7 593.6 1044.0 591.8 1045.3 589.9C1046.5 588.0 1048.2 585.7 1049.5 583.6C1050.7 581.5 1051.5 578.7 1052.6 577.3C1053.6 575.9 1054.5 575.1 1055.7 575.3C1057.0 575.4 1059.1 576.5 1059.9 578.4C1060.8 580.3 1060.9 584.8 1061.0 586.8C1061.1 588.7 1061.6 589.0 1060.6 589.9C1059.5 590.8 1056.7 591.0 1054.7 592.0C1052.7 593.1 1050.2 594.7 1048.4 596.2C1046.7 597.7 1045.3 600.5 1044.2 601.0C1043.1 601.5 1042.1 600.3 1041.7 599.3C1041.4 598.4 1041.5 596.7 1042.1 595.1Z" fill="#ea8a6a"/>
</g>
<clipPath id="t15"><rect x="55.0" y="649.0" width="244.0" height="146.0"/></clipPath>
<g clip-path="url(#t15)">
<path d="M130.4 636.4C100.2 638.5 130.7 645.9 131.4 649.0C132.1 652.1 134.4 653.4 134.6 655.3C134.8 657.2 134.1 659.1 132.5 660.5C130.9 661.9 126.6 662.1 125.2 663.7C123.7 665.2 123.3 668.0 123.7 669.9C124.0 671.9 124.7 674.0 127.3 675.2C129.8 676.4 135.1 677.1 138.8 677.3C142.4 677.4 146.4 677.1 149.2 676.2C152.0 675.4 154.0 673.8 155.5 672.0C157.1 670.3 158.1 668.0 158.7 665.8C159.2 663.5 158.5 660.3 158.7 658.4C158.8 656.5 158.1 654.8 159.7 654.2C161.3 653.7 165.6 654.4 168.1 655.3C170.5 656.2 171.9 658.2 174.4 659.5C176.8 660.7 179.6 661.8 182.7 662.6C185.9 663.4 189.7 663.9 193.2 664.1C196.7 664.3 200.7 664.1 203.7 663.7C206.7 663.2 207.9 662.3 211.0 661.6C214.2 660.9 218.9 660.0 222.5 659.5C226.2 658.9 229.9 658.6 233.0 658.4C236.2 658.2 240.2 657.4 241.4 658.4C242.6 659.5 241.0 662.8 240.3 664.7C239.6 666.6 238.4 668.0 237.2 669.9C236.0 671.9 234.4 674.5 233.0 676.2C231.6 678.0 229.5 679.2 228.8 680.4C228.1 681.6 227.4 683.0 228.8 683.6C230.2 684.1 233.7 683.6 237.2 683.6C240.7 683.6 245.2 683.4 249.8 683.6C254.3 683.7 259.9 683.7 264.4 684.6C269.0 685.5 273.5 687.2 277.0 688.8C280.5 690.4 282.9 692.5 285.4 694.0C287.8 695.6 289.4 698.6 291.6 698.2C293.9 697.9 295.5 693.5 299.0 691.9C302.5 690.4 310.3 698.0 312.6 688.8C314.9 679.5 343.0 645.2 312.6 636.4C282.2 627.7 160.6 634.3 130.4 636.4Z" fill="#c4f0ea"/>
<path d="M150.3 636.4C129.3 638.5 149.8 646.5 151.3 649.0C152.9 651.5 156.2 650.9 159.7 651.5C163.2 652.1 167.0 652.4 172.3 652.8C177.5 653.1 184.8 653.4 191.1 653.6C197.4 653.8 204.7 654.1 210.0 654.0C215.2 654.0 218.7 653.5 222.5 653.2C226.4 652.8 229.5 652.3 233.0 651.9C236.5 651.6 239.6 651.1 243.5 651.1C247.3 651.1 252.2 651.9 256.0 651.9C259.9 651.9 263.0 651.6 266.5 651.1C270.0 650.6 275.2 651.4 277.0 649.0C278.8 646.6 298.5 638.5 277.4 636.4C256.3 634.3 171.3 634.3 150.3 636.4Z" fill="#5fe3bd"/>
<path d="M277.0 636.4C271.2 638.5 277.0 645.9 278.0 649.0C279.1 652.1 281.7 653.2 283.3 655.3C284.8 657.4 285.7 660.0 287.5 661.6C289.2 663.1 291.8 664.0 293.7 664.7C295.7 665.4 295.8 665.4 299.0 665.8C302.1 666.1 310.3 671.7 312.6 666.8C314.9 661.9 318.5 641.5 312.6 636.4C306.7 631.4 282.7 634.3 277.0 636.4Z" fill="#5fe3bd"/>
<path d="M293.7 694.0C294.4 693.0 295.8 692.5 299.0 691.9C302.1 691.4 310.3 689.3 312.6 690.9C314.9 692.5 314.9 699.8 312.6 701.4C310.3 702.9 301.9 700.8 299.0 700.3C296.0 699.8 295.7 699.3 294.8 698.2C293.9 697.2 293.0 695.1 293.7 694.0Z" fill="#5fe3bd"/>
</g>
<clipPath id="t16"><rect x="299.0" y="649.0" width="244.0" height="146.0"/></clipPath>
<g clip-path="url(#t16)">
<path d="M286.4 700.3C288.5 711.0 295.2 700.7 299.0 700.3C302.8 700.0 306.0 698.9 309.5 698.2C313.0 697.5 317.2 697.2 319.9 696.1C322.7 695.1 324.5 693.9 326.2 691.9C328.0 690.0 328.7 687.2 330.4 684.6C332.2 682.0 334.3 678.5 336.7 676.2C339.1 674.0 342.3 672.2 345.1 671.0C347.9 669.8 350.7 669.1 353.5 668.9C356.2 668.7 359.0 669.4 361.8 669.9C364.6 670.5 367.1 671.3 370.2 672.0C373.3 672.7 377.2 673.4 380.7 674.1C384.2 674.8 387.7 675.9 391.1 676.2C394.6 676.6 398.8 676.7 401.6 676.2C404.4 675.7 406.0 674.3 407.9 673.1C409.8 671.9 411.0 669.9 413.1 668.9C415.2 667.8 418.5 667.5 420.5 666.8C422.4 666.1 423.3 665.8 424.7 664.7C426.1 663.7 426.7 661.4 428.8 660.5C430.9 659.6 434.8 658.9 437.2 659.5C439.7 660.0 441.1 662.3 443.5 663.7C445.9 665.1 449.1 666.3 451.9 667.8C454.7 669.4 457.5 671.3 460.3 673.1C463.0 674.8 465.8 676.7 468.6 678.3C471.4 679.9 474.2 681.6 477.0 682.5C479.8 683.4 482.9 683.0 485.4 683.6C487.8 684.1 489.2 684.6 491.7 685.6C494.1 686.7 496.9 689.0 500.0 689.8C503.2 690.7 507.4 690.9 510.5 690.9C513.7 690.9 516.5 690.5 518.9 689.8C521.3 689.1 523.4 688.3 525.2 686.7C526.9 685.1 528.1 682.3 529.4 680.4C530.6 678.5 531.1 676.4 532.5 675.2C533.9 674.0 536.0 673.3 537.7 673.1C539.5 672.9 539.8 673.8 543.0 674.1C546.1 674.5 554.3 681.5 556.6 675.2C558.9 668.9 601.6 642.9 556.6 636.4C511.6 630.0 331.5 625.8 286.4 636.4C241.4 647.1 284.3 689.7 286.4 700.3Z" fill="#c4f0ea"/>
<path d="M286.4 636.4C291.1 631.4 310.2 634.3 314.7 636.4C319.2 638.5 314.5 645.9 313.7 649.0C312.8 652.1 310.9 653.2 309.5 655.3C308.1 657.4 307.0 659.8 305.3 661.6C303.5 663.3 302.1 664.9 299.0 665.8C295.9 666.6 288.5 671.7 286.4 666.8C284.3 661.9 281.7 641.5 286.4 636.4Z" fill="#5fe3bd"/>
<path d="M380.7 636.4C374.0 638.5 381.4 645.9 381.7 649.0C382.1 652.1 381.9 653.2 382.8 655.3C383.6 657.4 385.2 659.6 387.0 661.6C388.7 663.5 391.1 665.4 393.2 666.8C395.3 668.2 397.4 669.8 399.5 669.9C401.6 670.1 403.7 669.1 405.8 667.8C407.9 666.6 410.2 664.5 412.1 662.6C414.0 660.7 415.9 658.6 417.3 656.3C418.7 654.1 419.8 652.3 420.5 649.0C421.2 645.7 428.1 638.5 421.5 636.4C414.9 634.3 387.3 634.3 380.7 636.4Z" fill="#5fe3bd"/>
<path d="M396.4 636.4C395.4 638.5 396.6 645.9 397.0 649.0C397.5 652.1 398.3 654.1 399.1 655.3C399.9 656.5 401.0 657.4 401.6 656.3C402.2 655.3 402.5 652.3 402.7 649.0C402.8 645.7 403.7 638.5 402.7 636.4C401.6 634.3 397.3 634.3 396.4 636.4Z" fill="#55b99b"/>
<path d="M476.0 674.1C474.9 673.1 475.8 670.6 477.0 668.9C478.2 667.2 481.2 665.6 483.3 663.7C485.4 661.7 487.8 659.5 489.6 657.4C491.3 655.3 492.9 654.6 493.8 651.1C494.6 647.6 489.2 638.9 494.8 636.4C500.4 634.0 522.0 634.3 527.3 636.4C532.5 638.5 526.7 645.5 526.2 649.0C525.7 652.5 524.3 654.6 524.1 657.4C524.0 660.2 524.7 663.0 525.2 665.8C525.7 668.5 527.3 671.7 527.3 674.1C527.3 676.6 526.6 679.0 525.2 680.4C523.8 681.8 521.3 682.3 518.9 682.5C516.5 682.7 512.8 682.2 510.5 681.5C508.2 680.8 507.0 679.4 505.3 678.3C503.5 677.3 502.3 675.9 500.0 675.2C497.8 674.4 494.5 673.7 491.7 673.7C488.9 673.7 485.9 675.1 483.3 675.2C480.7 675.2 477.0 675.2 476.0 674.1Z" fill="#5fe3bd"/>
<path d="M503.2 661.6C503.2 660.2 505.1 657.2 506.3 656.3C507.6 655.5 509.5 655.6 510.5 656.3C511.6 657.0 511.7 659.3 512.6 660.5C513.5 661.7 514.9 662.3 515.8 663.7C516.6 665.1 518.0 667.7 517.8 668.9C517.7 670.1 515.9 671.2 514.7 671.0C513.5 670.8 511.9 668.9 510.5 667.8C509.1 666.8 507.6 665.8 506.3 664.7C505.1 663.7 503.2 663.0 503.2 661.6Z" fill="#55b99b"/>
<path d="M531.5 636.4C527.1 638.5 530.4 645.5 530.4 649.0C530.4 652.5 530.6 654.9 531.5 657.4C532.3 659.8 533.7 662.3 535.6 663.7C537.6 665.1 539.5 665.4 543.0 665.8C546.5 666.1 554.3 670.6 556.6 665.8C558.9 660.9 560.8 641.3 556.6 636.4C552.4 631.5 535.8 634.3 531.5 636.4Z" fill="#5fe3bd"/>
</g>
<clipPath id="t17"><rect x="543.0" y="649.0" width="244.0" height="146.0"/></clipPath>
<g clip-path="url(#t17)">
<path d="M530.4 689.8C532.5 698.6 538.8 689.7 543.0 689.2C547.2 688.7 551.0 686.9 555.6 686.7C560.1 686.5 565.3 687.2 570.2 687.7C575.1 688.3 580.0 689.3 584.9 689.8C589.8 690.4 594.7 691.1 599.5 690.9C604.4 690.7 609.7 689.0 614.2 688.8C618.7 688.6 623.3 689.3 626.8 689.8C630.3 690.4 632.4 690.9 635.1 691.9C637.9 693.0 640.7 694.2 643.5 696.1C646.3 698.0 649.1 701.2 651.9 703.5C654.7 705.7 657.5 708.3 660.3 709.7C663.1 711.1 665.9 712.2 668.7 711.8C671.4 711.5 673.9 708.9 677.0 707.6C680.2 706.4 684.4 706.2 687.5 704.5C690.6 702.8 693.1 699.4 695.9 697.2C698.7 694.9 701.8 691.1 704.3 690.9C706.7 690.7 708.1 694.4 710.5 696.1C713.0 697.9 715.4 700.3 718.9 701.4C722.4 702.4 727.6 702.9 731.5 702.4C735.3 701.9 738.8 699.8 742.0 698.2C745.1 696.6 747.2 694.4 750.3 693.0C753.5 691.6 757.7 690.9 760.8 689.8C763.9 688.8 767.1 688.3 769.2 686.7C771.3 685.1 772.8 682.5 773.4 680.4C773.9 678.3 771.3 675.7 772.3 674.1C773.4 672.6 777.2 671.9 779.6 671.0C782.1 670.1 783.5 669.4 787.0 668.9C790.5 668.4 798.3 673.3 800.6 667.8C802.9 662.4 845.6 641.7 800.6 636.4C755.6 631.2 575.5 627.5 530.4 636.4C485.4 645.3 528.3 681.0 530.4 689.8Z" fill="#c4f0ea"/>
<path d="M573.4 672.0C572.7 670.5 573.5 667.5 574.4 665.8C575.3 664.0 578.3 663.3 578.6 661.6C579.0 659.8 577.0 657.4 576.5 655.3C576.0 653.2 575.8 652.1 575.5 649.0C575.1 645.9 536.9 638.5 574.4 636.4C611.9 634.3 762.9 632.8 800.6 636.4C838.3 640.1 802.9 654.6 800.6 658.4C798.3 662.3 790.5 659.8 787.0 659.5C783.5 659.1 782.3 657.0 779.6 656.3C777.0 655.6 774.1 655.1 771.3 655.3C768.5 655.5 765.0 656.0 762.9 657.4C760.8 658.8 760.1 661.2 758.7 663.7C757.3 666.1 756.3 669.6 754.5 672.0C752.8 674.5 751.4 676.9 748.2 678.3C745.1 679.7 739.5 679.5 735.7 680.4C731.8 681.3 728.5 682.3 725.2 683.6C721.9 684.8 718.2 687.7 715.8 687.7C713.3 687.7 712.5 685.5 710.5 683.6C708.6 681.6 706.7 678.5 704.3 676.2C701.8 674.0 698.7 671.5 695.9 669.9C693.1 668.4 690.6 666.6 687.5 666.8C684.4 667.0 680.5 669.4 677.0 671.0C673.5 672.6 669.7 674.5 666.6 676.2C663.4 678.0 660.6 681.1 658.2 681.5C655.7 681.8 654.3 679.4 651.9 678.3C649.5 677.3 647.0 676.1 643.5 675.2C640.0 674.3 634.8 674.0 631.0 673.1C627.1 672.2 624.0 670.3 620.5 669.9C617.0 669.6 613.5 670.1 610.0 671.0C606.5 671.9 603.4 674.3 599.5 675.2C595.7 676.1 590.5 676.2 587.0 676.2C583.5 676.2 580.9 675.9 578.6 675.2C576.3 674.5 574.1 673.6 573.4 672.0Z" fill="#5fe3bd"/>
<path d="M547.2 667.8C547.4 666.2 551.4 665.4 553.5 663.7C555.6 661.9 558.0 659.3 559.8 657.4C561.5 655.5 562.2 653.4 563.9 652.1C565.7 650.9 568.5 650.0 570.2 650.0C572.0 650.0 574.4 650.9 574.4 652.1C574.4 653.4 571.6 655.8 570.2 657.4C568.8 658.9 567.4 660.0 566.0 661.6C564.6 663.1 563.6 665.1 561.8 666.8C560.1 668.5 557.1 670.9 555.6 672.0C554.0 673.2 553.8 674.4 552.4 673.7C551.0 673.0 547.0 669.5 547.2 667.8Z" fill="#5fe3bd"/>
<path d="M610.0 636.4C597.9 638.5 609.7 646.2 610.4 649.0C611.1 651.8 612.2 652.2 614.2 653.2C616.2 654.2 618.9 654.7 622.6 654.9C626.2 655.0 632.4 654.2 636.2 654.2C640.0 654.3 642.7 654.4 645.6 655.3C648.6 656.2 651.6 657.9 654.0 659.5C656.4 661.0 658.5 663.7 660.3 664.7C662.0 665.8 663.1 666.3 664.5 665.8C665.9 665.2 666.6 662.8 668.7 661.6C670.7 660.3 674.8 659.8 677.0 658.4C679.3 657.0 681.2 654.8 682.3 653.2C683.3 651.6 683.1 651.8 683.3 649.0C683.5 646.2 695.5 638.5 683.3 636.4C671.1 634.3 622.2 634.3 610.0 636.4Z" fill="#55b99b"/>
<path d="M706.4 636.4C698.7 638.5 706.6 645.5 706.8 649.0C706.9 652.5 706.8 654.8 707.4 657.4C708.0 660.0 709.0 662.8 710.5 664.7C712.1 666.6 714.4 667.5 716.8 668.9C719.3 670.3 722.1 672.0 725.2 673.1C728.3 674.1 732.5 675.2 735.7 675.2C738.8 675.2 741.8 674.3 744.0 673.1C746.3 671.9 748.1 670.1 749.3 667.8C750.5 665.6 750.9 662.6 751.4 659.5C751.9 656.3 752.2 652.8 752.4 649.0C752.6 645.2 760.1 638.5 752.4 636.4C744.7 634.3 714.0 634.3 706.4 636.4Z" fill="#55b99b"/>
<path d="M610.0 636.4C608.4 638.5 610.2 646.6 611.1 649.0C611.9 651.4 613.9 651.1 615.3 651.1C616.6 651.1 618.6 651.4 619.4 649.0C620.3 646.6 622.1 638.5 620.5 636.4C618.9 634.3 611.6 634.3 610.0 636.4Z" fill="#55b99b"/>
</g>
<clipPath id="t18"><rect x="787.0" y="649.0" width="244.0" height="146.0"/></clipPath>
<g clip-path="url(#t18)">
<path d="M774.4 636.4C782.1 631.5 813.2 634.3 820.5 636.4C827.8 638.5 819.5 646.2 818.4 649.0C817.4 651.8 816.0 652.8 814.2 653.2C812.5 653.5 809.7 650.7 807.9 651.1C806.2 651.4 805.5 653.7 803.8 655.3C802.0 656.9 800.3 658.9 797.5 660.5C794.7 662.1 790.8 663.8 787.0 664.7C783.2 665.6 776.5 670.5 774.4 665.8C772.3 661.0 766.8 641.3 774.4 636.4Z" fill="#c4f0ea"/>
<path d="M774.4 636.4C779.1 632.4 798.2 634.3 802.7 636.4C807.2 638.5 802.9 645.9 801.7 649.0C800.4 652.1 797.8 653.5 795.4 655.3C792.9 657.0 790.5 658.6 787.0 659.5C783.5 660.3 776.5 664.4 774.4 660.5C772.3 656.7 769.7 640.4 774.4 636.4Z" fill="#5fe3bd"/>
<path d="M818.4 636.4C780.7 638.5 817.7 644.8 818.4 649.0C819.1 653.2 822.1 656.7 822.6 661.6C823.1 666.5 822.3 673.4 821.6 678.3C820.9 683.2 819.1 686.7 818.4 690.9C817.7 695.1 816.7 700.0 817.4 703.5C818.1 706.9 820.2 709.7 822.6 711.8C825.0 713.9 829.9 714.3 832.0 716.0C834.1 717.8 835.7 719.9 835.2 722.3C834.6 724.7 830.8 728.1 828.9 730.7C827.0 733.3 823.6 736.3 823.6 738.0C823.6 739.8 826.6 741.3 828.9 741.1C831.2 741.0 834.8 738.5 837.3 737.0C839.7 735.4 841.1 732.4 843.5 731.7C846.0 731.0 849.8 731.5 851.9 732.8C854.0 734.0 854.0 737.7 856.1 739.1C858.2 740.4 862.7 739.4 864.5 741.1C866.2 742.9 866.1 746.4 866.6 749.5C867.1 752.7 867.8 756.5 867.6 760.0C867.5 763.5 865.7 766.6 865.5 770.5C865.4 774.3 866.1 778.9 866.6 783.0C867.1 787.1 868.3 790.8 868.7 795.0C869.0 799.2 853.0 806.0 868.7 808.2C884.4 810.4 946.9 810.4 962.9 808.2C979.0 806.0 962.9 799.2 965.0 795.0C967.1 790.8 972.0 787.1 975.5 783.0C979.0 778.9 982.5 774.7 986.0 770.5C989.4 766.3 993.3 762.1 996.4 757.9C999.6 753.7 1002.0 749.5 1004.8 745.3C1007.6 741.1 1010.4 737.0 1013.2 732.8C1016.0 728.6 1018.6 724.0 1021.6 720.2C1024.5 716.4 1027.1 713.2 1031.0 709.7C1034.8 706.2 1042.3 711.5 1044.6 699.3C1046.9 687.0 1082.3 646.9 1044.6 636.4C1006.9 626.0 856.1 634.3 818.4 636.4Z" fill="#c4f0ea"/>
<path d="M832.0 760.0C832.1 757.0 832.9 752.3 834.1 749.5C835.3 746.7 837.6 744.1 839.4 743.2C841.1 742.4 843.4 742.9 844.6 744.3C845.8 745.7 846.9 748.7 846.7 751.6C846.5 754.6 844.9 759.3 843.5 762.1C842.1 764.9 840.0 767.5 838.3 768.4C836.6 769.2 834.5 768.7 833.5 767.3C832.4 765.9 831.9 763.0 832.0 760.0Z" fill="#c4f0ea"/>
<path d="M959.8 655.3C960.1 653.9 962.4 652.8 965.0 652.1C967.6 651.4 972.7 650.7 975.5 651.1C978.3 651.4 981.1 652.8 981.8 654.2C982.5 655.6 981.4 658.2 979.7 659.5C977.9 660.7 974.1 661.4 971.3 661.6C968.5 661.7 964.8 661.6 962.9 660.5C961.0 659.5 959.4 656.7 959.8 655.3Z" fill="#ffffff"/>
<path d="M835.2 663.7C835.7 660.2 837.3 658.4 839.4 657.4C841.5 656.3 845.3 656.0 847.7 657.4C850.2 658.8 852.8 662.6 854.0 665.8C855.2 668.9 855.4 672.7 855.1 676.2C854.7 679.7 853.5 684.3 851.9 686.7C850.4 689.1 847.7 690.7 845.6 690.9C843.5 691.1 840.9 689.8 839.4 687.7C837.8 685.6 836.9 682.3 836.2 678.3C835.5 674.3 834.6 667.2 835.2 663.7Z" fill="#5fe3bd"/>
<path d="M856.1 703.5C856.8 701.0 860.6 698.2 862.4 695.1C864.1 691.9 866.2 688.1 866.6 684.6C866.9 681.1 865.9 677.3 864.5 674.1C863.1 671.0 860.3 668.5 858.2 665.8C856.1 663.0 853.7 660.2 851.9 657.4C850.2 654.6 848.6 652.5 847.7 649.0C846.9 645.5 828.9 638.5 846.7 636.4C864.5 634.3 936.2 634.3 954.5 636.4C972.9 638.5 955.9 645.5 956.6 649.0C957.4 652.5 957.8 655.1 959.1 657.4C960.5 659.6 962.3 661.7 965.0 662.6C967.7 663.5 972.3 663.5 975.5 662.6C978.6 661.7 982.1 659.6 983.9 657.4C985.6 655.1 985.4 652.5 986.0 649.0C986.5 645.5 977.2 638.5 987.0 636.4C996.8 634.3 1035.0 625.3 1044.6 636.4C1054.2 647.6 1046.9 690.9 1044.6 703.5C1042.3 716.0 1034.8 708.7 1031.0 711.8C1027.1 715.0 1024.5 718.5 1021.6 722.3C1018.6 726.1 1016.0 730.7 1013.2 734.9C1010.4 739.1 1007.6 743.2 1004.8 747.4C1002.0 751.6 999.6 755.8 996.4 760.0C993.3 764.2 989.4 768.4 986.0 772.6C982.5 776.7 978.6 781.4 975.5 785.1C972.3 788.9 968.7 791.1 967.1 795.0C965.5 798.8 983.0 806.0 966.1 808.2C949.1 810.4 882.4 810.4 865.5 808.2C848.7 806.0 864.6 799.2 864.9 795.0C865.3 790.8 867.0 786.8 867.6 783.0C868.3 779.3 868.2 776.1 868.7 772.6C869.2 769.1 869.4 764.9 870.8 762.1C872.2 759.3 874.3 757.2 877.1 755.8C879.8 754.4 884.0 753.4 887.5 753.7C891.0 754.1 894.9 755.8 898.0 757.9C901.1 760.0 903.9 763.8 906.4 766.3C908.8 768.7 910.2 771.2 912.7 772.6C915.1 774.0 918.2 775.7 921.0 774.7C923.8 773.6 926.6 769.8 929.4 766.3C932.2 762.8 935.9 756.3 937.8 753.7C939.7 751.1 942.0 751.3 940.9 750.6C939.9 749.8 934.8 749.6 931.5 749.1C928.2 748.6 924.5 748.4 921.0 747.4C917.5 746.5 913.9 745.0 910.6 743.2C907.2 741.5 904.3 739.1 901.1 737.0C898.0 734.9 894.3 733.1 891.7 730.7C889.1 728.2 887.3 725.1 885.4 722.3C883.5 719.5 882.3 715.7 880.2 713.9C878.1 712.2 875.5 712.2 872.9 711.8C870.2 711.5 866.9 712.2 864.5 711.8C862.0 711.5 859.6 711.1 858.2 709.7C856.8 708.3 855.4 705.9 856.1 703.5Z" fill="#5fe3bd"/>
<path d="M867.6 705.5C866.6 703.3 867.8 700.0 868.7 697.2C869.5 694.4 871.3 691.6 872.9 688.8C874.4 686.0 877.6 683.6 878.1 680.4C878.6 677.3 877.4 673.3 876.0 669.9C874.6 666.6 872.0 663.5 869.7 660.5C867.5 657.6 864.1 656.2 862.4 652.1C860.6 648.1 843.9 639.1 859.3 636.4C874.6 633.8 939.0 634.3 954.5 636.4C970.1 638.5 953.5 645.9 952.4 649.0C951.4 652.1 947.9 653.2 948.3 655.3C948.6 657.4 952.4 659.8 954.5 661.6C956.6 663.3 958.7 663.7 960.8 665.8C962.9 667.8 964.7 672.0 967.1 674.1C969.5 676.2 973.0 678.3 975.5 678.3C977.9 678.3 979.7 675.9 981.8 674.1C983.9 672.4 985.6 669.2 988.0 667.8C990.5 666.5 992.9 665.4 996.4 665.8C999.9 666.1 1005.2 668.2 1009.0 669.9C1012.8 671.7 1016.7 674.1 1019.5 676.2C1022.3 678.3 1025.0 680.1 1025.7 682.5C1026.4 685.0 1025.4 687.7 1023.6 690.9C1021.9 694.0 1018.1 697.5 1015.3 701.4C1012.5 705.2 1009.7 709.4 1006.9 713.9C1004.1 718.5 1001.3 724.0 998.5 728.6C995.7 733.1 992.9 737.0 990.1 741.1C987.3 745.3 984.6 749.5 981.8 753.7C979.0 757.9 976.2 762.1 973.4 766.3C970.6 770.5 967.5 775.0 965.0 778.8C962.6 782.7 960.5 786.6 958.7 789.3C957.0 792.0 955.4 791.8 954.5 795.0C953.7 798.1 961.2 806.0 953.5 808.2C945.8 810.4 915.6 810.4 908.5 808.2C901.3 806.0 909.2 799.2 910.6 795.0C912.0 790.8 914.7 786.4 916.8 783.0C918.9 779.6 920.7 778.0 923.1 774.7C925.6 771.3 929.1 766.6 931.5 763.1C933.9 759.6 936.0 755.8 937.8 753.7C939.5 751.6 942.7 751.6 942.0 750.6C941.3 749.5 936.4 749.0 933.6 747.4C930.8 745.9 927.7 743.6 925.2 741.1C922.8 738.7 921.4 734.9 918.9 732.8C916.5 730.7 913.4 729.6 910.6 728.6C907.8 727.5 904.6 727.9 902.2 726.5C899.7 725.1 898.0 721.9 895.9 720.2C893.8 718.5 891.4 717.4 889.6 716.0C887.9 714.6 886.8 712.2 885.4 711.8C884.0 711.5 883.0 714.1 881.2 713.9C879.5 713.7 877.2 712.2 875.0 710.8C872.7 709.4 868.7 707.8 867.6 705.5Z" fill="#55b99b"/>
<path d="M865.1 636.4C862.9 637.8 864.0 641.0 865.1 644.6C866.2 648.2 869.6 653.2 871.8 658.0C874.1 662.9 876.8 670.7 878.5 673.7C880.2 676.7 881.5 677.7 881.9 675.8C882.3 673.9 881.4 667.6 880.8 662.4C880.3 657.2 878.9 648.9 878.5 644.6C878.1 640.3 880.8 637.8 878.5 636.4C876.3 635.1 867.3 635.1 865.1 636.4Z" fill="#ffffff"/>
<path d="M948.3 682.5C949.5 679.9 952.4 678.7 954.5 678.3C956.6 678.0 959.4 678.7 960.8 680.4C962.2 682.2 963.3 686.0 962.9 688.8C962.6 691.6 960.5 695.4 958.7 697.2C957.0 698.9 954.4 699.8 952.4 699.3C950.5 698.7 947.9 696.8 947.2 694.0C946.5 691.2 947.0 685.1 948.3 682.5Z" fill="#5fe3bd"/>
<path d="M948.3 690.9C949.0 689.4 951.1 687.2 952.4 686.7C953.8 686.2 955.9 686.5 956.2 687.7C956.6 689.0 955.5 692.4 954.5 694.0C953.6 695.7 951.5 697.3 950.4 697.6C949.2 697.8 948.2 696.6 947.8 695.5C947.5 694.4 947.5 692.4 948.3 690.9Z" fill="#c4f0ea"/>
<path d="M885.4 690.9C886.1 689.1 889.3 688.8 891.7 688.8C894.2 688.8 897.6 689.5 900.1 690.9C902.5 692.3 905.7 694.7 906.4 697.2C907.1 699.6 905.7 703.5 904.3 705.5C902.9 707.6 900.1 709.6 898.0 709.7C895.9 709.9 893.5 708.3 891.7 706.6C890.0 704.8 888.6 701.9 887.5 699.3C886.5 696.6 884.7 692.6 885.4 690.9Z" fill="#5fe3bd"/>
<path d="M898.0 661.6C899.2 659.6 901.1 658.9 904.3 658.4C907.4 657.9 913.7 657.6 916.8 658.4C920.0 659.3 922.4 661.4 923.1 663.7C923.8 665.9 922.8 669.9 921.0 672.0C919.3 674.1 915.8 675.5 912.7 676.2C909.5 676.9 904.8 677.3 902.2 676.2C899.6 675.2 897.6 672.4 896.9 669.9C896.2 667.5 896.8 663.5 898.0 661.6Z" fill="#5fe3bd"/>
<path d="M901.1 664.7C902.4 663.8 905.8 663.2 908.5 663.2C911.1 663.2 915.3 663.8 916.8 664.7C918.4 665.6 918.6 667.7 917.9 668.9C917.2 670.1 914.9 671.4 912.7 672.0C910.4 672.6 906.2 673.0 904.3 672.5C902.4 671.9 901.7 670.2 901.1 668.9C900.6 667.6 899.9 665.6 901.1 664.7Z" fill="#c4f0ea"/>
<path d="M869.7 778.8C870.5 774.4 873.0 771.9 875.0 768.4C876.9 764.9 879.1 760.0 881.2 757.9C883.3 755.8 885.8 755.1 887.5 755.8C889.3 756.5 891.4 759.6 891.7 762.1C892.1 764.5 890.7 767.7 889.6 770.5C888.6 773.3 885.8 776.1 885.4 778.8C885.1 781.6 886.1 784.5 887.5 787.2C888.9 789.9 892.6 791.5 893.8 795.0C895.0 798.5 898.7 806.0 894.9 808.2C891.0 810.4 874.9 810.4 870.8 808.2C866.7 806.0 870.5 799.9 870.4 795.0C870.2 790.1 869.0 783.3 869.7 778.8Z" fill="#55b99b"/>
<path d="M878.7 722.5C878.0 719.3 879.1 714.4 881.0 715.2C882.9 715.9 885.9 723.1 890.0 727.1C894.2 731.1 900.8 735.7 906.0 739.1C911.1 742.4 916.4 745.3 921.0 747.4C925.6 749.5 930.3 750.9 933.6 751.6C936.9 752.3 941.3 751.3 940.9 751.6C940.6 752.0 934.8 753.5 931.5 753.7C928.2 753.9 925.3 753.1 921.0 752.7C916.8 752.2 910.1 752.5 906.0 751.2C901.8 749.9 899.5 747.9 896.1 745.1C892.7 742.4 888.5 738.4 885.6 734.7C882.7 730.9 879.5 725.8 878.7 722.5Z" fill="#55b99b"/>
<path d="M882.3 636.4C880.7 638.5 883.0 644.8 883.3 649.0C883.7 653.2 883.9 657.4 884.4 661.6C884.9 665.8 885.6 670.8 886.5 674.1C887.3 677.4 888.0 679.9 889.6 681.5C891.2 683.0 894.0 683.7 895.9 683.6C897.8 683.4 900.4 682.0 901.1 680.4C901.8 678.8 900.8 676.6 900.1 674.1C899.4 671.7 897.8 668.5 896.9 665.8C896.1 663.0 895.4 660.2 894.9 657.4C894.3 654.6 894.2 652.5 893.8 649.0C893.5 645.5 894.7 638.5 892.8 636.4C890.8 634.3 883.9 634.3 882.3 636.4Z" fill="#fae878"/>
<path d="M924.2 667.8C924.7 666.6 927.1 664.9 929.4 663.7C931.7 662.4 935.0 661.6 937.8 660.5C940.6 659.5 943.9 658.1 946.2 657.4C948.4 656.7 950.4 656.0 951.4 656.3C952.4 656.7 953.0 658.2 952.4 659.5C951.9 660.7 950.4 662.3 948.3 663.7C946.2 665.1 942.7 666.6 939.9 667.8C937.1 669.1 933.8 670.5 931.5 671.0C929.2 671.5 927.5 671.5 926.3 671.0C925.0 670.5 923.6 669.1 924.2 667.8Z" fill="#fae878"/>
<path d="M881.2 709.7C880.9 707.6 881.9 702.1 883.3 701.4C884.7 700.7 887.2 703.8 889.6 705.5C892.1 707.3 895.6 711.1 898.0 711.8C900.4 712.5 902.2 711.5 904.3 709.7C906.4 708.0 908.8 704.1 910.6 701.4C912.3 698.6 913.0 695.6 914.7 693.0C916.5 690.4 918.6 687.6 921.0 685.6C923.5 683.7 927.0 682.3 929.4 681.5C931.9 680.6 934.1 679.5 935.7 680.4C937.3 681.3 938.5 684.3 938.8 686.7C939.2 689.1 938.1 692.3 937.8 695.1C937.4 697.9 936.0 701.7 936.7 703.5C937.4 705.2 939.4 705.7 942.0 705.5C944.6 705.4 949.0 703.6 952.4 702.4C955.9 701.2 959.8 699.6 962.9 698.2C966.1 696.8 968.5 695.1 971.3 694.0C974.1 693.0 977.8 693.2 979.7 691.9C981.6 690.7 981.8 689.0 982.8 686.7C983.9 684.4 984.6 680.9 986.0 678.3C987.3 675.7 989.1 672.9 991.2 671.0C993.3 669.1 995.9 667.0 998.5 666.8C1001.1 666.6 1004.1 668.7 1006.9 669.9C1009.7 671.2 1013.2 672.4 1015.3 674.1C1017.4 675.9 1018.2 678.8 1019.5 680.4C1020.7 682.0 1023.0 682.3 1022.6 683.6C1022.3 684.8 1019.6 687.2 1017.4 687.7C1015.1 688.3 1011.1 685.8 1009.0 686.7C1006.9 687.6 1006.5 690.2 1004.8 693.0C1003.1 695.8 1000.6 699.6 998.5 703.5C996.4 707.3 994.3 711.8 992.2 716.0C990.1 720.2 987.7 724.7 986.0 728.6C984.2 732.4 983.5 735.6 981.8 739.1C980.0 742.5 977.6 746.0 975.5 749.5C973.4 753.0 971.3 756.5 969.2 760.0C967.1 763.5 965.0 767.0 962.9 770.5C960.8 774.0 958.7 778.1 956.6 780.9C954.5 783.7 952.8 786.0 950.4 787.2C947.9 788.4 944.8 788.8 942.0 788.3C939.2 787.7 936.0 785.5 933.6 784.1C931.2 782.7 929.4 780.2 927.3 779.9C925.2 779.5 921.4 783.2 921.0 782.0C920.7 780.8 923.5 775.7 925.2 772.6C927.0 769.4 929.4 766.3 931.5 763.1C933.6 760.0 936.0 755.8 937.8 753.7C939.6 751.6 943.1 752.3 942.4 750.6C941.7 748.8 936.5 745.9 933.6 743.2C930.7 740.6 928.0 737.7 925.2 734.9C922.4 732.1 919.6 728.6 916.8 726.5C914.1 724.4 911.3 723.3 908.5 722.3C905.7 721.3 902.9 721.1 900.1 720.2C897.3 719.3 894.2 718.1 891.7 717.1C889.3 716.0 887.2 715.1 885.4 713.9C883.7 712.7 881.6 711.8 881.2 709.7Z" fill="#fae878"/>
<path d="M882.3 789.3C883.2 787.8 885.3 786.5 887.5 786.2C889.8 785.8 894.0 786.3 895.9 787.2C897.8 788.1 899.0 790.1 899.0 791.4C899.0 792.7 896.4 792.2 895.9 795.0C895.4 797.8 898.0 806.0 895.9 808.2C893.8 810.4 885.6 810.4 883.3 808.2C881.1 806.0 882.5 798.1 882.3 795.0C882.1 791.8 881.4 790.8 882.3 789.3Z" fill="#fae878"/>
<path d="M943.0 738.0C943.2 736.6 944.2 734.9 946.2 733.8C948.1 732.8 952.1 732.6 954.5 731.7C957.0 730.8 959.3 730.2 960.8 728.6C962.4 727.0 963.8 724.4 964.0 722.3C964.1 720.2 962.7 717.8 961.9 716.0C961.0 714.3 958.2 713.0 958.7 711.8C959.3 710.6 962.6 709.9 965.0 708.7C967.5 707.5 971.1 705.4 973.4 704.5C975.7 703.6 977.4 702.6 978.6 703.5C979.8 704.3 980.5 707.3 980.7 709.7C980.9 712.2 980.4 715.3 979.7 718.1C979.0 720.9 977.8 723.7 976.5 726.5C975.3 729.3 973.9 732.6 972.3 734.9C970.8 737.1 969.4 738.9 967.1 740.1C964.8 741.3 961.5 741.7 958.7 742.2C955.9 742.7 952.6 743.2 950.4 743.2C948.1 743.2 946.3 743.1 945.1 742.2C943.9 741.3 942.8 739.4 943.0 738.0Z" fill="#ea8a6a"/>
<path d="M968.2 718.1C968.2 715.3 968.3 713.7 969.2 711.8C970.1 709.9 971.8 707.8 973.4 706.6C975.0 705.4 977.4 703.8 978.6 704.5C979.8 705.2 980.5 708.5 980.7 710.8C980.9 713.0 980.4 715.7 979.7 718.1C979.0 720.6 977.8 723.2 976.5 725.4C975.3 727.7 973.6 731.2 972.3 731.7C971.1 732.2 969.9 730.8 969.2 728.6C968.5 726.3 968.2 720.9 968.2 718.1Z" fill="#ab4840"/>
</g>
<clipPath id="t19"><rect x="906.0" y="649.0" width="244.0" height="146.0"/></clipPath>
<g clip-path="url(#t19)">
<path d="M893.4 636.4L1163.6 636.4L1163.6 808.2L893.4 808.2Z" fill="#ffffff"/>
<path d="M893.4 636.4C932.0 607.8 1086.5 634.3 1124.8 636.4C1163.2 638.5 1124.3 645.5 1123.8 649.0C1123.3 652.5 1123.1 654.8 1121.7 657.4C1120.3 660.0 1118.6 663.0 1115.4 664.7C1112.3 666.5 1107.0 666.6 1102.9 667.8C1098.7 669.1 1094.5 670.5 1090.3 672.0C1086.1 673.6 1081.9 675.7 1077.7 677.3C1073.5 678.8 1069.4 680.2 1065.2 681.5C1061.0 682.7 1056.8 683.6 1052.6 684.6C1048.4 685.6 1043.5 686.5 1040.0 687.7C1036.5 689.0 1034.1 690.2 1031.7 691.9C1029.2 693.7 1027.5 695.9 1025.4 698.2C1023.3 700.5 1021.0 702.9 1019.1 705.5C1017.2 708.2 1015.6 711.1 1013.9 713.9C1012.1 716.7 1010.2 719.5 1008.6 722.3C1007.0 725.1 1006.2 727.9 1004.4 730.7C1002.7 733.5 1000.2 736.3 998.1 739.1C996.1 741.8 993.6 744.6 991.9 747.4C990.1 750.2 989.4 753.0 987.7 755.8C985.9 758.6 983.5 761.4 981.4 764.2C979.3 767.0 977.2 769.8 975.1 772.6C973.0 775.4 970.7 778.3 968.8 780.9C966.9 783.6 965.2 785.9 963.6 788.3C962.0 790.6 960.3 791.7 959.4 795.0C958.5 798.3 969.4 806.0 958.4 808.2C947.4 810.4 904.3 836.8 893.4 808.2C882.6 779.5 854.9 665.1 893.4 636.4Z" fill="#c4f0ea"/>
<path d="M893.4 636.4C926.2 607.8 1057.8 634.3 1090.3 636.4C1122.8 638.5 1091.0 646.0 1088.2 649.0C1085.4 652.0 1078.1 652.8 1073.5 654.2C1069.0 655.6 1064.8 656.3 1061.0 657.4C1057.1 658.4 1053.6 659.5 1050.5 660.5C1047.4 661.6 1044.6 662.1 1042.1 663.7C1039.7 665.2 1037.8 667.5 1035.8 669.9C1033.9 672.4 1032.4 675.5 1030.6 678.3C1028.9 681.1 1027.1 684.1 1025.4 686.7C1023.6 689.3 1021.9 691.6 1020.1 694.0C1018.4 696.5 1016.5 698.7 1014.9 701.4C1013.3 704.0 1012.1 706.9 1010.7 709.7C1009.3 712.5 1007.7 715.3 1006.5 718.1C1005.3 720.9 1004.8 723.7 1003.4 726.5C1002.0 729.3 999.9 732.1 998.1 734.9C996.4 737.7 994.7 740.4 992.9 743.2C991.2 746.0 989.4 748.8 987.7 751.6C985.9 754.4 984.4 757.2 982.4 760.0C980.5 762.8 978.3 765.6 976.2 768.4C974.1 771.2 972.0 774.0 969.9 776.7C967.8 779.5 965.7 782.3 963.6 785.1C961.5 787.9 958.7 791.9 957.3 793.5C955.9 795.1 955.7 792.5 955.2 795.0C954.7 797.4 964.5 806.0 954.2 808.2C943.9 810.4 903.6 836.8 893.4 808.2C883.3 779.5 860.6 665.1 893.4 636.4Z" fill="#5fe3bd"/>
<path d="M959.4 656.3C960.1 654.2 963.9 651.3 966.7 650.0C969.5 648.8 973.5 648.5 976.2 649.0C978.8 649.5 980.9 651.0 982.4 652.8C984.0 654.5 984.4 657.7 985.6 659.5C986.8 661.3 989.8 661.6 989.8 663.7C989.8 665.8 987.7 669.9 985.6 672.0C983.5 674.1 980.0 675.7 977.2 676.2C974.4 676.7 970.9 676.2 968.8 675.2C966.7 674.1 965.7 672.0 964.6 669.9C963.6 667.8 963.4 664.9 962.5 662.6C961.7 660.3 958.7 658.4 959.4 656.3Z" fill="#c4f0ea"/>
<path d="M962.1 656.3C962.8 654.9 966.3 652.9 968.8 652.1C971.3 651.3 975.5 650.8 977.2 651.5C978.9 652.2 980.0 654.9 979.3 656.3C978.6 657.7 975.5 659.2 973.0 659.9C970.6 660.6 966.5 661.1 964.6 660.5C962.8 659.9 961.4 657.7 962.1 656.3Z" fill="#ffffff"/>
<path d="M893.4 747.4C895.5 742.7 901.8 748.1 906.0 748.5C910.2 748.8 914.4 749.2 918.6 749.5C922.8 749.9 927.5 750.2 931.1 750.6C934.8 750.9 939.9 750.0 940.6 751.6C941.3 753.2 937.2 757.2 935.3 760.0C933.4 762.8 931.1 765.9 929.0 768.4C926.9 770.8 925.2 772.9 922.8 774.7C920.3 776.4 917.2 778.3 914.4 778.8C911.6 779.4 909.5 778.1 906.0 777.8C902.5 777.4 895.5 781.8 893.4 776.7C891.3 771.7 891.3 752.1 893.4 747.4Z" fill="#c4f0ea"/>
<path d="M912.3 757.9C912.9 757.6 915.1 758.9 915.4 760.0C915.8 761.0 915.0 763.8 914.4 764.2C913.8 764.5 912.2 763.1 911.9 762.1C911.5 761.0 911.7 758.2 912.3 757.9Z" fill="#5fe3bd"/>
<path d="M893.4 660.5C895.5 659.4 902.5 661.3 906.0 661.1C909.5 661.0 911.6 659.6 914.4 659.5C917.2 659.4 920.7 659.6 922.8 660.5C924.8 661.4 927.3 663.3 926.9 664.7C926.6 666.1 923.5 668.2 920.7 668.9C917.9 669.6 914.7 669.1 910.2 668.9C905.7 668.7 896.2 669.2 893.4 667.8C890.6 666.5 891.3 661.6 893.4 660.5Z" fill="#c4f0ea"/>
<path d="M893.4 674.1C895.5 665.9 901.8 671.7 906.0 671.0C910.2 670.3 915.1 669.8 918.6 669.9C922.1 670.1 924.2 672.0 926.9 672.0C929.7 672.0 932.5 670.6 935.3 669.9C938.1 669.2 941.1 667.8 943.7 667.8C946.3 667.8 948.9 668.5 951.0 669.9C953.1 671.3 954.3 674.8 956.3 676.2C958.2 677.6 959.8 678.1 962.5 678.3C965.3 678.5 969.5 678.0 973.0 677.3C976.5 676.6 980.7 675.7 983.5 674.1C986.3 672.6 988.0 670.1 989.8 667.8C991.5 665.6 992.6 663.0 994.0 660.5C995.4 658.1 997.3 657.2 998.1 653.2C999.0 649.2 993.3 639.2 999.2 636.4C1005.1 633.6 1028.3 634.3 1033.7 636.4C1039.2 638.5 1032.0 645.2 1031.7 649.0C1031.3 652.8 1032.0 656.0 1031.7 659.5C1031.3 663.0 1030.8 666.5 1029.6 669.9C1028.3 673.4 1026.1 677.1 1024.3 680.4C1022.6 683.7 1020.8 686.9 1019.1 689.8C1017.3 692.8 1015.4 695.4 1013.9 698.2C1012.3 701.0 1011.1 703.8 1009.7 706.6C1008.3 709.4 1006.9 712.2 1005.5 715.0C1004.1 717.8 1002.7 720.6 1001.3 723.3C999.9 726.1 998.7 728.9 997.1 731.7C995.5 734.5 993.6 737.3 991.9 740.1C990.1 742.9 988.4 745.7 986.6 748.5C984.9 751.3 983.1 754.1 981.4 756.9C979.6 759.6 978.1 762.4 976.2 765.2C974.2 768.0 972.0 770.8 969.9 773.6C967.8 776.4 965.7 779.2 963.6 782.0C961.5 784.8 959.1 788.2 957.3 790.4C955.6 792.5 954.0 792.0 953.1 795.0C952.2 797.9 959.9 806.0 952.1 808.2C944.2 810.4 913.0 810.4 906.0 808.2C899.0 806.0 908.1 799.2 910.2 795.0C912.3 790.8 915.8 787.1 918.6 783.0C921.4 778.9 924.2 774.3 926.9 770.5C929.7 766.6 932.7 763.2 935.3 760.0C937.9 756.8 943.3 754.2 942.6 751.2C942.0 748.2 935.1 745.4 931.1 742.2C927.1 738.9 922.8 735.2 918.6 731.7C914.4 728.2 910.2 723.2 906.0 721.3C901.8 719.3 895.5 728.1 893.4 720.2C891.3 712.4 891.3 682.3 893.4 674.1Z" fill="#55b99b"/>
<path d="M893.4 720.2C895.5 717.6 901.8 719.3 906.0 721.3C910.2 723.2 914.4 728.2 918.6 731.7C922.8 735.2 927.1 738.9 931.1 742.2C935.1 745.4 942.6 749.8 942.6 751.2C942.6 752.6 935.1 751.4 931.1 750.6C927.1 749.8 922.8 748.1 918.6 746.4C914.4 744.6 910.2 741.7 906.0 740.1C901.8 738.5 895.5 740.3 893.4 737.0C891.3 733.6 891.3 722.8 893.4 720.2Z" fill="#55b99b"/>
<path d="M943.7 690.9C944.0 687.9 945.8 684.3 947.9 682.5C950.0 680.8 954.2 679.7 956.3 680.4C958.4 681.1 960.1 683.9 960.5 686.7C960.8 689.5 959.8 694.5 958.4 697.2C957.0 699.8 954.2 701.9 952.1 702.4C950.0 702.9 947.2 702.2 945.8 700.3C944.4 698.4 943.3 693.9 943.7 690.9Z" fill="#5fe3bd"/>
<path d="M947.9 690.9C948.2 689.0 949.8 687.5 951.0 686.7C952.2 685.9 954.3 685.6 955.2 686.3C956.1 687.0 956.6 689.1 956.3 690.9C955.9 692.7 954.3 695.9 953.1 697.2C951.9 698.4 949.8 699.3 948.9 698.2C948.1 697.2 947.5 692.8 947.9 690.9Z" fill="#c4f0ea"/>
<path d="M923.8 666.8C924.3 665.6 926.8 663.8 929.0 662.6C931.3 661.4 934.6 660.5 937.4 659.5C940.2 658.4 943.5 656.9 945.8 656.3C948.1 655.8 950.0 655.8 951.0 656.3C952.1 656.9 952.8 658.4 952.1 659.5C951.4 660.5 948.9 661.6 946.8 662.6C944.7 663.7 942.1 664.5 939.5 665.8C936.9 667.0 933.4 669.2 931.1 669.9C928.9 670.6 927.1 670.5 925.9 669.9C924.7 669.4 923.3 668.0 923.8 666.8Z" fill="#fae878"/>
<path d="M893.4 689.8C895.5 685.0 902.5 691.4 906.0 690.9C909.5 690.4 911.6 688.1 914.4 686.7C917.2 685.3 920.0 683.6 922.8 682.5C925.5 681.5 928.7 680.4 931.1 680.4C933.6 680.4 936.2 680.8 937.4 682.5C938.6 684.3 938.5 688.1 938.5 690.9C938.5 693.7 937.2 697.0 937.4 699.3C937.6 701.5 937.8 704.0 939.5 704.5C941.3 705.0 944.7 703.3 947.9 702.4C951.0 701.5 954.9 700.3 958.4 699.3C961.8 698.2 965.7 697.2 968.8 696.1C972.0 695.1 974.9 693.9 977.2 693.0C979.5 692.1 981.2 692.3 982.4 690.9C983.7 689.5 983.5 687.0 984.5 684.6C985.6 682.2 987.0 678.8 988.7 676.2C990.5 673.6 992.9 670.5 995.0 668.9C997.1 667.3 999.0 666.3 1001.3 666.8C1003.6 667.3 1006.3 670.8 1008.6 672.0C1010.9 673.3 1013.0 673.6 1014.9 674.1C1016.8 674.7 1019.0 673.8 1020.1 675.2C1021.3 676.6 1022.2 680.6 1021.8 682.5C1021.5 684.4 1019.9 685.6 1018.0 686.7C1016.2 687.7 1013.0 688.1 1010.7 688.8C1008.4 689.5 1006.0 689.5 1004.4 690.9C1002.9 692.3 1002.5 694.7 1001.3 697.2C1000.1 699.6 998.5 703.1 997.1 705.5C995.7 708.0 994.1 709.4 992.9 711.8C991.7 714.3 990.8 717.4 989.8 720.2C988.7 723.0 987.8 725.8 986.6 728.6C985.4 731.4 984.0 734.2 982.4 737.0C980.9 739.8 978.9 742.4 977.2 745.3C975.5 748.3 973.7 751.8 972.0 754.8C970.2 757.7 968.5 760.3 966.7 763.1C965.0 765.9 963.2 768.7 961.5 771.5C959.8 774.3 958.2 777.4 956.3 779.9C954.3 782.3 952.2 784.8 950.0 786.2C947.7 787.6 945.1 788.1 942.6 788.3C940.2 788.4 937.6 788.1 935.3 787.2C933.1 786.3 931.1 783.9 929.0 783.0C926.9 782.2 924.1 782.7 922.8 782.0C921.4 781.3 920.4 780.8 921.1 778.8C921.8 776.9 924.6 773.6 926.9 770.5C929.3 767.3 932.7 763.2 935.3 760.0C937.9 756.8 943.3 754.2 942.6 751.2C942.0 748.2 935.1 745.4 931.1 742.2C927.1 738.9 922.8 735.2 918.6 731.7C914.4 728.2 910.2 723.2 906.0 721.3C901.8 719.3 895.5 725.4 893.4 720.2C891.3 715.0 891.3 694.7 893.4 689.8Z" fill="#fae878"/>
<path d="M934.3 710.8C934.8 710.2 938.5 709.9 939.5 710.2C940.6 710.4 941.1 711.7 940.6 712.2C940.0 712.8 937.4 713.7 936.4 713.5C935.3 713.3 933.7 711.3 934.3 710.8Z" fill="#5fe3bd"/>
<path d="M943.3 739.1C943.3 737.7 944.0 735.0 945.8 733.8C947.6 732.6 951.7 732.6 954.2 731.7C956.7 730.8 959.2 730.2 960.9 728.6C962.5 727.0 964.0 724.4 964.2 722.3C964.4 720.2 962.9 717.8 962.1 716.0C961.3 714.3 958.8 713.0 959.4 711.8C960.0 710.6 963.4 709.9 965.7 708.7C968.0 707.5 970.7 705.4 973.0 704.5C975.3 703.6 977.9 702.6 979.3 703.5C980.7 704.3 981.3 707.3 981.4 709.7C981.5 712.2 980.4 715.3 979.7 718.1C979.0 720.9 978.3 723.9 977.2 726.5C976.1 729.1 974.6 731.7 973.0 733.8C971.4 735.9 970.0 737.7 967.8 739.1C965.5 740.4 962.2 741.5 959.4 742.2C956.6 742.9 953.4 743.2 951.0 743.2C948.7 743.2 946.7 742.9 945.4 742.2C944.1 741.5 943.2 740.4 943.3 739.1Z" fill="#ea8a6a"/>
<path d="M967.8 719.2C967.8 716.5 968.0 714.8 968.8 712.9C969.7 711.0 971.3 709.0 973.0 707.6C974.7 706.2 977.6 704.0 978.9 704.5C980.2 705.0 980.8 708.5 981.0 710.8C981.1 713.0 980.4 715.7 979.7 718.1C979.0 720.6 978.0 723.2 976.8 725.4C975.6 727.7 973.9 731.2 972.6 731.7C971.3 732.2 969.6 730.7 968.8 728.6C968.0 726.5 967.8 721.8 967.8 719.2Z" fill="#ab4840"/>
</g>
<path d="M115.8 74.0 V794.7M237.4 74.0 V794.7M359.0 74.0 V794.7M480.6 74.0 V794.7M602.2 74.0 V794.7M723.9 74.0 V794.7M845.5 74.0 V794.7M967.1 74.0 V794.7M1088.7 74.0 V794.7M65.0 721.7 H1149.5M65.0 648.7 H1149.5M65.0 575.7 H1149.5M65.0 502.7 H1149.5M65.0 429.7 H1149.5M65.0 356.7 H1149.5M65.0 283.7 H1149.5M65.0 210.7 H1149.5M65.0 137.7 H1149.5" fill="none" stroke="#b9b9b9" stroke-width="1" stroke-dasharray="1.6 8.27"/>
<path d="M294.0 339.9L290.9 341.8L285.5 339.2L282.4 334.5L281.2 330.4L274.5 324.6L269.0 324.9L263.0 327.8L254.4 326.0L249.7 327.2L252.0 319.5L252.0 313.6L252.6 308.5L247.1 306.8L247.8 303.0L243.5 301.5L244.7 297.6L245.3 292.9L249.0 288.1L250.8 281.5L253.2 273.5L253.2 266.9L251.4 258.9L251.0 256.0L251.4 252.3L252.6 250.1L249.0 247.2L246.3 241.4L247.1 237.7L253.2 235.5L257.5 234.1L261.1 229.7L265.4 228.7L270.9 231.4L280.0 231.6L289.7 231.1L300.7 233.8L312.8 232.9L321.3 234.8L331.1 235.5L337.4 234.5L340.8 231.9L342.6 223.8L343.8 216.5L345.0 210.7L345.7 203.4L349.3 204.9L345.7 201.2L344.4 197.6L345.7 193.9L342.0 191.0L337.1 188.8L333.5 183.7L334.7 180.0L332.3 177.6L328.6 177.1L328.0 174.2L321.3 174.2L317.7 171.0L309.2 169.1L305.9 169.8L301.9 166.2L306.7 164.7L303.7 162.5L300.9 161.4L301.9 158.4L310.4 156.4L315.9 154.9L321.9 154.5L326.2 158.9L331.1 157.4L334.7 157.4L340.8 157.7L339.6 152.3L339.6 148.7L336.5 144.3L335.3 141.8L339.6 142.8L343.6 142.1L345.0 147.2L349.9 147.2L355.4 147.9L360.2 145.7L361.5 142.1L366.3 139.9L372.2 138.7L376.7 136.2L378.2 133.3L378.1 127.0L379.1 124.9L381.5 123.7L388.2 122.4L394.3 119.7L399.8 117.6L402.8 117.3L410.1 117.6L404.0 115.8L405.8 112.2L408.3 108.8L411.3 106.7L414.4 101.9L416.2 96.1L417.2 94.3L420.4 94.9L423.5 92.9L421.0 98.3L422.9 102.7L429.6 99.7L427.1 96.1L424.7 92.4L430.8 88.1L440.5 86.9L444.8 89.5L447.2 88.8L444.8 85.9L450.2 83.7L456.3 83.4L460.0 86.6L462.4 85.9L463.0 81.5L464.8 81.1L468.5 81.1L474.6 85.1L468.5 80.8L467.3 77.4L463.6 74.2L467.9 72.0L464.2 66.2L464.2 64.0M340.8 64.0L342.0 65.0L344.4 69.8L351.7 72.0L354.2 75.2L357.8 77.8L356.6 80.0L360.2 84.8L355.4 83.4L358.4 85.9L363.3 91.0L359.6 95.4L363.9 96.8L365.7 94.3L374.8 94.9L380.2 99.7L380.4 101.9L378.5 107.0L374.8 109.2L372.4 111.7L370.0 112.2L367.5 115.4L363.9 116.2L368.1 116.8L376.1 117.6L376.1 120.9L370.8 124.4L365.7 125.3L362.1 126.9L356.6 125.6L349.3 127.0L345.7 126.0L342.0 124.6L339.6 127.2L335.3 127.5L335.1 128.9L329.2 129.4L329.2 130.1L323.2 127.2L317.7 128.6L316.5 131.9L314.6 134.5L308.7 132.4L302.5 132.9L297.6 135.5L295.8 138.3L291.8 136.2L289.6 136.7L292.7 134.5L297.6 131.6L301.3 127.9L303.7 125.3L303.9 122.8L308.0 121.9L308.9 120.0L316.8 119.9L322.5 119.9L322.8 117.6L326.8 114.0L329.8 112.2L326.2 114.6L322.5 115.1L320.5 116.5L316.5 117.3L313.4 115.8L311.0 114.0L306.7 114.9L306.1 112.4L301.9 113.3L297.6 114.0L295.2 112.2L294.6 110.3L298.2 108.1L302.1 106.6L308.0 104.6L309.8 101.2L309.2 97.6L308.6 95.4L304.3 96.5L301.3 96.8L306.1 93.2L305.5 91.7L303.1 90.0L303.7 88.1L306.7 87.8L309.8 89.5L312.8 89.2L317.7 89.1L321.9 90.0L320.1 88.1L322.5 87.3L321.9 84.4L323.8 83.2L321.9 81.5L324.4 78.1L323.8 76.4L319.7 77.8L317.7 74.9L314.9 72.0L315.9 69.1L318.3 66.2L321.9 65.1L315.9 65.1L315.2 66.6L311.0 67.9L305.5 69.1L306.1 66.6L300.0 66.9L299.8 70.1L298.2 68.4L296.4 64.0M301.3 78.3L306.1 74.9L305.5 73.2L301.3 76.4L301.3 78.3M286.1 64.0L289.1 66.9L289.1 69.4L291.5 69.5L292.7 73.5L290.9 75.4L287.9 76.1L284.8 78.9L281.8 79.3L283.4 83.4L284.8 87.3L284.8 89.5L286.1 94.2L284.2 96.8L283.6 100.5L281.8 103.4L281.6 106.0L274.8 106.7L267.2 107.5L263.6 109.2L258.7 111.4L255.3 114.0L250.8 115.1L244.7 116.2L239.6 116.5L243.5 113.2L235.6 114.3L241.1 111.4L233.2 110.3L238.6 106.7L231.7 107.0L235.0 104.4L239.2 104.9L238.0 102.4L242.9 100.0L238.3 100.3L242.3 98.0L244.1 94.6L246.3 91.7L249.6 91.7L249.0 90.0L242.3 90.5L235.0 88.1L236.2 85.9L238.6 84.4L242.3 82.2L235.6 80.0L236.8 75.7L239.8 74.5L247.1 75.4L254.4 74.9L258.1 72.3L259.9 70.1L252.0 69.5L255.1 67.3L256.9 64.0M294.0 339.9L299.4 334.8L305.5 331.6L316.5 331.6L323.8 331.2L329.2 330.0L332.9 331.4L335.9 327.5L339.2 322.1L343.2 319.5L347.1 319.0L350.5 318.3L349.9 313.6L353.2 307.9L357.8 304.9L361.8 302.2L358.4 299.0L355.1 291.7L359.0 284.1L365.1 277.1L369.6 273.2L367.5 270.6L374.2 267.6L385.5 263.6L393.1 258.9L397.9 256.0L399.2 249.8L396.1 245.7L396.0 240.6L398.6 236.2L404.0 234.1L408.9 231.9L414.4 234.1L418.0 234.8L420.4 234.1L424.1 235.5L431.1 238.4L433.8 239.5L439.9 237.0L443.5 232.6L447.4 229.7L453.6 227.9L458.1 225.3L462.2 220.9L467.6 219.3L472.1 220.9L478.6 224.3L481.9 226.0L484.3 231.9L486.7 236.2L486.7 240.9L489.8 242.8L494.0 248.7L500.1 250.1L502.5 253.0L507.8 258.2L512.5 262.5L517.7 265.5L524.1 265.5L527.5 268.4L530.5 271.6L534.8 272.8L533.3 274.9L538.6 273.9L541.4 278.6L544.8 283.3L549.3 283.0L551.2 289.5L554.2 293.9L554.8 299.8L551.8 303.4L549.3 310.0L549.7 313.6L554.2 314.1L560.3 307.1L560.9 300.9L567.0 299.8L568.2 297.1L567.0 292.5L559.7 287.4L560.9 282.2L564.6 277.1L568.8 276.8L576.7 279.8L577.9 283.7L582.4 286.6L584.3 281.5L577.9 274.2L570.6 270.6L564.2 267.2L553.6 262.5L552.6 259.9L556.0 256.0L548.7 255.5L541.4 254.5L537.8 251.6L532.0 247.6L528.1 240.6L523.4 230.8L515.9 226.0L509.8 222.4L508.4 216.5L511.0 211.4L508.0 207.8L509.2 204.4L518.3 201.2L523.2 199.8L526.5 201.6L524.4 204.1L523.8 208.5L528.1 213.6L529.9 210.7L532.3 206.3L535.4 206.3L540.2 210.7L540.2 215.1L543.3 218.7L543.9 223.1L552.4 229.2L559.0 232.6L565.8 235.5L571.2 239.9L573.7 241.4L579.1 245.0L584.0 248.4L591.3 253.0L594.6 256.7L596.8 260.3L595.6 264.4L596.2 269.8L593.7 274.2L595.9 277.1L594.3 279.3L601.6 285.2L605.3 291.0L611.4 299.0L611.4 303.4L615.6 307.8L619.6 308.1L624.5 307.1L631.4 307.8L638.1 310.0L641.2 312.2L638.1 313.9L630.2 310.7L623.3 309.3L618.7 310.0L615.6 313.9L618.1 318.0L621.1 325.3L622.7 329.0L625.4 331.2L628.4 327.2L630.8 331.9L632.4 336.3L633.9 330.7L638.1 334.1L641.2 335.8L639.3 331.2L636.3 323.9L635.7 319.5L640.6 323.1L644.8 320.9L639.9 316.6L638.7 314.4L646.0 313.9L651.1 318.0L651.5 310.7L646.0 306.2L642.4 303.4L638.7 302.0L633.3 300.1L638.1 298.3L637.5 293.9L642.4 296.8L639.9 292.5L637.5 289.5L634.5 283.7L633.9 277.9L637.5 275.7L637.5 278.6L643.0 280.8L643.0 284.4L647.9 281.5L650.9 284.4L649.7 278.6L655.8 281.8L650.9 277.1L647.2 273.5L652.1 272.8L655.8 270.1L661.2 271.3L664.9 269.8L674.0 271.3L675.8 273.5L684.9 274.6L677.6 280.8L677.6 283.0L683.7 277.9L691.0 273.5L694.1 269.5L699.5 269.1L706.8 269.5L711.7 268.4L712.3 265.5L702.0 261.1L699.5 255.2M387.6 289.5L396.7 284.4L401.0 287.4L396.7 293.9L391.9 291.0L387.6 289.5M405.2 283.0L411.3 284.4L410.7 286.3L405.8 284.7L405.2 283.0M373.6 299.0L378.5 296.8L377.9 300.5L374.2 300.5L373.6 299.0M473.3 239.9L475.2 245.7L475.2 253.0L473.3 259.6L470.9 263.7L466.0 261.1L463.6 254.5L463.0 249.1L465.4 246.2L469.7 243.8L472.7 240.6L473.3 239.9M470.9 265.5L475.8 270.6L478.2 276.4L476.4 284.4L475.8 293.9L469.7 295.4L466.7 299.8L461.2 298.3L461.2 291.0L462.4 285.2L461.2 277.9L458.1 274.2L460.0 270.6L466.0 269.8L470.9 265.5M549.3 309.0L544.5 317.3L542.7 323.1L545.1 326.8L542.7 332.6L535.4 330.4L529.3 326.0L523.2 323.4L515.9 319.2L510.4 315.8L511.0 312.2L514.1 310.7L520.8 310.0L525.6 312.9L532.9 312.6L541.4 310.7L549.3 309.0M533.5 342.4L536.0 343.9L535.4 345.0L532.9 343.6L533.5 342.4M645.4 347.9L652.1 347.9L655.8 351.6L663.1 350.6L672.2 351.9L678.9 352.6L678.3 356.0L670.4 357.4L660.0 357.7L650.9 353.8L645.4 353.1L645.4 347.9M751.8 356.0L759.1 353.8L759.7 350.9L768.9 351.3L779.2 346.8L772.5 356.0L768.2 358.9L760.3 362.5L753.0 360.4L751.8 356.0M641.2 299.0L646.0 302.0L653.3 310.0L657.6 312.9L657.6 310.7L652.7 303.4L644.2 298.3L641.2 299.0M675.2 293.9L680.1 293.2L682.5 297.6L677.6 298.7L673.4 296.1L675.2 293.9M673.4 304.9L677.0 304.9L677.0 309.3L674.0 310.0L673.4 304.9M696.5 335.5L702.0 335.5L700.8 340.6L696.5 343.1L696.5 335.5M682.5 315.8L688.0 316.6L685.6 318.0L682.5 317.3L682.5 315.8M667.3 325.3L670.4 324.6L669.7 328.2L667.3 327.5L667.3 325.3M663.7 283.7L667.9 283.7L668.5 286.6L664.3 286.6L663.7 283.7M657.6 272.0L660.6 272.8L660.0 274.9L657.6 274.2L657.6 272.0M610.2 305.6L612.0 311.4L608.9 311.4L606.5 308.5L610.2 305.6M598.0 286.6L601.6 286.9L603.5 292.5L600.4 291.7L598.0 286.6M686.8 328.2L691.0 329.0L687.4 331.2L686.8 328.2M654.5 317.3L656.4 320.2L654.5 320.9L654.5 317.3M659.4 313.6L662.4 315.1L660.6 317.3L659.4 313.6M688.0 343.6L690.4 347.9L688.6 350.1L688.0 343.6M477.0 810.8L468.5 802.0L462.4 798.4L458.7 801.3L450.2 802.7L444.2 803.5L433.2 804.9L425.9 793.2L419.8 782.3L413.8 775.7L400.4 774.0L391.9 774.7L380.9 776.5L373.6 778.6L370.0 783.0L362.7 783.8L356.6 786.7L350.5 789.6L344.4 793.2L337.7 796.2L333.5 798.4L326.2 794.7L320.1 792.5L310.4 791.1L300.7 792.5L287.3 794.7L275.1 799.1L267.2 804.2M255.7 795.4L248.4 791.8L241.1 785.9L233.8 778.6L227.7 775.7L221.0 769.9L219.2 766.2L211.9 760.4L207.0 759.7L202.1 752.4L198.5 745.1L197.3 738.5L197.9 735.6L194.9 729.0L192.4 723.2L184.5 719.5L181.5 712.9L176.6 709.3L175.4 705.6L170.5 704.2L165.1 701.3L170.5 699.1L168.1 694.7L163.2 694.7L160.2 690.3L155.3 687.0L154.7 680.8L155.3 676.4L157.8 673.5L155.9 669.1L157.8 665.5L154.7 661.1L150.5 657.5L145.8 652.4L151.1 649.4L154.1 644.3L157.8 634.1L159.0 626.8L160.8 616.6L163.8 606.4L162.0 593.2L158.4 585.2L161.4 578.6L161.4 572.8L157.8 567.7L153.5 560.4L151.7 564.0L152.3 555.3L152.9 548.0L158.4 540.7L160.8 533.4L164.4 523.1L168.1 518.0L176.6 509.3L178.4 501.2L182.7 489.6L186.3 483.7L193.6 477.9L198.5 465.5L202.1 459.6L213.1 457.4L221.6 451.6L231.3 444.3L238.6 436.3L241.7 427.5L239.2 420.2L239.8 410.7L244.7 400.5L246.5 392.5L254.4 383.0L265.4 377.9L275.1 371.3L281.8 359.6L286.1 350.1L287.0 345.3L292.1 343.6L294.0 343.9L295.8 348.7L301.9 353.8L310.4 353.5L318.9 353.8L323.2 352.3L323.8 354.5L332.3 355.5L337.7 355.2L344.4 348.7L351.7 345.8L359.0 344.3L363.3 339.9L371.2 335.1L383.4 333.8L394.3 330.4L402.8 330.4L406.5 328.7L416.2 329.0L421.0 330.9L428.3 330.1L435.0 326.3L442.9 329.0L447.8 326.5L453.9 329.4L460.0 328.7L464.2 328.2L470.9 323.9L478.8 322.7L483.7 324.9L483.1 329.7L487.3 329.7L493.4 326.5L492.2 333.3L486.7 337.0L487.3 343.6L493.4 347.9L494.0 353.8L489.2 361.1L481.9 366.9L481.2 372.0L486.1 376.4L492.2 376.4L494.6 382.3L499.5 383.7L508.6 388.4L519.6 387.4L531.7 390.3L543.9 395.4L546.3 403.4L550.6 409.3L562.1 412.2L576.1 416.6L587.0 423.9L592.5 425.8L599.2 422.4L602.9 415.8L601.6 407.8L603.5 397.6L609.5 392.5L620.5 388.1L629.0 387.4L639.9 391.0L640.6 396.1L649.7 399.0L661.8 401.2L665.5 407.1L680.1 407.8L691.0 410.0L699.5 414.4L710.5 417.3L717.8 415.1L723.9 410.7L728.7 407.8L736.0 406.3L742.7 408.5L747.6 407.8L751.8 411.0L759.1 413.6L767.6 413.6L774.9 410.7L778.6 406.3L781.6 399.0L784.1 388.8L785.9 384.4L790.7 372.8L792.6 366.9L796.2 361.8L795.6 353.8L794.4 347.2L796.2 342.8L799.3 333.3L792.0 333.6L781.0 330.4L771.9 337.7L760.3 340.6L751.8 339.9L739.7 330.4L731.2 329.7L728.7 337.7L720.2 339.9L712.9 337.0L705.6 329.7L699.5 331.9L692.2 331.9L701.4 327.5L691.0 326.8L689.8 318.7L687.4 313.6L678.9 309.3L684.3 306.3L686.8 299.8L683.7 293.9L676.4 291.0L677.6 283.7L684.3 277.9L691.0 277.9L699.5 278.6L711.7 278.3L709.3 275.7L722.6 272.8L715.3 271.3L712.9 266.2L721.4 266.9L727.5 266.2L738.5 267.6L747.0 261.8L756.7 256.7L765.2 254.5L782.2 254.9L785.9 254.1L790.7 259.6L798.0 264.7L804.7 264.0L815.1 268.4L826.0 270.3L839.4 267.6L851.6 268.4L862.5 263.3L864.3 261.1L866.8 255.2L864.3 248.7L862.5 243.6L849.1 237.7L841.8 231.1L832.1 223.1L822.4 219.5L813.9 215.1L812.6 206.3L804.7 205.6L807.2 209.2L804.1 204.9L816.3 201.2L821.1 195.4L818.7 186.6L828.4 186.6L837.0 180.8L823.6 180.0L812.6 183.0L799.3 186.6L788.3 191.7L782.8 193.9L784.7 201.2L790.7 206.3L801.7 204.9L802.3 209.2L789.5 210.7L778.6 216.5L768.9 219.5L765.2 216.5L767.0 209.2L754.3 205.6L767.6 198.3L762.8 193.9L751.8 194.6L745.8 191.7L748.2 187.3L738.5 187.3L733.6 188.8L726.3 198.3L720.2 201.9L719.6 207.8L719.0 212.9L710.5 215.1L707.4 220.9L706.8 229.0L699.5 234.8L698.3 242.1L693.5 246.5L699.5 254.5L699.5 255.2M754.9 430.4L752.4 435.5L756.1 445.0L762.8 456.0L767.0 461.8L771.9 470.6L776.8 483.7L784.1 501.2L790.7 517.3L790.7 524.6L793.2 531.2L807.8 546.5L810.8 558.2L812.0 568.4L811.4 581.5L814.5 592.5L822.4 602.0L828.4 606.4L833.3 622.4L837.0 636.3L842.4 644.3L846.7 649.4L855.8 653.1L860.1 655.3L866.1 664.8L874.1 675.0L879.5 680.1L883.2 682.3L886.2 687.4L885.0 693.2L878.9 698.6L883.2 699.1L888.0 702.7L897.8 715.1L905.1 715.9L916.0 710.0L924.5 710.8L935.5 704.9L946.4 703.2L954.9 703.2L967.1 699.1L976.8 693.2L982.3 694.7L979.9 704.2L981.1 713.7L978.0 717.3L977.4 729.7L970.7 743.6L965.3 751.6L958.6 768.4L955.5 778.6L947.6 793.2L942.8 802.0M754.9 430.4L756.7 435.5L762.8 445.8L767.6 455.3L775.5 462.6L778.0 457.4L781.0 445.8L784.1 437.0L784.1 439.2L781.6 450.1L779.8 457.4L786.5 458.2L793.2 467.7L802.9 486.6L811.4 502.7L815.1 512.9L826.6 521.7L832.7 532.6L834.5 546.5L835.1 555.3L841.2 568.4L854.0 579.4L860.1 594.7L866.8 607.1L873.4 615.1L878.3 626.8L879.5 635.6L878.3 644.3L882.0 655.3L885.0 668.4L885.0 674.2L888.0 682.3L896.5 683.7L906.3 681.6L914.2 672.8L927.0 672.1L935.5 668.4L951.3 662.6L962.2 651.6L969.5 648.7L981.1 645.8L993.8 639.9L993.8 631.2L1004.8 624.6L1016.9 619.5L1030.9 612.2L1031.5 615.9L1043.7 605.6L1046.7 596.9L1054.6 591.8L1061.9 591.0L1060.7 580.1L1062.5 572.1L1070.5 569.9L1074.7 559.6L1081.4 554.5L1086.3 542.1L1086.3 538.5L1080.2 534.8L1071.7 523.1L1061.9 520.2L1054.6 518.0L1050.4 513.7L1044.3 503.4L1044.3 493.9L1044.9 485.2L1042.5 485.2L1040.7 487.4L1040.0 492.5L1034.0 495.4L1029.7 502.0L1023.6 506.4L1015.7 515.1L1008.4 515.8L998.7 514.4L989.0 517.3L986.5 513.7L984.1 507.8L986.5 499.8L986.5 489.6L982.9 485.9L979.2 488.1L976.8 495.4L976.8 506.4L973.8 502.7L969.5 493.2L969.5 483.7L967.1 477.9L962.2 471.3L953.7 464.7L950.1 458.2L947.6 450.9L944.0 439.9L939.1 438.8L942.2 430.4L949.4 430.4L954.3 424.6L961.6 429.0L968.3 426.8L976.8 442.8L985.3 460.4L998.7 466.9L1009.6 477.2L1024.2 480.8L1035.2 476.4L1043.7 471.3L1052.2 475.7L1055.9 488.8L1061.3 493.2L1070.5 493.9L1083.8 496.9L1106.9 499.8L1128.8 499.8L1144.6 499.1L1151.9 498.3M936.7 239.9L937.3 229.7L933.6 222.4L927.0 216.5L934.2 207.8L942.8 199.8L953.7 195.4L957.4 190.3L967.1 187.3L979.2 183.0L993.8 180.0L1003.6 183.0L1004.8 190.3L1003.6 206.3L993.8 204.9L982.9 207.8L981.7 217.3L970.7 220.9L978.0 225.3L982.9 237.7L996.3 242.8L1000.5 254.5L997.5 261.8L1003.6 267.6L1015.7 261.8L1024.2 269.1L1015.7 273.5L1003.6 274.2L1001.1 283.7L1009.6 283.7L1003.6 293.9L1012.7 298.3L1014.5 313.6L1015.7 327.5L1003.6 329.7L989.0 333.3L976.8 329.7L967.1 320.9L954.9 319.5L953.1 307.8L953.1 301.2L958.6 293.9L961.0 280.8L971.3 279.3L961.6 274.2L956.1 264.7L948.8 256.0L941.5 247.2L936.7 239.9M1003.6 267.6L1007.2 260.3L1015.7 251.6L1024.2 256.0L1024.2 269.1M1066.8 210.7L1068.0 229.7L1079.0 232.6L1091.1 231.1L1100.9 220.9L1106.9 210.7L1103.3 191.7L1096.0 185.9L1083.8 191.7L1079.0 197.6L1071.7 201.9L1066.8 210.7M153.5 453.8L158.4 452.8L162.6 450.4L159.6 456.7L155.9 458.9L153.5 453.8M166.9 458.9L169.3 456.4L172.1 458.9L169.9 462.6L166.9 461.1L166.9 458.9M182.7 457.4L186.3 456.0L190.6 448.0L189.4 456.0L185.1 458.2L182.7 457.4M190.6 445.8L195.5 441.4L194.9 445.0L190.6 445.8M140.7 447.2L143.2 446.5L142.6 451.6L140.7 447.2M148.6 456.0L151.1 457.4L149.2 458.5L148.6 456.0M138.9 462.6L141.3 461.8L140.1 464.0L138.9 462.6M149.2 388.1L155.9 389.6L152.9 391.0L149.2 388.1M1007.2 684.5L1015.7 683.0L1021.8 684.5L1016.9 687.4L1009.6 687.4L1007.2 684.5M972.6 485.2L974.4 485.2L974.4 490.3L972.6 488.1L972.6 485.2M1031.5 478.6L1042.5 474.2L1038.8 477.9L1031.5 478.6M251.0 256.0L259.3 252.3L260.5 257.4L271.5 256.0L279.4 255.2L283.6 260.3L275.1 268.4L276.3 278.6L273.9 280.8L273.9 288.5L267.2 288.8L270.3 291.7L274.5 297.6L270.3 306.3L273.9 310.0L267.8 319.5L269.0 324.9M337.4 234.5L342.0 239.2L349.9 240.6L359.0 244.3L367.5 242.1L376.7 245.7L380.3 247.2L389.4 249.4L397.6 248.2M390.0 121.9L394.3 127.5L403.4 133.3L409.5 138.0L418.0 135.5L418.0 140.6L425.3 145.0L429.6 144.3L436.3 145.4M400.0 117.7L406.5 119.9L410.7 117.7L419.8 116.5L430.2 120.9L428.3 126.8L432.0 126.8M432.0 126.8L434.4 130.4L436.3 133.3L433.2 135.8L438.1 140.6L436.3 145.4M429.6 144.3L429.0 139.9L433.2 135.8M432.0 126.8L433.2 120.9L431.4 111.4L440.5 110.0L441.1 107.0L444.8 104.9L440.5 99.0L444.8 99.0L446.6 91.0L446.6 89.5M436.3 145.4L441.1 150.1L449.0 150.1L458.7 152.7L453.9 159.6L450.8 166.9L451.5 173.0M451.5 173.0L444.2 174.2L442.9 177.1L437.5 183.0L433.2 188.1L433.2 192.5L441.7 189.8L441.7 194.6L444.8 197.3M444.8 197.3L441.7 199.0L445.4 204.1L439.9 209.2L444.2 215.1L442.9 220.2L452.1 223.1L450.6 228.5M444.8 197.3L454.5 197.3L461.8 189.5L467.9 198.3L472.1 188.8L481.9 192.5L486.1 183.7M451.5 173.0L462.4 172.7L463.6 169.8L475.2 173.5L475.8 180.8L486.1 183.7M475.2 173.5L483.1 177.1L491.6 174.2L507.4 172.7L517.1 174.2L514.1 165.4L522.6 158.9L527.2 155.7M527.2 155.7L512.3 145.7L506.2 133.3L516.5 131.9L532.9 122.4L539.0 125.0M539.0 125.0L541.4 118.7L536.6 111.4L538.4 107.0L536.0 102.7L531.1 96.1L534.1 89.5L531.7 80.8M464.2 66.2L474.0 67.6L480.6 72.0L482.5 74.2L492.2 73.8L489.8 79.3L498.3 80.0L506.2 77.1L511.0 72.4L517.1 73.0L525.0 77.8L531.7 80.5L532.9 83.7L536.6 81.5L547.5 77.1L557.3 74.9L565.8 69.8L577.9 67.2L582.8 67.6L587.7 70.2L583.4 69.8L584.6 73.5L589.5 74.2L598.0 72.7L601.0 69.8L602.2 65.4L609.5 64.0M518.3 71.3L522.0 69.4L525.0 71.3L525.6 74.9L520.8 75.7L518.3 71.3M492.2 66.9L498.9 67.2L506.8 66.9L504.4 70.8L497.7 70.2L492.2 66.9M474.0 67.6L475.8 64.0M477.0 66.2L481.2 66.5L479.4 64.0M488.5 64.0L489.8 68.4L492.2 64.7M539.0 125.0L545.1 126.0L553.6 128.9L557.9 128.2L564.6 131.9L562.1 136.2L574.3 133.3L577.9 137.7L588.3 144.7M588.3 144.7L596.2 144.0L599.8 149.4L603.5 149.4L609.5 146.5L621.7 146.0L633.3 151.1M633.3 151.1L635.1 144.3L647.2 131.9L652.1 125.3L646.0 115.8L646.6 107.8L641.2 104.1L649.7 98.3L649.7 91.0L644.8 80.0M644.8 80.0L636.3 74.2L598.0 72.7M644.8 80.0L655.8 80.8L669.7 74.9L672.8 66.2L682.5 63.2M636.3 74.2L635.7 66.2L626.6 63.5M646.0 115.8L654.5 112.2L666.7 110.0L689.8 114.3L708.1 116.5L723.9 115.8L730.5 118.7L735.4 107.8L745.8 107.0M745.8 107.0L742.7 96.8L754.3 89.5L749.4 82.2L739.7 80.0L736.0 69.1L733.6 63.2M745.8 107.0L753.0 104.1L770.1 103.4L777.4 111.4L774.9 119.5L785.9 120.2L792.0 131.9L800.5 133.3L815.1 131.9L821.1 139.2L835.7 139.9L847.3 143.5L843.0 155.2L844.9 163.2L843.0 169.1L831.5 169.1L824.2 180.0M527.2 155.7L537.8 158.1L541.4 152.3L554.8 156.0L565.2 158.1L568.2 154.5L576.7 152.3L579.1 150.8L588.3 144.7M565.2 158.1L567.0 165.4L567.0 166.9L559.7 171.3L559.1 175.7L554.8 183.4M486.1 183.7L492.8 184.9L506.8 180.3L509.8 185.9L525.6 188.5L536.0 190.3L549.3 185.9L554.8 183.4M525.6 188.5L522.0 193.2L524.4 197.6L525.9 201.9M524.4 203.7L536.6 201.2L545.1 204.1L549.3 198.3L550.0 193.2L560.3 188.8M554.8 183.4L560.9 189.2M560.9 189.2L569.4 196.5L588.9 197.3M567.0 166.9L576.1 170.6L587.7 169.5L590.1 165.9L601.0 164.7L608.3 159.6L619.3 158.9L628.4 161.1M628.4 161.1L633.3 151.1M628.4 161.1L637.5 166.9L626.6 175.7L616.2 191.7L605.5 194.2M605.5 194.2L596.8 193.6L588.9 197.3M588.9 197.3L590.7 203.4L595.0 207.8L590.1 212.6M590.1 212.6L577.9 208.8L564.6 207.1L553.6 207.8L550.6 213.6L556.0 222.4L565.8 231.9L573.7 239.2L583.4 246.2L584.3 248.2M590.1 212.6L594.3 216.5L591.3 220.9L597.4 224.6L593.7 231.9L592.5 232.6L586.4 236.2L583.4 246.2M592.5 232.6L601.6 238.4L606.5 242.1L602.9 246.5M602.9 246.5L597.4 246.5L593.7 251.6L594.6 256.7M602.9 246.5L609.5 256.0L608.3 264.7L610.8 270.6L614.4 271.3M614.4 271.3L610.8 282.2L605.9 286.6L602.2 288.1M614.4 271.3L624.1 269.8L635.7 264.7L638.1 264.0M609.5 256.0L620.5 250.9L630.8 250.1M630.8 250.1L638.7 258.2L638.1 264.0M638.1 264.0L657.0 262.5L666.7 265.5L679.5 258.9M675.8 273.0L679.5 269.8L682.5 264.0L679.5 258.9L691.0 253.0L699.5 254.8M630.8 250.1L632.7 242.1L638.7 237.0L630.8 228.2L634.5 222.4M634.5 222.4L638.7 228.2L657.0 229.0L670.4 230.4L687.4 223.8L699.5 228.2L706.6 229.0M634.5 222.4L632.0 215.1L619.3 213.6L620.5 208.5L612.0 199.8L605.5 194.2M637.5 166.9L658.2 167.6L677.6 166.9L682.5 163.2M682.5 163.2L693.5 174.2L700.8 183.0L702.0 203.8M702.0 203.8L720.2 207.8M682.5 163.2L697.1 160.3L713.5 167.6L723.3 184.4L725.1 190.3L711.1 196.1L702.0 203.8M533.5 208.5L535.4 211.4L534.1 215.8L532.9 212.2L533.5 208.5M535.4 207.8L539.0 210.0L537.2 211.4L535.4 207.8M538.4 215.1L544.5 220.9L542.1 220.2L538.4 215.1M539.0 220.2L543.9 226.0L541.4 223.8L539.0 220.2M558.5 234.8L564.6 235.5L561.5 236.0L558.5 234.8M558.5 237.0L568.2 238.1L562.1 238.1L558.5 237.0M561.5 240.3L568.2 240.6L564.6 241.4L561.5 240.3M569.4 242.8L574.9 244.0L570.6 243.8L569.4 242.8M961.7 180.3L954.3 186.5L943.4 173.7L934.2 168.2L928.8 160.9L925.1 149.9L928.8 142.6L932.4 133.5L943.4 131.6L950.7 137.1L952.5 128.0L961.7 122.5L972.6 117.0L979.9 111.5L994.6 111.5L1005.5 117.0L1016.5 122.5L1022.0 129.8L1023.8 124.3L1034.8 126.2L1045.8 122.5L1060.4 122.5L1071.3 124.3L1084.1 129.8L1089.6 126.2L1104.3 120.7L1107.9 115.2L1093.3 107.9L1089.6 100.6L1100.6 95.1L1098.8 87.8L1106.1 80.5L1126.2 76.8L1150.0 73.1M845.5 234.1L857.6 234.1L875.9 237.0L892.9 245.7L905.1 243.6L914.8 247.2L923.9 256.0M923.9 256.0L934.2 264.7L941.5 266.2L949.4 256.7M864.3 261.5L877.1 260.3L887.4 267.6L906.3 264.7L918.4 266.2L926.3 264.7L923.9 256.0M887.4 267.6L890.5 282.2L903.8 288.1M906.3 264.7L913.6 272.0L918.4 280.8L913.6 284.4L925.1 290.3L924.5 300.1M903.8 288.1L908.7 289.5L916.0 292.5L920.3 300.5M903.8 288.8L899.0 292.5L894.7 293.2L897.8 300.5L897.8 307.1L900.2 316.6L903.8 325.3M903.8 288.8L911.8 298.3L920.3 300.5L924.5 300.1L930.6 295.4L942.8 288.1L946.4 292.5L942.8 300.5L950.1 307.1L953.5 306.6M795.9 343.1L799.3 344.3L805.3 338.5L804.1 330.4L810.2 332.6L821.1 330.0L833.3 331.9L854.0 326.0L874.1 326.0M874.1 326.0L882.0 322.4L894.1 323.1L903.8 325.3M874.1 326.0L861.3 336.3L862.5 347.9L857.6 365.5L830.9 380.5M830.9 380.5L807.2 396.1L793.8 390.0M796.2 361.8L802.3 362.5L804.1 368.4L796.8 377.1L795.0 380.1L792.0 382.0L785.9 384.4M795.0 380.1L793.8 390.0L791.4 394.7L791.4 404.2L790.1 413.6L786.5 426.8L784.1 436.3M791.4 394.7L787.1 392.5L784.1 397.6L784.7 402.7L787.1 404.2L784.1 406.3L784.7 410.0L790.1 407.8M791.4 404.2L789.5 407.8L790.1 413.6L791.4 409.3L791.4 404.2M775.5 411.9L778.6 420.9L783.5 437.0M778.6 406.3L779.2 407.8L776.8 411.0M784.2 439.0L797.7 441.4L802.9 437.0L815.1 429.7L821.1 422.4L809.0 407.8L833.3 400.5L835.7 398.3L830.9 380.5M835.7 398.3L850.3 401.2L871.0 413.6L902.6 441.4L923.3 443.4L925.1 442.8M925.1 442.8L931.8 430.4L939.1 428.2L942.2 430.0M925.1 442.8L936.1 444.3L939.1 451.2L947.9 450.9M903.8 325.3L906.3 331.2L911.1 342.1L919.7 346.5L920.3 355.2L914.2 363.3L911.1 372.0L919.7 384.4L935.5 393.9L940.9 403.4L939.1 415.1L942.8 422.4L949.4 430.7M883.8 619.0L885.8 613.1L891.7 614.1L899.7 613.1L909.6 618.1L922.5 625.0L923.1 634.9M924.5 636.9L935.4 623.0M936.4 621.0L952.3 601.2L984.0 592.3M997.9 587.3L1028.7 575.4L1035.6 545.6L1031.6 539.7M991.0 590.3L1004.8 624.0M988.0 516.9L997.9 531.7L1029.6 537.1L1034.6 517.9L1039.6 514.9L1038.6 504.0M1041.0 487.4L1041.9 493.2L1044.3 493.9M976.8 506.4L979.9 509.3L984.1 508.5L986.5 507.8M1014.5 322.4L1025.5 320.9L1033.4 311.4L1044.3 311.7L1054.6 309.3L1069.2 318.0L1080.8 320.2L1093.0 332.6L1102.7 333.3L1103.3 347.2M1103.3 347.2L1102.1 359.6L1094.8 369.8L1095.4 376.4L1099.6 377.9L1096.0 387.4L1099.0 400.5L1099.0 407.8L1109.4 409.3L1110.6 417.3L1099.3 431.7M1099.3 431.7L1111.8 450.9L1122.7 455.3L1122.7 469.9L1128.8 471.3L1127.6 478.6L1111.2 484.5L1108.2 499.8M1099.3 431.7L1119.1 438.5L1138.6 438.5L1151.9 436.3M1103.3 347.2L1116.7 353.8L1126.4 350.1L1126.4 344.3L1143.4 337.7L1147.1 326.0L1153.1 323.9M1153.1 305.6L1139.8 299.0L1133.7 293.2L1117.9 283.7L1111.8 267.6L1094.2 265.5L1089.9 257.4L1088.1 251.6L1071.7 242.8L1057.1 251.6L1052.2 264.7L1040.0 264.7M1040.0 264.7L1040.0 210.7L1071.7 202.7M1100.9 220.9L1113.0 232.6L1128.8 230.4L1148.3 229.7L1153.1 234.1M996.9 258.2L1003.6 253.0L1018.2 249.4L1025.5 254.5L1033.4 264.7L1040.0 264.7M332.3 355.5L337.7 360.4L338.4 375.7L339.0 382.3L343.8 393.2L343.8 399.0L323.8 399.8L314.6 405.6L314.6 415.1L299.4 422.4L292.1 431.2L273.9 436.3L253.6 448.7L253.6 469.1M198.9 463.7L253.6 463.7M253.6 469.1L253.6 488.1L213.1 488.1L213.1 525.3L208.2 527.5L200.9 534.8L199.7 546.5L199.7 556.3L152.9 556.3M253.6 469.1L300.3 502.7L373.0 559.6L373.3 565.5L380.9 571.3L397.9 578.6L399.2 590.3L410.7 588.1M300.3 502.7L280.0 502.7L294.0 629.7L292.1 641.4L245.9 641.4L228.9 642.9L219.2 639.2L215.5 650.2L210.1 652.1M410.7 588.1L429.6 583.7L449.6 563.3L504.6 524.3M504.6 524.3L499.5 512.9L483.7 508.5L481.2 504.9L473.3 486.6L478.8 480.8L479.4 458.9L478.8 448.0L475.2 426.3M475.2 426.3L469.1 399.0L460.0 389.6L450.2 375.0L450.5 369.8L459.4 361.8L460.6 353.1L460.0 335.5L464.2 328.2M475.2 426.3L479.4 424.6L483.7 416.6L484.3 404.2L487.9 401.2L498.3 395.4L498.9 383.7M504.6 524.3L531.7 537.7L541.4 531.9L553.6 525.3L650.9 583.0M650.9 583.0L650.9 575.7L663.1 575.7L663.1 546.5L663.1 440.7L659.4 427.5L661.8 422.4L664.9 405.6M663.1 546.5L739.7 546.5L740.9 543.6L742.1 546.5L764.0 546.5M763.2 546.4L768.0 549.9L773.4 545.1L779.1 541.3L783.2 535.6L789.3 533.1L790.9 526.1M650.9 583.0L650.9 638.5L638.1 640.7L632.7 660.4L627.8 677.9L624.7 683.0L632.0 692.5L637.5 701.3L638.1 708.6M638.1 708.6L622.9 712.9L612.0 733.4L590.1 737.8L587.7 742.1L565.8 753.8L547.5 758.2M638.1 708.6L646.6 723.2L644.2 737.0L654.5 746.5L665.5 756.7L680.1 771.3L692.2 793.2L693.5 796.2M802.3 659.7L798.7 682.3L792.6 683.7L785.9 695.4L784.1 708.6L776.2 713.7L773.7 729.0L773.7 742.1L763.4 745.1L760.3 752.4L768.9 755.3L781.0 769.9L788.3 788.9L794.4 790.3L796.2 800.5M802.3 659.7L816.3 661.8L819.9 650.2L826.6 657.5L834.5 654.5L847.9 656.7L860.1 670.6L874.7 685.6M802.3 659.7L803.5 647.2L808.4 630.5L813.9 618.8L828.4 604.9M874.7 685.6L883.2 682.3M874.7 685.6L867.4 697.6L866.8 707.1L881.3 707.4L885.0 700.2M881.3 707.4L878.3 713.7L889.3 731.2L894.1 736.3L930.6 750.9L942.8 750.9L905.7 795.4M541.4 531.9L543.9 553.8L553.0 570.6L550.6 577.2L547.5 621.0L534.1 638.5L523.2 657.5L524.4 667.7M524.4 667.7L530.5 677.2L536.0 681.6L540.2 689.6L542.1 706.4L542.7 714.4L548.1 721.7L531.7 722.0L528.7 727.5L540.2 739.2L547.5 758.2M463.6 797.6L466.7 782.3L478.2 768.4L487.9 764.8L496.4 771.3L503.1 764.0L508.0 745.1L514.7 739.2L520.8 720.2L526.2 707.1L536.6 699.8L531.7 686.7L530.5 677.2M547.5 758.2L537.8 777.2L535.4 790.3L536.6 796.2M402.8 696.9L407.7 680.8L409.5 670.6L425.9 664.8L442.9 677.9L462.4 677.2L475.8 680.8L489.2 672.8L511.0 676.4L524.4 667.7M410.7 588.1L410.7 621.0L410.1 628.3L401.6 642.9L374.8 644.3L361.8 650.2L363.9 663.3L371.2 672.8L384.6 682.3L388.2 694.0M361.8 650.2L350.5 648.0L334.7 660.4L323.8 668.4L317.7 675.0L306.7 675.7L305.5 688.1L294.6 695.4L292.1 715.9M370.0 707.1L376.7 700.5L387.0 688.9L393.7 686.7L402.8 696.9L402.8 715.9L396.7 734.8L392.5 750.9L391.9 774.7M357.2 705.6L370.0 707.1L368.8 715.9L375.4 729.0L378.5 750.9L378.9 776.5M357.2 705.6L359.0 712.9L363.3 729.0L365.7 748.0L366.3 768.4L373.6 778.6M357.2 705.6L324.4 707.1L326.2 729.0L325.6 752.4L320.1 768.4L323.8 785.9L321.3 793.2M326.2 729.0L303.1 726.1L292.1 715.9L283.6 711.5L261.7 718.8L266.0 730.5L261.7 743.6L256.3 757.5M256.3 757.5L258.1 774.3L268.4 782.3L267.2 804.2M256.3 757.5L245.3 756.7L241.1 744.3L233.8 743.6L230.1 735.6L222.8 721.7L207.0 723.2L197.3 735.6M233.8 743.6L230.1 754.6L219.2 766.5M261.7 718.8L258.1 706.4L252.0 699.8L245.9 685.2L228.9 692.5L220.4 686.7M220.4 686.7L220.4 678.6L213.1 663.3L210.1 652.1L202.8 644.3L196.1 632.6L185.1 625.3L175.4 624.6L160.8 626.8L158.4 633.4M220.4 686.7L192.4 682.7L174.2 682.6L155.7 687.4M192.4 682.7L192.4 696.9L180.3 699.8L176.6 707.8M154.7 669.1L170.5 669.1L176.6 666.2L188.8 669.9L191.2 672.8L176.6 675.7L166.9 675.7L155.3 676.9M357.8 742.1L352.9 748.0L356.6 752.4L351.7 756.7L357.8 761.1L360.2 755.3L356.6 765.5L360.9 767.0L358.4 772.1L360.2 775.7M359.0 756.7L365.1 761.1L361.5 764.0M810.2 688.1L815.1 689.6L816.3 695.4L811.4 696.9L810.2 688.1M56.2 618.8L55.5 617.7L53.8 617.3L52.1 617.7L51.4 618.8L52.1 619.8L53.8 620.2L55.5 619.8L56.2 618.8M56.8 621.7L56.5 621.0L55.6 620.7L54.7 621.0L54.4 621.7L54.7 622.4L55.6 622.7L56.5 622.4L56.8 621.7M66.2 625.3L65.4 624.7L63.5 624.5L61.6 624.7L60.8 625.3L61.6 626.0L63.5 626.2L65.4 626.0L66.2 625.3M81.0 623.2L80.8 621.7L80.3 621.1L79.8 621.7L79.6 623.2L79.8 624.6L80.3 625.2L80.8 624.6L81.0 623.2M83.6 632.6L83.0 631.3L81.8 630.7L80.5 631.3L79.9 632.6L80.5 634.0L81.8 634.5L83.0 634.0L83.6 632.6M78.5 645.8L78.2 644.7L77.5 644.3L76.8 644.7L76.5 645.8L76.8 646.8L77.5 647.2L78.2 646.8L78.5 645.8M73.7 647.5L73.2 645.5L71.8 644.6L70.4 645.5L69.8 647.5L70.4 649.6L71.8 650.5L73.2 649.6L73.7 647.5M64.1 649.7L63.7 648.7L62.7 648.3L61.6 648.7L61.2 649.7L61.6 650.8L62.7 651.2L63.7 650.8L64.1 649.7M59.4 650.9L59.2 650.4L58.6 650.2L58.1 650.4L57.9 650.9L58.1 651.4L58.6 651.6L59.2 651.4L59.4 650.9M162.0 698.3L165.7 700.5L163.2 703.5L166.9 704.2L164.4 707.1L168.1 706.4M169.3 696.2L173.0 698.3L170.5 700.5L174.2 702.0L171.7 704.2M176.6 694.0L173.0 694.0L176.0 696.2M159.6 689.6L164.4 688.9L160.8 691.8L165.7 692.5M198.5 743.6L201.5 742.9L199.7 746.5M205.8 756.7L209.4 757.5L207.0 758.9M191.2 727.5L194.2 726.8L192.4 729.7M747.0 407.8L750.6 410.7L747.0 410.7M845.5 638.5L849.1 635.6L847.9 639.9L845.5 638.5M867.4 622.4L871.0 621.0L869.8 624.6L867.4 622.4M489.8 373.5L493.4 374.2L491.6 375.7L489.8 373.5M494.0 360.4L496.4 359.6L494.6 361.8L494.0 360.4M420.4 99.0L423.5 97.6L421.0 101.9M779.8 196.1L784.7 196.8L781.0 199.0L785.9 201.9M937.9 200.5L942.8 196.1L947.6 197.6L951.3 193.2L954.9 194.6M662.9 315.1L662.4 313.9L661.2 313.3L660.0 313.9L659.5 315.1L660.0 316.3L661.2 316.8L662.4 316.3L662.9 315.1M666.3 318.7L665.9 318.0L664.9 317.7L663.8 318.0L663.4 318.7L663.8 319.5L664.9 319.8L665.9 319.5L666.3 318.7M668.6 320.9L668.4 320.3L667.7 320.1L667.0 320.3L666.7 320.9L667.0 321.5L667.7 321.8L668.4 321.5L668.6 320.9M662.8 321.2L662.6 320.4L662.1 320.1L661.6 320.4L661.4 321.2L661.6 322.0L662.1 322.4L662.6 322.0L662.8 321.2M655.6 318.4L655.4 317.5L654.9 317.1L654.4 317.5L654.2 318.4L654.4 319.4L654.9 319.8L655.4 319.4L655.6 318.4M656.6 321.7L656.4 320.7L656.0 320.3L655.6 320.7L655.4 321.7L655.6 322.6L656.0 323.0L656.4 322.6L656.6 321.7M657.7 325.3L657.5 324.7L657.0 324.4L656.5 324.7L656.2 325.3L656.5 325.9L657.0 326.2L657.5 325.9L657.7 325.3M660.0 327.9L659.8 327.1L659.4 326.8L659.0 327.1L658.8 327.9L659.0 328.8L659.4 329.1L659.8 328.8L660.0 327.9M657.5 331.9L657.1 331.2L656.1 330.9L655.2 331.2L654.8 331.9L655.2 332.6L656.1 332.9L657.1 332.6L657.5 331.9M666.5 326.8L666.1 325.6L665.2 325.2L664.4 325.6L664.0 326.8L664.4 327.9L665.2 328.4L666.1 327.9L666.5 326.8M667.8 331.6L667.6 330.8L667.1 330.4L666.6 330.8L666.3 331.6L666.6 332.4L667.1 332.8L667.6 332.4L667.8 331.6M669.1 336.3L668.9 335.5L668.3 335.2L667.7 335.5L667.4 336.3L667.7 337.0L668.3 337.3L668.9 337.0L669.1 336.3M675.7 330.0L675.2 329.5L674.0 329.3L672.8 329.5L672.3 330.0L672.8 330.5L674.0 330.7L675.2 330.5L675.7 330.0M673.3 336.8L673.1 336.4L672.5 336.3L672.0 336.4L671.8 336.8L672.0 337.3L672.5 337.4L673.1 337.3L673.3 336.8M662.7 333.0L662.4 332.6L661.8 332.5L661.2 332.6L661.0 333.0L661.2 333.5L661.8 333.6L662.4 333.5L662.7 333.0M682.5 322.8L682.3 322.2L681.9 322.0L681.5 322.2L681.3 322.8L681.5 323.4L681.9 323.7L682.3 323.4L682.5 322.8M686.2 325.3L686.0 324.6L685.6 324.3L685.1 324.6L684.9 325.3L685.1 326.0L685.6 326.3L686.0 326.0L686.2 325.3M688.1 327.8L687.8 327.2L687.1 326.9L686.4 327.2L686.2 327.8L686.4 328.4L687.1 328.7L687.8 328.4L688.1 327.8M690.1 333.6L689.9 333.2L689.4 333.0L689.0 333.2L688.8 333.6L689.0 334.0L689.4 334.2L689.9 334.0L690.1 333.6M692.7 335.8L692.5 335.3L691.9 335.1L691.3 335.3L691.0 335.8L691.3 336.3L691.9 336.6L692.5 336.3L692.7 335.8M698.2 333.3L698.0 332.7L697.5 332.5L697.0 332.7L696.7 333.3L697.0 334.0L697.5 334.2L698.0 334.0L698.2 333.3M680.7 334.1L680.3 333.6L679.5 333.3L678.6 333.6L678.3 334.1L678.6 334.6L679.5 334.8L680.3 334.6L680.7 334.1M687.4 350.9L687.1 350.4L686.4 350.3L685.7 350.4L685.4 350.9L685.7 351.3L686.4 351.4L687.1 351.3L687.4 350.9M679.5 318.7L678.8 318.1L677.0 317.9L675.3 318.1L674.6 318.7L675.3 319.4L677.0 319.6L678.8 319.4L679.5 318.7M645.3 295.8L645.1 295.4L644.4 295.2L643.8 295.4L643.6 295.8L643.8 296.2L644.4 296.4L645.1 296.2L645.3 295.8M648.3 296.5L648.0 295.9L647.2 295.7L646.5 295.9L646.2 296.5L646.5 297.2L647.2 297.4L648.0 297.2L648.3 296.5M650.7 295.4L650.4 294.8L649.7 294.5L649.0 294.8L648.7 295.4L649.0 296.0L649.7 296.3L650.4 296.0L650.7 295.4M658.8 300.2L658.4 299.0L657.6 298.4L656.7 299.0L656.4 300.2L656.7 301.4L657.6 302.0L658.4 301.4L658.8 300.2M671.4 276.8L671.0 276.2L670.0 276.0L669.0 276.2L668.5 276.8L669.0 277.5L670.0 277.7L671.0 277.5L671.4 276.8M675.2 281.2L674.7 280.6L673.4 280.3L672.1 280.6L671.6 281.2L672.1 281.8L673.4 282.1L674.7 281.8L675.2 281.2M676.4 286.3L676.3 285.9L675.8 285.7L675.4 285.9L675.2 286.3L675.4 286.7L675.8 286.9L676.3 286.7L676.4 286.3M663.7 290.6L663.5 290.0L663.1 289.8L662.6 290.0L662.4 290.6L662.6 291.1L663.1 291.3L663.5 291.1L663.7 290.6M670.7 304.6L670.5 304.2L670.1 304.0L669.7 304.2L669.5 304.6L669.7 305.0L670.1 305.2L670.5 305.0L670.7 304.6M639.5 338.5L639.2 337.2L638.5 336.7L637.8 337.2L637.5 338.5L637.8 339.7L638.5 340.2L639.2 339.7L639.5 338.5M613.2 316.1L612.8 314.9L611.7 314.4L610.7 314.9L610.3 316.1L610.7 317.4L611.7 317.9L612.8 317.4L613.2 316.1M611.0 302.4L610.8 300.9L610.2 300.3L609.6 300.9L609.3 302.4L609.6 303.8L610.2 304.4L610.8 303.8L611.0 302.4M611.2 307.1L611.1 306.1L610.8 305.7L610.4 306.1L610.3 307.1L610.4 308.0L610.8 308.4L611.1 308.0L611.2 307.1M645.4 316.8L645.2 316.3L644.6 316.1L644.0 316.3L643.7 316.8L644.0 317.4L644.6 317.6L645.2 317.4L645.4 316.8M645.5 322.7L645.2 322.4L644.4 322.2L643.7 322.4L643.4 322.7L643.7 323.0L644.4 323.1L645.2 323.0L645.5 322.7M645.7 313.6L645.4 313.2L644.8 313.0L644.2 313.2L644.0 313.6L644.2 314.0L644.8 314.2L645.4 314.0L645.7 313.6M696.1 274.9L695.7 274.4L694.7 274.2L693.6 274.4L693.2 274.9L693.6 275.5L694.7 275.7L695.7 275.5L696.1 274.9M677.6 283.0L680.1 281.5L683.7 277.9M1075.3 569.6L1075.0 567.0L1074.1 565.9L1073.2 567.0L1072.9 569.6L1073.2 572.1L1074.1 573.2L1075.0 572.1L1075.3 569.6" fill="none" stroke="#000" stroke-width="1.1" stroke-linejoin="round" stroke-linecap="round" shape-rendering="crispEdges"/>
</g>
<rect x="55.0" y="64.7" width="1094.5" height="730.0" fill="none" stroke="#000" stroke-width="2.4"/>
<path d="M115.8 794.7 v6M237.4 794.7 v6M359.0 794.7 v6M480.6 794.7 v6M602.2 794.7 v6M723.9 794.7 v6M845.5 794.7 v6M967.1 794.7 v6M1088.7 794.7 v6M55.0 794.7 h-6.5M55.0 721.7 h-6.5M55.0 648.7 h-6.5M55.0 575.7 h-6.5M55.0 502.7 h-6.5M55.0 429.7 h-6.5M55.0 356.7 h-6.5M55.0 283.7 h-6.5M55.0 210.7 h-6.5M55.0 137.7 h-6.5M55.0 64.7 h-6.5" stroke="#000" stroke-width="2" fill="none"/>
<text x="45.4" y="801.4" font-size="18.5" text-anchor="end" textLength="20.4" lengthAdjust="spacingAndGlyphs" stroke="#000" stroke-width="0.35">5N</text>
<text x="45.4" y="728.4" font-size="18.5" text-anchor="end" textLength="30.4" lengthAdjust="spacingAndGlyphs" stroke="#000" stroke-width="0.35">10N</text>
<text x="45.4" y="655.4" font-size="18.5" text-anchor="end" textLength="30.4" lengthAdjust="spacingAndGlyphs" stroke="#000" stroke-width="0.35">15N</text>
<text x="45.4" y="582.4" font-size="18.5" text-anchor="end" textLength="30.4" lengthAdjust="spacingAndGlyphs" stroke="#000" stroke-width="0.35">20N</text>
<text x="45.4" y="509.4" font-size="18.5" text-anchor="end" textLength="30.4" lengthAdjust="spacingAndGlyphs" stroke="#000" stroke-width="0.35">25N</text>
<text x="45.4" y="436.4" font-size="18.5" text-anchor="end" textLength="30.4" lengthAdjust="spacingAndGlyphs" stroke="#000" stroke-width="0.35">30N</text>
<text x="45.4" y="363.4" font-size="18.5" text-anchor="end" textLength="30.4" lengthAdjust="spacingAndGlyphs" stroke="#000" stroke-width="0.35">35N</text>
<text x="45.4" y="290.4" font-size="18.5" text-anchor="end" textLength="30.4" lengthAdjust="spacingAndGlyphs" stroke="#000" stroke-width="0.35">40N</text>
<text x="45.4" y="217.4" font-size="18.5" text-anchor="end" textLength="30.4" lengthAdjust="spacingAndGlyphs" stroke="#000" stroke-width="0.35">45N</text>
<text x="45.4" y="144.4" font-size="18.5" text-anchor="end" textLength="30.4" lengthAdjust="spacingAndGlyphs" stroke="#000" stroke-width="0.35">50N</text>
<text x="45.4" y="71.4" font-size="18.5" text-anchor="end" textLength="30.4" lengthAdjust="spacingAndGlyphs" stroke="#000" stroke-width="0.35">55N</text>
<text x="116.3" y="816.4" font-size="18.5" text-anchor="middle" textLength="32.0" lengthAdjust="spacingAndGlyphs" stroke="#000" stroke-width="0.35">20W</text>
<text x="237.9" y="816.4" font-size="18.5" text-anchor="middle" textLength="32.0" lengthAdjust="spacingAndGlyphs" stroke="#000" stroke-width="0.35">10W</text>
<text x="359.0" y="816.4" font-size="18.5" text-anchor="middle" textLength="10.0" lengthAdjust="spacingAndGlyphs" stroke="#000" stroke-width="0.35">0</text>
<text x="481.1" y="816.4" font-size="18.5" text-anchor="middle" textLength="29.0" lengthAdjust="spacingAndGlyphs" stroke="#000" stroke-width="0.35">10E</text>
<text x="602.8" y="816.4" font-size="18.5" text-anchor="middle" textLength="29.0" lengthAdjust="spacingAndGlyphs" stroke="#000" stroke-width="0.35">20E</text>
<text x="724.4" y="816.4" font-size="18.5" text-anchor="middle" textLength="29.0" lengthAdjust="spacingAndGlyphs" stroke="#000" stroke-width="0.35">30E</text>
<text x="846.0" y="816.4" font-size="18.5" text-anchor="middle" textLength="29.0" lengthAdjust="spacingAndGlyphs" stroke="#000" stroke-width="0.35">40E</text>
<text x="967.6" y="816.4" font-size="18.5" text-anchor="middle" textLength="29.0" lengthAdjust="spacingAndGlyphs" stroke="#000" stroke-width="0.35">50E</text>
<text x="1089.2" y="816.4" font-size="18.5" text-anchor="middle" textLength="29.0" lengthAdjust="spacingAndGlyphs" stroke="#000" stroke-width="0.35">60E</text>
<text x="54.8" y="32.3" font-size="20.3" textLength="165.1" lengthAdjust="spacingAndGlyphs" stroke="#000" stroke-width="0.25">DREAM8—assim:</text>
<text x="229.4" y="32.3" font-size="20.3" textLength="34.8" lengthAdjust="spacingAndGlyphs" stroke="#000" stroke-width="0.25">Dry</text>
<text x="275.8" y="32.3" font-size="20.3" textLength="45.8" lengthAdjust="spacingAndGlyphs" stroke="#000" stroke-width="0.25">dust</text>
<text x="331.4" y="32.3" font-size="20.3" textLength="103.8" lengthAdjust="spacingAndGlyphs" stroke="#000" stroke-width="0.25">deposition</text>
<text x="447.8" y="32.3" font-size="20.3" textLength="90.4" lengthAdjust="spacingAndGlyphs" stroke="#000" stroke-width="0.25">(mg/m²)</text>
<text x="54.8" y="54.3" font-size="20.3" textLength="89.1" lengthAdjust="spacingAndGlyphs" stroke="#000" stroke-width="0.25">Forecast</text>
<text x="154.7" y="54.3" font-size="20.3" textLength="47.5" lengthAdjust="spacingAndGlyphs" stroke="#000" stroke-width="0.25">base</text>
<text x="215.2" y="54.3" font-size="20.3" textLength="51.0" lengthAdjust="spacingAndGlyphs" stroke="#000" stroke-width="0.25">time:</text>
<text x="277.0" y="54.3" font-size="20.3" textLength="154.2" lengthAdjust="spacingAndGlyphs" stroke="#000" stroke-width="0.25">00Z30JUL2025</text>
<text x="479.5" y="54.3" font-size="20.3" textLength="45.7" lengthAdjust="spacingAndGlyphs" stroke="#000" stroke-width="0.25">valid</text>
<text x="537.4" y="54.3" font-size="20.3" textLength="50.8" lengthAdjust="spacingAndGlyphs" stroke="#000" stroke-width="0.25">time:</text>
<text x="599.8" y="54.3" font-size="20.3" textLength="159.4" lengthAdjust="spacingAndGlyphs" stroke="#000" stroke-width="0.25">09Z01AUG2025</text>
<text x="769.8" y="54.3" font-size="20.3" textLength="62.4" lengthAdjust="spacingAndGlyphs" stroke="#000" stroke-width="0.25">(+57)</text>
<path d="M252.2 845.6 L163.6 856.5 L252.2 867.4 Z" fill="#fff" stroke="#000" stroke-width="2" stroke-linejoin="miter"/>
<path d="M953.0 845.6 L1041.4 856.5 L953.0 867.4 Z" fill="#ababab" stroke="#000" stroke-width="2" stroke-linejoin="miter"/>
<rect x="252.2" y="845.6" width="87.6" height="21.8" fill="#c4f0ea" stroke="#000" stroke-width="2"/>
<rect x="339.8" y="845.6" width="87.6" height="21.8" fill="#5fe3bd" stroke="#000" stroke-width="2"/>
<rect x="427.4" y="845.6" width="87.6" height="21.8" fill="#55b99b" stroke="#000" stroke-width="2"/>
<rect x="515.0" y="845.6" width="87.6" height="21.8" fill="#fae878" stroke="#000" stroke-width="2"/>
<rect x="602.6" y="845.6" width="87.6" height="21.8" fill="#ea8a6a" stroke="#000" stroke-width="2"/>
<rect x="690.2" y="845.6" width="87.6" height="21.8" fill="#ab4840" stroke="#000" stroke-width="2"/>
<rect x="777.8" y="845.6" width="87.6" height="21.8" fill="#80002c" stroke="#000" stroke-width="2"/>
<rect x="865.4" y="845.6" width="87.6" height="21.8" fill="#8f689d" stroke="#000" stroke-width="2"/>
<text x="252.2" y="890" font-size="23.6" text-anchor="middle" textLength="40.0" lengthAdjust="spacingAndGlyphs">0.5</text>
<text x="339.8" y="890" font-size="23.6" text-anchor="middle" textLength="15.0" lengthAdjust="spacingAndGlyphs">2</text>
<text x="427.4" y="890" font-size="23.6" text-anchor="middle" textLength="15.0" lengthAdjust="spacingAndGlyphs">5</text>
<text x="515.0" y="890" font-size="23.6" text-anchor="middle" textLength="31.0" lengthAdjust="spacingAndGlyphs">10</text>
<text x="602.6" y="890" font-size="23.6" text-anchor="middle" textLength="32.5" lengthAdjust="spacingAndGlyphs">50</text>
<text x="690.2" y="890" font-size="23.6" text-anchor="middle" textLength="47.5" lengthAdjust="spacingAndGlyphs">100</text>
<text x="777.8" y="890" font-size="23.6" text-anchor="middle" textLength="48.0" lengthAdjust="spacingAndGlyphs">500</text>
<text x="865.4" y="890" font-size="23.6" text-anchor="middle" textLength="63.0" lengthAdjust="spacingAndGlyphs">1000</text>
<text x="953.0" y="890" font-size="23.6" text-anchor="middle" textLength="61.0" lengthAdjust="spacingAndGlyphs">1500</text>
<g>
<path d="M1027.5 50.4 A7.2 7.2 0 1 1 1034.4 38.4 A8.6 8.6 0 0 1 1052.3 34.6 Q1055 33.2 1061.3 33.2 A8.6 8.6 0 0 1 1061.3 50.4 Z" fill="none" stroke="#828282" stroke-width="6.7" stroke-linejoin="round"/>
<path d="M1040.8 46 L1053 46 L1053 54.6 L1040.8 54.6 Z" fill="#fff"/>
<path d="M1040 47 L1044 47 L1047.2 50.4 L1044 53.8 L1040 53.8 Z" fill="#828282"/>
<path d="M1050.2 47 L1054 47 L1054 53.8 L1050.2 53.8 L1053.2 50.4 Z" fill="#828282"/>
<path d="M1042.6 46.6 L1047.2 46.6 L1050.6 50.4 L1047.2 54 L1042.6 54 L1046 50.4 Z" fill="#555"/>
<text x="1076.4" y="53.2" font-size="32.6" font-weight="bold" textLength="74.5" lengthAdjust="spacingAndGlyphs" style="fill:#777;stroke:#777;stroke-width:0.7">SEEVCCC</text>
</g>
</svg></body></html>
